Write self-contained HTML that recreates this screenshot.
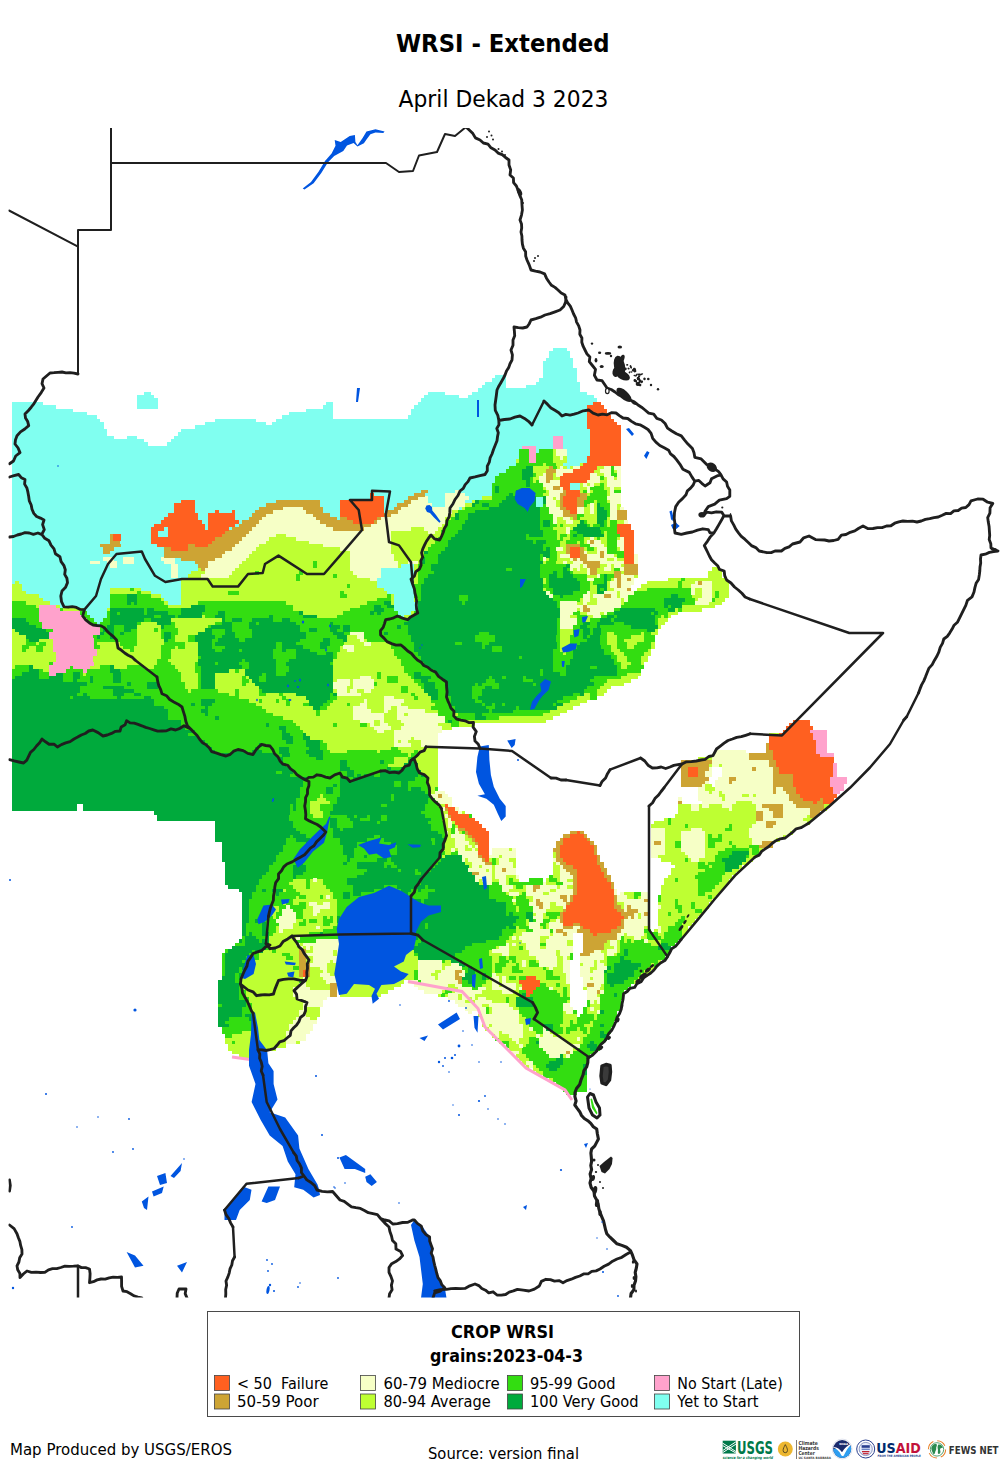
<!DOCTYPE html>
<html><head><meta charset="utf-8"><title>WRSI - Extended</title>
<style>
html,body{margin:0;padding:0;background:#fff}
svg{display:block}
text{font-family:"DejaVu Sans","Liberation Sans",sans-serif}
.b{font-weight:bold}
</style></head><body>
<svg width="1007" height="1473" viewBox="0 0 1007 1473">
<rect width="1007" height="1473" fill="#fff"/>
<defs><clipPath id="mc"><rect x="8.5" y="128" width="992" height="1169.5"/></clipPath></defs>
<g clip-path="url(#mc)">
<g shape-rendering="crispEdges">
<path fill="#80FFF0" d="M552.8 347.7h13.8v3.7h-13.8zM549.4 351.1h20.6v3.7h-20.6zM549.4 354.5h20.6v3.7h-20.6zM546 357.8h27.3v3.7h-27.3zM542.7 361.2h30.7v3.7h-30.7zM542.7 364.6h30.7v3.7h-30.7zM542.7 368h34.1v3.7h-34.1zM542.7 371.4h34.1v3.7h-34.1zM495.3 374.7h10.4v3.7h-10.4zM542.7 374.7h34.1v3.7h-34.1zM492 378.1h13.8v3.7h-13.8zM539.3 378.1h37.5v3.7h-37.5zM485.2 381.5h20.6v3.7h-20.6zM535.9 381.5h44.2v3.7h-44.2zM481.8 384.9h24v3.7h-24zM525.8 384.9h54.4v3.7h-54.4zM478.4 388.3h101.7v3.7h-101.7zM143.8 391.6h7.1v3.7h-7.1zM427.7 391.6h17.2v3.7h-17.2zM471.7 391.6h115.2v3.7h-115.2zM137.1 395h17.2v3.7h-17.2zM424.4 395h34.1v3.7h-34.1zM468.3 395h125.4v3.7h-125.4zM137.1 398.4h20.6v3.7h-20.6zM421 398.4h176.1v3.7h-176.1zM12 401.8h30.7v3.7h-30.7zM137.1 401.8h20.6v3.7h-20.6zM326.3 401.8h7.1v3.7h-7.1zM417.6 401.8h176.1v3.7h-176.1zM12 405.2h44.2v3.7h-44.2zM137.1 405.2h20.6v3.7h-20.6zM323 405.2h10.4v3.7h-10.4zM414.2 405.2h172.7v3.7h-172.7zM12 408.5h61.1v3.7h-61.1zM306.1 408.5h27.3v3.7h-27.3zM410.8 408.5h176.1v3.7h-176.1zM12 411.9h74.7v3.7h-74.7zM289.2 411.9h44.2v3.7h-44.2zM410.8 411.9h176.1v3.7h-176.1zM12 415.3h84.8v3.7h-84.8zM282.4 415.3h51v3.7h-51zM407.5 415.3h179.4v3.7h-179.4zM12 418.7h88.2v3.7h-88.2zM214.8 418.7h40.9v3.7h-40.9zM275.6 418.7h311.3v3.7h-311.3zM12 422.1h91.6v3.7h-91.6zM204.7 422.1h61.1v3.7h-61.1zM272.3 422.1h314.6v3.7h-314.6zM12 425.4h91.6v3.7h-91.6zM194.5 425.4h392.4v3.7h-392.4zM12 428.8h94.9v3.7h-94.9zM181 428.8h409.3v3.7h-409.3zM12 432.2h94.9v3.7h-94.9zM177.6 432.2h412.7v3.7h-412.7zM12 435.6h101.7v3.7h-101.7zM126.9 435.6h10.4v3.7h-10.4zM174.2 435.6h378.9v3.7h-378.9zM562.9 435.6h27.3v3.7h-27.3zM12 439h132.1v3.7h-132.1zM170.9 439h382.2v3.7h-382.2zM562.9 439h27.3v3.7h-27.3zM12 442.3h135.5v3.7h-135.5zM167.5 442.3h385.6v3.7h-385.6zM562.9 442.3h27.3v3.7h-27.3zM12 445.7h510.7v3.7h-510.7zM535.9 445.7h17.2v3.7h-17.2zM562.9 445.7h27.3v3.7h-27.3zM12 449.1h507.3v3.7h-507.3zM535.9 449.1h3.7v3.7h-3.7zM566.3 449.1h24v3.7h-24zM12 452.5h507.3v3.7h-507.3zM566.3 452.5h24v3.7h-24zM12 455.9h507.3v3.7h-507.3zM566.3 455.9h20.6v3.7h-20.6zM12 459.2h503.9v3.7h-503.9zM566.3 459.2h20.6v3.7h-20.6zM12 462.6h503.9v3.7h-503.9zM562.9 462.6h17.2v3.7h-17.2zM12 466h497.2v3.7h-497.2zM566.3 466h3.7v3.7h-3.7zM12 469.4h493.8v3.7h-493.8zM12 472.8h487v3.7h-487zM12 476.1h483.6v3.7h-483.6zM12 479.5h483.6v3.7h-483.6zM12 482.9h480.3v3.7h-480.3zM569.7 482.9h10.4v3.7h-10.4zM12 486.3h480.3v3.7h-480.3zM569.7 486.3h10.4v3.7h-10.4zM12 489.7h409.3v3.7h-409.3zM427.7 489.7h27.3v3.7h-27.3zM458.2 489.7h34.1v3.7h-34.1zM12 493h358.6v3.7h-358.6zM373.7 493h40.9v3.7h-40.9zM424.4 493h20.6v3.7h-20.6zM464.9 493h27.3v3.7h-27.3zM12 496.4h358.6v3.7h-358.6zM383.8 496.4h24v3.7h-24zM427.7 496.4h17.2v3.7h-17.2zM468.3 496.4h13.8v3.7h-13.8zM535.9 496.4h7.1v3.7h-7.1zM12 499.8h169.3v3.7h-169.3zM194.5 499.8h81.4v3.7h-81.4zM319.6 499.8h20.6v3.7h-20.6zM383.8 499.8h20.6v3.7h-20.6zM427.7 499.8h17.2v3.7h-17.2zM464.9 499.8h7.1v3.7h-7.1zM535.9 499.8h7.1v3.7h-7.1zM12 503.2h162.5v3.7h-162.5zM194.5 503.2h71.3v3.7h-71.3zM319.6 503.2h20.6v3.7h-20.6zM383.8 503.2h13.8v3.7h-13.8zM431.1 503.2h13.8v3.7h-13.8zM535.9 503.2h7.1v3.7h-7.1zM12 506.6h162.5v3.7h-162.5zM194.5 506.6h64.5v3.7h-64.5zM323 506.6h17.2v3.7h-17.2zM383.8 506.6h10.4v3.7h-10.4zM458.2 506.6h3.7v3.7h-3.7zM12 509.9h162.5v3.7h-162.5zM194.5 509.9h20.6v3.7h-20.6zM218.2 509.9h13.8v3.7h-13.8zM235.1 509.9h20.6v3.7h-20.6zM323 509.9h17.2v3.7h-17.2zM383.8 509.9h3.7v3.7h-3.7zM12 513.3h155.8v3.7h-155.8zM197.9 513.3h10.4v3.7h-10.4zM235.1 513.3h17.2v3.7h-17.2zM329.7 513.3h10.4v3.7h-10.4zM12 516.7h152.4v3.7h-152.4zM197.9 516.7h10.4v3.7h-10.4zM235.1 516.7h13.8v3.7h-13.8zM336.5 516.7h3.7v3.7h-3.7zM12 520.1h149v3.7h-149zM201.3 520.1h7.1v3.7h-7.1zM238.5 520.1h3.7v3.7h-3.7zM12 523.5h142.3v3.7h-142.3zM204.7 523.5h3.7v3.7h-3.7zM235.1 523.5h3.7v3.7h-3.7zM12 526.8h138.9v3.7h-138.9zM164.1 526.8h3.7v3.7h-3.7zM204.7 526.8h3.7v3.7h-3.7zM228.3 526.8h3.7v3.7h-3.7zM12 530.2h138.9v3.7h-138.9zM157.3 530.2h10.4v3.7h-10.4zM12 533.6h98.3v3.7h-98.3zM120.2 533.6h30.7v3.7h-30.7zM157.3 533.6h10.4v3.7h-10.4zM12 537h98.3v3.7h-98.3zM120.2 537h30.7v3.7h-30.7zM12 540.4h98.3v3.7h-98.3zM120.2 540.4h30.7v3.7h-30.7zM12 543.7h88.2v3.7h-88.2zM120.2 543.7h37.5v3.7h-37.5zM12 547.1h91.6v3.7h-91.6zM113.4 547.1h51v3.7h-51zM12 550.5h91.6v3.7h-91.6zM110 550.5h54.4v3.7h-54.4zM12 553.9h152.4v3.7h-152.4zM12 557.3h91.6v3.7h-91.6zM113.4 557.3h10.4v3.7h-10.4zM133.7 557.3h27.3v3.7h-27.3zM174.2 557.3h7.1v3.7h-7.1zM12 560.6h78v3.7h-78zM99.9 560.6h7.1v3.7h-7.1zM116.8 560.6h7.1v3.7h-7.1zM133.7 560.6h30.7v3.7h-30.7zM174.2 560.6h20.6v3.7h-20.6zM12 564h98.3v3.7h-98.3zM116.8 564h54.4v3.7h-54.4zM177.6 564h20.6v3.7h-20.6zM400.7 564h13.8v3.7h-13.8zM12 567.4h159.2v3.7h-159.2zM177.6 567.4h20.6v3.7h-20.6zM380.4 567.4h34.1v3.7h-34.1zM12 570.8h159.2v3.7h-159.2zM177.6 570.8h13.8v3.7h-13.8zM380.4 570.8h34.1v3.7h-34.1zM12 574.2h159.2v3.7h-159.2zM177.6 574.2h10.4v3.7h-10.4zM380.4 574.2h34.1v3.7h-34.1zM12 577.5h169.3v3.7h-169.3zM377 577.5h37.5v3.7h-37.5zM12 580.9h3.7v3.7h-3.7zM18.8 580.9h162.5v3.7h-162.5zM377 580.9h37.5v3.7h-37.5zM22.1 584.3h159.2v3.7h-159.2zM377 584.3h37.5v3.7h-37.5zM22.1 587.7h88.2v3.7h-88.2zM140.4 587.7h40.9v3.7h-40.9zM383.8 587.7h30.7v3.7h-30.7zM25.5 591.1h84.8v3.7h-84.8zM150.6 591.1h30.7v3.7h-30.7zM387.2 591.1h27.3v3.7h-27.3zM39 594.4h71.3v3.7h-71.3zM160.7 594.4h20.6v3.7h-20.6zM393.9 594.4h20.6v3.7h-20.6zM42.4 597.8h67.9v3.7h-67.9zM164.1 597.8h17.2v3.7h-17.2zM393.9 597.8h20.6v3.7h-20.6zM49.2 601.2h61.1v3.7h-61.1zM167.5 601.2h13.8v3.7h-13.8zM393.9 601.2h24v3.7h-24zM59.3 604.6h51v3.7h-51zM393.9 604.6h24v3.7h-24zM83 608h24v3.7h-24zM393.9 608h24v3.7h-24zM86.4 611.3h20.6v3.7h-20.6zM397.3 611.3h13.8v3.7h-13.8zM89.7 614.7h17.2v3.7h-17.2zM400.7 614.7h3.7v3.7h-3.7zM93.1 618.1h10.4v3.7h-10.4zM96.5 621.5h3.7v3.7h-3.7z"/>
<path fill="#BEFF32" d="M552.8 449.1h3.7v3.7h-3.7zM552.8 452.5h3.7v3.7h-3.7zM552.8 455.9h7.1v3.7h-7.1zM562.9 455.9h3.7v3.7h-3.7zM515.6 459.2h3.7v3.7h-3.7zM552.8 459.2h13.8v3.7h-13.8zM542.7 462.6h3.7v3.7h-3.7zM556.2 462.6h7.1v3.7h-7.1zM579.8 462.6h3.7v3.7h-3.7zM532.5 466h17.2v3.7h-17.2zM556.2 466h3.7v3.7h-3.7zM562.9 466h3.7v3.7h-3.7zM569.7 466h3.7v3.7h-3.7zM596.7 466h7.1v3.7h-7.1zM532.5 469.4h13.8v3.7h-13.8zM593.4 469.4h7.1v3.7h-7.1zM613.6 469.4h3.7v3.7h-3.7zM535.9 472.8h7.1v3.7h-7.1zM552.8 472.8h3.7v3.7h-3.7zM596.7 472.8h7.1v3.7h-7.1zM532.5 476.1h7.1v3.7h-7.1zM552.8 476.1h7.1v3.7h-7.1zM603.5 476.1h3.7v3.7h-3.7zM613.6 476.1h3.7v3.7h-3.7zM532.5 479.5h3.7v3.7h-3.7zM600.1 479.5h7.1v3.7h-7.1zM579.8 482.9h3.7v3.7h-3.7zM586.6 482.9h3.7v3.7h-3.7zM593.4 482.9h7.1v3.7h-7.1zM603.5 482.9h3.7v3.7h-3.7zM542.7 486.3h3.7v3.7h-3.7zM579.8 486.3h7.1v3.7h-7.1zM603.5 486.3h7.1v3.7h-7.1zM613.6 486.3h7.1v3.7h-7.1zM546 489.7h3.7v3.7h-3.7zM579.8 489.7h3.7v3.7h-3.7zM590 489.7h3.7v3.7h-3.7zM606.9 489.7h3.7v3.7h-3.7zM542.7 493h7.1v3.7h-7.1zM586.6 493h3.7v3.7h-3.7zM606.9 493h3.7v3.7h-3.7zM481.8 496.4h10.4v3.7h-10.4zM552.8 496.4h3.7v3.7h-3.7zM471.7 499.8h3.7v3.7h-3.7zM556.2 499.8h3.7v3.7h-3.7zM593.4 499.8h3.7v3.7h-3.7zM606.9 499.8h3.7v3.7h-3.7zM464.9 503.2h7.1v3.7h-7.1zM556.2 503.2h3.7v3.7h-3.7zM586.6 503.2h3.7v3.7h-3.7zM593.4 503.2h3.7v3.7h-3.7zM617 503.2h3.7v3.7h-3.7zM461.5 506.6h3.7v3.7h-3.7zM583.2 506.6h7.1v3.7h-7.1zM593.4 506.6h3.7v3.7h-3.7zM617 506.6h3.7v3.7h-3.7zM451.4 509.9h7.1v3.7h-7.1zM583.2 509.9h7.1v3.7h-7.1zM593.4 509.9h3.7v3.7h-3.7zM448 513.3h7.1v3.7h-7.1zM583.2 513.3h13.8v3.7h-13.8zM444.6 516.7h7.1v3.7h-7.1zM556.2 516.7h7.1v3.7h-7.1zM569.7 516.7h3.7v3.7h-3.7zM579.8 516.7h17.2v3.7h-17.2zM606.9 516.7h3.7v3.7h-3.7zM444.6 520.1h3.7v3.7h-3.7zM556.2 520.1h10.4v3.7h-10.4zM573.1 520.1h7.1v3.7h-7.1zM586.6 520.1h10.4v3.7h-10.4zM606.9 520.1h3.7v3.7h-3.7zM617 520.1h7.1v3.7h-7.1zM441.3 523.5h3.7v3.7h-3.7zM556.2 523.5h3.7v3.7h-3.7zM562.9 523.5h13.8v3.7h-13.8zM590 523.5h3.7v3.7h-3.7zM606.9 523.5h3.7v3.7h-3.7zM410.8 526.8h13.8v3.7h-13.8zM437.9 526.8h7.1v3.7h-7.1zM552.8 526.8h13.8v3.7h-13.8zM569.7 526.8h3.7v3.7h-3.7zM390.6 530.2h37.5v3.7h-37.5zM434.5 530.2h7.1v3.7h-7.1zM556.2 530.2h10.4v3.7h-10.4zM603.5 530.2h3.7v3.7h-3.7zM275.6 533.6h10.4v3.7h-10.4zM390.6 533.6h51v3.7h-51zM556.2 533.6h3.7v3.7h-3.7zM566.3 533.6h3.7v3.7h-3.7zM603.5 533.6h3.7v3.7h-3.7zM268.9 537h27.3v3.7h-27.3zM390.6 537h47.6v3.7h-47.6zM556.2 537h3.7v3.7h-3.7zM562.9 537h7.1v3.7h-7.1zM583.2 537h7.1v3.7h-7.1zM593.4 537h3.7v3.7h-3.7zM600.1 537h7.1v3.7h-7.1zM617 537h3.7v3.7h-3.7zM265.5 540.4h44.2v3.7h-44.2zM390.6 540.4h44.2v3.7h-44.2zM559.6 540.4h7.1v3.7h-7.1zM576.5 540.4h3.7v3.7h-3.7zM583.2 540.4h3.7v3.7h-3.7zM600.1 540.4h7.1v3.7h-7.1zM258.7 543.7h64.5v3.7h-64.5zM390.6 543.7h40.9v3.7h-40.9zM559.6 543.7h7.1v3.7h-7.1zM603.5 543.7h3.7v3.7h-3.7zM255.4 547.1h84.8v3.7h-84.8zM390.6 547.1h37.5v3.7h-37.5zM562.9 547.1h3.7v3.7h-3.7zM583.2 547.1h3.7v3.7h-3.7zM593.4 547.1h3.7v3.7h-3.7zM617 547.1h3.7v3.7h-3.7zM252 550.5h98.3v3.7h-98.3zM390.6 550.5h34.1v3.7h-34.1zM556.2 550.5h10.4v3.7h-10.4zM586.6 550.5h10.4v3.7h-10.4zM248.6 553.9h101.7v3.7h-101.7zM393.9 553.9h30.7v3.7h-30.7zM556.2 553.9h3.7v3.7h-3.7zM613.6 553.9h3.7v3.7h-3.7zM245.2 557.3h105.1v3.7h-105.1zM393.9 557.3h27.3v3.7h-27.3zM546 557.3h3.7v3.7h-3.7zM556.2 557.3h13.8v3.7h-13.8zM606.9 557.3h7.1v3.7h-7.1zM617 557.3h7.1v3.7h-7.1zM241.8 560.6h71.3v3.7h-71.3zM316.2 560.6h34.1v3.7h-34.1zM397.3 560.6h10.4v3.7h-10.4zM417.6 560.6h3.7v3.7h-3.7zM542.7 560.6h3.7v3.7h-3.7zM556.2 560.6h7.1v3.7h-7.1zM566.3 560.6h7.1v3.7h-7.1zM238.5 564h74.7v3.7h-74.7zM316.2 564h34.1v3.7h-34.1zM397.3 564h3.7v3.7h-3.7zM414.2 564h3.7v3.7h-3.7zM579.8 564h3.7v3.7h-3.7zM600.1 564h7.1v3.7h-7.1zM610.3 564h3.7v3.7h-3.7zM620.4 564h3.7v3.7h-3.7zM197.9 567.4h3.7v3.7h-3.7zM235.1 567.4h115.2v3.7h-115.2zM414.2 567.4h3.7v3.7h-3.7zM573.1 567.4h3.7v3.7h-3.7zM579.8 567.4h7.1v3.7h-7.1zM596.7 567.4h7.1v3.7h-7.1zM610.3 567.4h3.7v3.7h-3.7zM711.7 567.4h7.1v3.7h-7.1zM191.1 570.8h13.8v3.7h-13.8zM231.7 570.8h24v3.7h-24zM258.7 570.8h40.9v3.7h-40.9zM302.7 570.8h51v3.7h-51zM414.2 570.8h3.7v3.7h-3.7zM573.1 570.8h13.8v3.7h-13.8zM596.7 570.8h17.2v3.7h-17.2zM620.4 570.8h3.7v3.7h-3.7zM708.3 570.8h13.8v3.7h-13.8zM187.8 574.2h13.8v3.7h-13.8zM228.3 574.2h67.9v3.7h-67.9zM299.3 574.2h34.1v3.7h-34.1zM336.5 574.2h20.6v3.7h-20.6zM414.2 574.2h3.7v3.7h-3.7zM586.6 574.2h10.4v3.7h-10.4zM633.9 574.2h3.7v3.7h-3.7zM708.3 574.2h13.8v3.7h-13.8zM181 577.5h115.2v3.7h-115.2zM299.3 577.5h71.3v3.7h-71.3zM414.2 577.5h3.7v3.7h-3.7zM542.7 577.5h3.7v3.7h-3.7zM610.3 577.5h3.7v3.7h-3.7zM667.7 577.5h13.8v3.7h-13.8zM684.6 577.5h40.9v3.7h-40.9zM15.4 580.9h3.7v3.7h-3.7zM181 580.9h196.3v3.7h-196.3zM414.2 580.9h3.7v3.7h-3.7zM542.7 580.9h3.7v3.7h-3.7zM590 580.9h3.7v3.7h-3.7zM606.9 580.9h3.7v3.7h-3.7zM647.4 580.9h30.7v3.7h-30.7zM681.2 580.9h13.8v3.7h-13.8zM711.7 580.9h17.2v3.7h-17.2zM12 584.3h10.4v3.7h-10.4zM181 584.3h165.9v3.7h-165.9zM350 584.3h27.3v3.7h-27.3zM590 584.3h7.1v3.7h-7.1zM606.9 584.3h3.7v3.7h-3.7zM640.7 584.3h37.5v3.7h-37.5zM681.2 584.3h10.4v3.7h-10.4zM711.7 584.3h17.2v3.7h-17.2zM12 587.7h10.4v3.7h-10.4zM110 587.7h20.6v3.7h-20.6zM133.7 587.7h7.1v3.7h-7.1zM181 587.7h203.1v3.7h-203.1zM542.7 587.7h3.7v3.7h-3.7zM590 587.7h7.1v3.7h-7.1zM606.9 587.7h7.1v3.7h-7.1zM637.3 587.7h10.4v3.7h-10.4zM694.8 587.7h7.1v3.7h-7.1zM711.7 587.7h17.2v3.7h-17.2zM12 591.1h13.8v3.7h-13.8zM110 591.1h27.3v3.7h-27.3zM140.4 591.1h10.4v3.7h-10.4zM181 591.1h47.6v3.7h-47.6zM238.5 591.1h101.7v3.7h-101.7zM343.2 591.1h44.2v3.7h-44.2zM590 591.1h7.1v3.7h-7.1zM617 591.1h3.7v3.7h-3.7zM694.8 591.1h7.1v3.7h-7.1zM711.7 591.1h3.7v3.7h-3.7zM718.4 591.1h10.4v3.7h-10.4zM12 594.4h27.3v3.7h-27.3zM150.6 594.4h10.4v3.7h-10.4zM181 594.4h159.2v3.7h-159.2zM346.6 594.4h40.9v3.7h-40.9zM390.6 594.4h3.7v3.7h-3.7zM590 594.4h3.7v3.7h-3.7zM617 594.4h3.7v3.7h-3.7zM691.4 594.4h10.4v3.7h-10.4zM711.7 594.4h3.7v3.7h-3.7zM718.4 594.4h10.4v3.7h-10.4zM12 597.8h30.7v3.7h-30.7zM160.7 597.8h3.7v3.7h-3.7zM181 597.8h196.3v3.7h-196.3zM390.6 597.8h3.7v3.7h-3.7zM414.2 597.8h3.7v3.7h-3.7zM579.8 597.8h3.7v3.7h-3.7zM590 597.8h7.1v3.7h-7.1zM620.4 597.8h3.7v3.7h-3.7zM694.8 597.8h3.7v3.7h-3.7zM715 597.8h10.4v3.7h-10.4zM25.5 601.2h24v3.7h-24zM164.1 601.2h3.7v3.7h-3.7zM181 601.2h17.2v3.7h-17.2zM285.8 601.2h81.4v3.7h-81.4zM390.6 601.2h3.7v3.7h-3.7zM576.5 601.2h7.1v3.7h-7.1zM586.6 601.2h10.4v3.7h-10.4zM620.4 601.2h3.7v3.7h-3.7zM708.3 601.2h13.8v3.7h-13.8zM35.7 604.6h3.7v3.7h-3.7zM55.9 604.6h3.7v3.7h-3.7zM167.5 604.6h24v3.7h-24zM292.5 604.6h67.9v3.7h-67.9zM681.2 604.6h34.1v3.7h-34.1zM62.7 608h20.6v3.7h-20.6zM106.6 608h3.7v3.7h-3.7zM292.5 608h57.8v3.7h-57.8zM576.5 608h3.7v3.7h-3.7zM674.5 608h3.7v3.7h-3.7zM681.2 608h20.6v3.7h-20.6zM302.7 611.3h40.9v3.7h-40.9zM410.8 611.3h3.7v3.7h-3.7zM579.8 611.3h7.1v3.7h-7.1zM600.1 611.3h3.7v3.7h-3.7zM667.7 611.3h10.4v3.7h-10.4zM201.3 614.7h3.7v3.7h-3.7zM316.2 614.7h20.6v3.7h-20.6zM404.1 614.7h7.1v3.7h-7.1zM569.7 614.7h7.1v3.7h-7.1zM586.6 614.7h7.1v3.7h-7.1zM661 614.7h3.7v3.7h-3.7zM667.7 614.7h3.7v3.7h-3.7zM170.9 618.1h51v3.7h-51zM583.2 618.1h7.1v3.7h-7.1zM657.6 618.1h10.4v3.7h-10.4zM140.4 621.5h17.2v3.7h-17.2zM174.2 621.5h40.9v3.7h-40.9zM657.6 621.5h7.1v3.7h-7.1zM137.1 624.9h24v3.7h-24zM174.2 624.9h34.1v3.7h-34.1zM657.6 624.9h3.7v3.7h-3.7zM12 628.2h3.7v3.7h-3.7zM137.1 628.2h17.2v3.7h-17.2zM157.3 628.2h3.7v3.7h-3.7zM177.6 628.2h27.3v3.7h-27.3zM559.6 628.2h13.8v3.7h-13.8zM654.2 628.2h3.7v3.7h-3.7zM12 631.6h7.1v3.7h-7.1zM137.1 631.6h24v3.7h-24zM177.6 631.6h20.6v3.7h-20.6zM559.6 631.6h13.8v3.7h-13.8zM606.9 631.6h7.1v3.7h-7.1zM640.7 631.6h3.7v3.7h-3.7zM650.8 631.6h7.1v3.7h-7.1zM12 635h13.8v3.7h-13.8zM137.1 635h24v3.7h-24zM174.2 635h13.8v3.7h-13.8zM346.6 635h10.4v3.7h-10.4zM559.6 635h10.4v3.7h-10.4zM606.9 635h10.4v3.7h-10.4zM630.5 635h13.8v3.7h-13.8zM12 638.4h13.8v3.7h-13.8zM39 638.4h13.8v3.7h-13.8zM137.1 638.4h27.3v3.7h-27.3zM174.2 638.4h13.8v3.7h-13.8zM346.6 638.4h13.8v3.7h-13.8zM363.5 638.4h3.7v3.7h-3.7zM559.6 638.4h10.4v3.7h-10.4zM606.9 638.4h10.4v3.7h-10.4zM623.8 638.4h20.6v3.7h-20.6zM12 641.8h13.8v3.7h-13.8zM35.7 641.8h3.7v3.7h-3.7zM45.8 641.8h7.1v3.7h-7.1zM96.5 641.8h24v3.7h-24zM137.1 641.8h27.3v3.7h-27.3zM184.4 641.8h13.8v3.7h-13.8zM343.2 641.8h20.6v3.7h-20.6zM370.3 641.8h20.6v3.7h-20.6zM559.6 641.8h10.4v3.7h-10.4zM606.9 641.8h10.4v3.7h-10.4zM627.2 641.8h10.4v3.7h-10.4zM650.8 641.8h3.7v3.7h-3.7zM12 645.1h10.4v3.7h-10.4zM28.9 645.1h7.1v3.7h-7.1zM42.4 645.1h10.4v3.7h-10.4zM99.9 645.1h24v3.7h-24zM133.7 645.1h27.3v3.7h-27.3zM174.2 645.1h3.7v3.7h-3.7zM184.4 645.1h13.8v3.7h-13.8zM339.9 645.1h3.7v3.7h-3.7zM353.4 645.1h37.5v3.7h-37.5zM559.6 645.1h10.4v3.7h-10.4zM610.3 645.1h7.1v3.7h-7.1zM627.2 645.1h7.1v3.7h-7.1zM650.8 645.1h3.7v3.7h-3.7zM12 648.5h10.4v3.7h-10.4zM25.5 648.5h10.4v3.7h-10.4zM42.4 648.5h10.4v3.7h-10.4zM96.5 648.5h34.1v3.7h-34.1zM133.7 648.5h27.3v3.7h-27.3zM170.9 648.5h27.3v3.7h-27.3zM339.9 648.5h7.1v3.7h-7.1zM353.4 648.5h40.9v3.7h-40.9zM559.6 648.5h7.1v3.7h-7.1zM610.3 648.5h10.4v3.7h-10.4zM647.4 648.5h3.7v3.7h-3.7zM12 651.9h44.2v3.7h-44.2zM96.5 651.9h64.5v3.7h-64.5zM170.9 651.9h27.3v3.7h-27.3zM336.5 651.9h57.8v3.7h-57.8zM562.9 651.9h3.7v3.7h-3.7zM613.6 651.9h10.4v3.7h-10.4zM644.1 651.9h7.1v3.7h-7.1zM12 655.3h44.2v3.7h-44.2zM93.1 655.3h67.9v3.7h-67.9zM170.9 655.3h27.3v3.7h-27.3zM336.5 655.3h61.1v3.7h-61.1zM617 655.3h10.4v3.7h-10.4zM640.7 655.3h7.1v3.7h-7.1zM12 658.7h44.2v3.7h-44.2zM93.1 658.7h64.5v3.7h-64.5zM167.5 658.7h30.7v3.7h-30.7zM333.1 658.7h67.9v3.7h-67.9zM617 658.7h10.4v3.7h-10.4zM640.7 658.7h7.1v3.7h-7.1zM12 662h37.5v3.7h-37.5zM93.1 662h64.5v3.7h-64.5zM170.9 662h24v3.7h-24zM333.1 662h67.9v3.7h-67.9zM620.4 662h10.4v3.7h-10.4zM640.7 662h3.7v3.7h-3.7zM12 665.4h3.7v3.7h-3.7zM32.3 665.4h17.2v3.7h-17.2zM89.7 665.4h10.4v3.7h-10.4zM113.4 665.4h13.8v3.7h-13.8zM143.8 665.4h10.4v3.7h-10.4zM174.2 665.4h20.6v3.7h-20.6zM333.1 665.4h71.3v3.7h-71.3zM620.4 665.4h7.1v3.7h-7.1zM42.4 668.8h7.1v3.7h-7.1zM177.6 668.8h17.2v3.7h-17.2zM228.3 668.8h7.1v3.7h-7.1zM238.5 668.8h7.1v3.7h-7.1zM333.1 668.8h71.3v3.7h-71.3zM83 672.2h3.7v3.7h-3.7zM181 672.2h17.2v3.7h-17.2zM214.8 672.2h30.7v3.7h-30.7zM333.1 672.2h44.2v3.7h-44.2zM380.4 672.2h27.3v3.7h-27.3zM627.2 672.2h13.8v3.7h-13.8zM181 675.6h17.2v3.7h-17.2zM214.8 675.6h27.3v3.7h-27.3zM245.2 675.6h3.7v3.7h-3.7zM333.1 675.6h27.3v3.7h-27.3zM370.3 675.6h7.1v3.7h-7.1zM380.4 675.6h7.1v3.7h-7.1zM397.3 675.6h13.8v3.7h-13.8zM620.4 675.6h17.2v3.7h-17.2zM181 678.9h17.2v3.7h-17.2zM214.8 678.9h27.3v3.7h-27.3zM248.6 678.9h3.7v3.7h-3.7zM333.1 678.9h3.7v3.7h-3.7zM350 678.9h3.7v3.7h-3.7zM373.7 678.9h13.8v3.7h-13.8zM397.3 678.9h17.2v3.7h-17.2zM606.9 678.9h24v3.7h-24zM184.4 682.3h13.8v3.7h-13.8zM214.8 682.3h27.3v3.7h-27.3zM245.2 682.3h10.4v3.7h-10.4zM350 682.3h3.7v3.7h-3.7zM377 682.3h40.9v3.7h-40.9zM603.5 682.3h20.6v3.7h-20.6zM184.4 685.7h13.8v3.7h-13.8zM214.8 685.7h44.2v3.7h-44.2zM346.6 685.7h7.1v3.7h-7.1zM373.7 685.7h27.3v3.7h-27.3zM407.5 685.7h13.8v3.7h-13.8zM600.1 685.7h10.4v3.7h-10.4zM187.8 689.1h3.7v3.7h-3.7zM218.2 689.1h17.2v3.7h-17.2zM238.5 689.1h20.6v3.7h-20.6zM333.1 689.1h3.7v3.7h-3.7zM346.6 689.1h3.7v3.7h-3.7zM356.8 689.1h7.1v3.7h-7.1zM370.3 689.1h30.7v3.7h-30.7zM407.5 689.1h17.2v3.7h-17.2zM596.7 689.1h10.4v3.7h-10.4zM228.3 692.5h7.1v3.7h-7.1zM238.5 692.5h20.6v3.7h-20.6zM265.5 692.5h13.8v3.7h-13.8zM282.4 692.5h13.8v3.7h-13.8zM360.1 692.5h51v3.7h-51zM414.2 692.5h13.8v3.7h-13.8zM583.2 692.5h7.1v3.7h-7.1zM596.7 692.5h7.1v3.7h-7.1zM238.5 695.8h44.2v3.7h-44.2zM285.8 695.8h20.6v3.7h-20.6zM336.5 695.8h47.6v3.7h-47.6zM393.9 695.8h20.6v3.7h-20.6zM417.6 695.8h13.8v3.7h-13.8zM576.5 695.8h13.8v3.7h-13.8zM248.6 699.2h10.4v3.7h-10.4zM262.1 699.2h13.8v3.7h-13.8zM279 699.2h7.1v3.7h-7.1zM289.2 699.2h20.6v3.7h-20.6zM333.1 699.2h30.7v3.7h-30.7zM366.9 699.2h17.2v3.7h-17.2zM404.1 699.2h27.3v3.7h-27.3zM569.7 699.2h17.2v3.7h-17.2zM255.4 702.6h30.7v3.7h-30.7zM289.2 702.6h13.8v3.7h-13.8zM329.7 702.6h17.2v3.7h-17.2zM350 702.6h10.4v3.7h-10.4zM366.9 702.6h17.2v3.7h-17.2zM400.7 702.6h34.1v3.7h-34.1zM562.9 702.6h17.2v3.7h-17.2zM262.1 706h51v3.7h-51zM326.3 706h27.3v3.7h-27.3zM366.9 706h17.2v3.7h-17.2zM390.6 706h7.1v3.7h-7.1zM407.5 706h24v3.7h-24zM556.2 706h17.2v3.7h-17.2zM265.5 709.4h51v3.7h-51zM319.6 709.4h34.1v3.7h-34.1zM370.3 709.4h13.8v3.7h-13.8zM387.2 709.4h10.4v3.7h-10.4zM424.4 709.4h13.8v3.7h-13.8zM549.4 709.4h17.2v3.7h-17.2zM272.3 712.7h44.2v3.7h-44.2zM319.6 712.7h34.1v3.7h-34.1zM383.8 712.7h13.8v3.7h-13.8zM404.1 712.7h3.7v3.7h-3.7zM454.8 712.7h3.7v3.7h-3.7zM542.7 712.7h17.2v3.7h-17.2zM282.4 716.1h71.3v3.7h-71.3zM383.8 716.1h13.8v3.7h-13.8zM498.7 716.1h54.4v3.7h-54.4zM292.5 719.5h67.9v3.7h-67.9zM373.7 719.5h7.1v3.7h-7.1zM383.8 719.5h17.2v3.7h-17.2zM458.2 719.5h88.2v3.7h-88.2zM295.9 722.9h37.5v3.7h-37.5zM336.5 722.9h24v3.7h-24zM366.9 722.9h3.7v3.7h-3.7zM373.7 722.9h7.1v3.7h-7.1zM387.2 722.9h17.2v3.7h-17.2zM437.9 722.9h13.8v3.7h-13.8zM458.2 722.9h17.2v3.7h-17.2zM299.3 726.3h74.7v3.7h-74.7zM390.6 726.3h10.4v3.7h-10.4zM441.3 726.3h10.4v3.7h-10.4zM302.7 729.6h74.7v3.7h-74.7zM383.8 729.6h10.4v3.7h-10.4zM306.1 733h88.2v3.7h-88.2zM769.1 733h10.4v3.7h-10.4zM309.4 736.4h84.8v3.7h-84.8zM410.8 736.4h3.7v3.7h-3.7zM323 739.8h71.3v3.7h-71.3zM397.3 739.8h3.7v3.7h-3.7zM407.5 739.8h13.8v3.7h-13.8zM326.3 743.2h67.9v3.7h-67.9zM410.8 743.2h10.4v3.7h-10.4zM326.3 746.5h64.5v3.7h-64.5zM397.3 746.5h40.9v3.7h-40.9zM329.7 749.9h17.2v3.7h-17.2zM377 749.9h3.7v3.7h-3.7zM400.7 749.9h13.8v3.7h-13.8zM417.6 749.9h20.6v3.7h-20.6zM407.5 753.3h3.7v3.7h-3.7zM417.6 753.3h20.6v3.7h-20.6zM393.9 756.7h13.8v3.7h-13.8zM414.2 756.7h24v3.7h-24zM698.1 756.7h13.8v3.7h-13.8zM393.9 760.1h13.8v3.7h-13.8zM414.2 760.1h24v3.7h-24zM387.2 763.4h17.2v3.7h-17.2zM417.6 763.4h20.6v3.7h-20.6zM708.3 763.4h3.7v3.7h-3.7zM718.4 763.4h3.7v3.7h-3.7zM417.6 766.8h20.6v3.7h-20.6zM421 770.2h17.2v3.7h-17.2zM424.4 773.6h13.8v3.7h-13.8zM427.7 777h10.4v3.7h-10.4zM427.7 780.3h10.4v3.7h-10.4zM427.7 783.7h10.4v3.7h-10.4zM704.9 783.7h7.1v3.7h-7.1zM431.1 787.1h3.7v3.7h-3.7zM704.9 787.1h10.4v3.7h-10.4zM431.1 790.5h3.7v3.7h-3.7zM708.3 790.5h3.7v3.7h-3.7zM718.4 790.5h3.7v3.7h-3.7zM319.6 793.9h3.7v3.7h-3.7zM718.4 793.9h7.1v3.7h-7.1zM742.1 793.9h7.1v3.7h-7.1zM752.2 793.9h3.7v3.7h-3.7zM316.2 797.2h10.4v3.7h-10.4zM721.8 797.2h3.7v3.7h-3.7zM309.4 800.6h20.6v3.7h-20.6zM735.3 800.6h17.2v3.7h-17.2zM309.4 804h10.4v3.7h-10.4zM437.9 804h7.1v3.7h-7.1zM677.9 804h13.8v3.7h-13.8zM698.1 804h3.7v3.7h-3.7zM708.3 804h13.8v3.7h-13.8zM731.9 804h24v3.7h-24zM823.2 804h7.1v3.7h-7.1zM309.4 807.4h10.4v3.7h-10.4zM677.9 807.4h13.8v3.7h-13.8zM698.1 807.4h30.7v3.7h-30.7zM731.9 807.4h24v3.7h-24zM823.2 807.4h3.7v3.7h-3.7zM309.4 810.8h13.8v3.7h-13.8zM441.3 810.8h7.1v3.7h-7.1zM461.5 810.8h3.7v3.7h-3.7zM677.9 810.8h78v3.7h-78zM312.8 814.1h10.4v3.7h-10.4zM441.3 814.1h3.7v3.7h-3.7zM674.5 814.1h81.4v3.7h-81.4zM806.3 814.1h3.7v3.7h-3.7zM441.3 817.5h7.1v3.7h-7.1zM664.3 817.5h3.7v3.7h-3.7zM671.1 817.5h84.8v3.7h-84.8zM802.9 817.5h10.4v3.7h-10.4zM444.6 820.9h3.7v3.7h-3.7zM451.4 820.9h3.7v3.7h-3.7zM654.2 820.9h13.8v3.7h-13.8zM671.1 820.9h84.8v3.7h-84.8zM806.3 820.9h3.7v3.7h-3.7zM444.6 824.3h3.7v3.7h-3.7zM454.8 824.3h3.7v3.7h-3.7zM650.8 824.3h34.1v3.7h-34.1zM688 824.3h40.9v3.7h-40.9zM731.9 824.3h20.6v3.7h-20.6zM444.6 827.7h7.1v3.7h-7.1zM664.3 827.7h27.3v3.7h-27.3zM701.5 827.7h24v3.7h-24zM731.9 827.7h17.2v3.7h-17.2zM448 831h3.7v3.7h-3.7zM458.2 831h3.7v3.7h-3.7zM664.3 831h17.2v3.7h-17.2zM704.9 831h44.2v3.7h-44.2zM789.4 831h3.7v3.7h-3.7zM444.6 834.4h7.1v3.7h-7.1zM464.9 834.4h3.7v3.7h-3.7zM664.3 834.4h17.2v3.7h-17.2zM704.9 834.4h3.7v3.7h-3.7zM711.7 834.4h7.1v3.7h-7.1zM721.8 834.4h27.3v3.7h-27.3zM782.6 834.4h3.7v3.7h-3.7zM444.6 837.8h10.4v3.7h-10.4zM464.9 837.8h7.1v3.7h-7.1zM664.3 837.8h17.2v3.7h-17.2zM704.9 837.8h3.7v3.7h-3.7zM721.8 837.8h30.7v3.7h-30.7zM775.9 837.8h3.7v3.7h-3.7zM444.6 841.2h10.4v3.7h-10.4zM468.3 841.2h7.1v3.7h-7.1zM664.3 841.2h10.4v3.7h-10.4zM704.9 841.2h3.7v3.7h-3.7zM715 841.2h13.8v3.7h-13.8zM731.9 841.2h20.6v3.7h-20.6zM444.6 844.6h10.4v3.7h-10.4zM464.9 844.6h3.7v3.7h-3.7zM471.7 844.6h3.7v3.7h-3.7zM664.3 844.6h10.4v3.7h-10.4zM704.9 844.6h3.7v3.7h-3.7zM715 844.6h17.2v3.7h-17.2zM735.3 844.6h13.8v3.7h-13.8zM441.3 847.9h10.4v3.7h-10.4zM454.8 847.9h3.7v3.7h-3.7zM464.9 847.9h7.1v3.7h-7.1zM475.1 847.9h3.7v3.7h-3.7zM508.9 847.9h3.7v3.7h-3.7zM664.3 847.9h17.2v3.7h-17.2zM704.9 847.9h20.6v3.7h-20.6zM748.8 847.9h3.7v3.7h-3.7zM759 847.9h3.7v3.7h-3.7zM444.6 851.3h7.1v3.7h-7.1zM552.8 851.3h3.7v3.7h-3.7zM664.3 851.3h20.6v3.7h-20.6zM704.9 851.3h13.8v3.7h-13.8zM748.8 851.3h3.7v3.7h-3.7zM441.3 854.7h3.7v3.7h-3.7zM498.7 854.7h3.7v3.7h-3.7zM552.8 854.7h3.7v3.7h-3.7zM657.6 854.7h30.7v3.7h-30.7zM704.9 854.7h10.4v3.7h-10.4zM748.8 854.7h7.1v3.7h-7.1zM464.9 858.1h3.7v3.7h-3.7zM488.6 858.1h3.7v3.7h-3.7zM495.3 858.1h3.7v3.7h-3.7zM508.9 858.1h7.1v3.7h-7.1zM661 858.1h24v3.7h-24zM688 858.1h3.7v3.7h-3.7zM698.1 858.1h17.2v3.7h-17.2zM745.5 858.1h7.1v3.7h-7.1zM464.9 861.5h7.1v3.7h-7.1zM495.3 861.5h3.7v3.7h-3.7zM512.2 861.5h3.7v3.7h-3.7zM552.8 861.5h3.7v3.7h-3.7zM671.1 861.5h27.3v3.7h-27.3zM704.9 861.5h3.7v3.7h-3.7zM742.1 861.5h7.1v3.7h-7.1zM468.3 864.8h3.7v3.7h-3.7zM478.4 864.8h3.7v3.7h-3.7zM492 864.8h3.7v3.7h-3.7zM512.2 864.8h3.7v3.7h-3.7zM552.8 864.8h7.1v3.7h-7.1zM674.5 864.8h24v3.7h-24zM708.3 864.8h3.7v3.7h-3.7zM738.7 864.8h3.7v3.7h-3.7zM485.2 868.2h3.7v3.7h-3.7zM492 868.2h3.7v3.7h-3.7zM552.8 868.2h7.1v3.7h-7.1zM671.1 868.2h34.1v3.7h-34.1zM731.9 868.2h7.1v3.7h-7.1zM492 871.6h3.7v3.7h-3.7zM552.8 871.6h7.1v3.7h-7.1zM671.1 871.6h27.3v3.7h-27.3zM725.2 871.6h10.4v3.7h-10.4zM492 875h3.7v3.7h-3.7zM505.5 875h10.4v3.7h-10.4zM552.8 875h7.1v3.7h-7.1zM667.7 875h27.3v3.7h-27.3zM721.8 875h10.4v3.7h-10.4zM292.5 878.4h13.8v3.7h-13.8zM309.4 878.4h3.7v3.7h-3.7zM316.2 878.4h7.1v3.7h-7.1zM478.4 878.4h3.7v3.7h-3.7zM492 878.4h7.1v3.7h-7.1zM505.5 878.4h3.7v3.7h-3.7zM512.2 878.4h7.1v3.7h-7.1zM546 878.4h3.7v3.7h-3.7zM556.2 878.4h3.7v3.7h-3.7zM566.3 878.4h7.1v3.7h-7.1zM664.3 878.4h10.4v3.7h-10.4zM677.9 878.4h20.6v3.7h-20.6zM721.8 878.4h7.1v3.7h-7.1zM289.2 881.7h17.2v3.7h-17.2zM309.4 881.7h13.8v3.7h-13.8zM478.4 881.7h7.1v3.7h-7.1zM505.5 881.7h3.7v3.7h-3.7zM546 881.7h10.4v3.7h-10.4zM664.3 881.7h34.1v3.7h-34.1zM718.4 881.7h10.4v3.7h-10.4zM292.5 885.1h13.8v3.7h-13.8zM309.4 885.1h17.2v3.7h-17.2zM512.2 885.1h3.7v3.7h-3.7zM522.4 885.1h3.7v3.7h-3.7zM556.2 885.1h3.7v3.7h-3.7zM566.3 885.1h7.1v3.7h-7.1zM661 885.1h37.5v3.7h-37.5zM715 885.1h10.4v3.7h-10.4zM282.4 888.5h3.7v3.7h-3.7zM295.9 888.5h34.1v3.7h-34.1zM508.9 888.5h17.2v3.7h-17.2zM549.4 888.5h7.1v3.7h-7.1zM661 888.5h37.5v3.7h-37.5zM711.7 888.5h10.4v3.7h-10.4zM299.3 891.9h34.1v3.7h-34.1zM505.5 891.9h3.7v3.7h-3.7zM519 891.9h3.7v3.7h-3.7zM542.7 891.9h7.1v3.7h-7.1zM623.8 891.9h10.4v3.7h-10.4zM661 891.9h37.5v3.7h-37.5zM704.9 891.9h13.8v3.7h-13.8zM295.9 895.3h3.7v3.7h-3.7zM306.1 895.3h13.8v3.7h-13.8zM323 895.3h3.7v3.7h-3.7zM329.7 895.3h3.7v3.7h-3.7zM512.2 895.3h3.7v3.7h-3.7zM525.8 895.3h7.1v3.7h-7.1zM627.2 895.3h7.1v3.7h-7.1zM637.3 895.3h3.7v3.7h-3.7zM661 895.3h47.6v3.7h-47.6zM711.7 895.3h3.7v3.7h-3.7zM292.5 898.6h44.2v3.7h-44.2zM529.1 898.6h3.7v3.7h-3.7zM661 898.6h13.8v3.7h-13.8zM677.9 898.6h34.1v3.7h-34.1zM282.4 902h3.7v3.7h-3.7zM292.5 902h7.1v3.7h-7.1zM306.1 902h3.7v3.7h-3.7zM316.2 902h7.1v3.7h-7.1zM329.7 902h7.1v3.7h-7.1zM512.2 902h3.7v3.7h-3.7zM549.4 902h7.1v3.7h-7.1zM617 902h7.1v3.7h-7.1zM657.6 902h17.2v3.7h-17.2zM677.9 902h13.8v3.7h-13.8zM694.8 902h13.8v3.7h-13.8zM272.3 905.4h7.1v3.7h-7.1zM306.1 905.4h7.1v3.7h-7.1zM329.7 905.4h7.1v3.7h-7.1zM515.6 905.4h3.7v3.7h-3.7zM549.4 905.4h13.8v3.7h-13.8zM620.4 905.4h3.7v3.7h-3.7zM661 905.4h13.8v3.7h-13.8zM681.2 905.4h10.4v3.7h-10.4zM694.8 905.4h13.8v3.7h-13.8zM268.9 908.8h10.4v3.7h-10.4zM302.7 908.8h10.4v3.7h-10.4zM319.6 908.8h17.2v3.7h-17.2zM515.6 908.8h3.7v3.7h-3.7zM546 908.8h17.2v3.7h-17.2zM657.6 908.8h20.6v3.7h-20.6zM681.2 908.8h13.8v3.7h-13.8zM701.5 908.8h3.7v3.7h-3.7zM268.9 912.2h7.1v3.7h-7.1zM302.7 912.2h10.4v3.7h-10.4zM316.2 912.2h20.6v3.7h-20.6zM532.5 912.2h3.7v3.7h-3.7zM542.7 912.2h3.7v3.7h-3.7zM637.3 912.2h3.7v3.7h-3.7zM657.6 912.2h10.4v3.7h-10.4zM671.1 912.2h30.7v3.7h-30.7zM272.3 915.5h3.7v3.7h-3.7zM302.7 915.5h20.6v3.7h-20.6zM326.3 915.5h3.7v3.7h-3.7zM333.1 915.5h3.7v3.7h-3.7zM542.7 915.5h7.1v3.7h-7.1zM556.2 915.5h3.7v3.7h-3.7zM637.3 915.5h3.7v3.7h-3.7zM657.6 915.5h24v3.7h-24zM684.6 915.5h13.8v3.7h-13.8zM295.9 918.9h7.1v3.7h-7.1zM306.1 918.9h3.7v3.7h-3.7zM316.2 918.9h7.1v3.7h-7.1zM333.1 918.9h3.7v3.7h-3.7zM525.8 918.9h3.7v3.7h-3.7zM549.4 918.9h7.1v3.7h-7.1zM657.6 918.9h20.6v3.7h-20.6zM684.6 918.9h10.4v3.7h-10.4zM292.5 922.3h7.1v3.7h-7.1zM306.1 922.3h17.2v3.7h-17.2zM329.7 922.3h7.1v3.7h-7.1zM525.8 922.3h3.7v3.7h-3.7zM546 922.3h3.7v3.7h-3.7zM657.6 922.3h17.2v3.7h-17.2zM681.2 922.3h10.4v3.7h-10.4zM275.6 925.7h3.7v3.7h-3.7zM292.5 925.7h24v3.7h-24zM319.6 925.7h13.8v3.7h-13.8zM515.6 925.7h3.7v3.7h-3.7zM539.3 925.7h3.7v3.7h-3.7zM546 925.7h3.7v3.7h-3.7zM644.1 925.7h3.7v3.7h-3.7zM661 925.7h7.1v3.7h-7.1zM681.2 925.7h7.1v3.7h-7.1zM275.6 929.1h3.7v3.7h-3.7zM282.4 929.1h40.9v3.7h-40.9zM515.6 929.1h10.4v3.7h-10.4zM654.2 929.1h3.7v3.7h-3.7zM661 929.1h7.1v3.7h-7.1zM681.2 929.1h7.1v3.7h-7.1zM272.3 932.4h37.5v3.7h-37.5zM346.6 932.4h64.5v3.7h-64.5zM512.2 932.4h10.4v3.7h-10.4zM549.4 932.4h3.7v3.7h-3.7zM623.8 932.4h3.7v3.7h-3.7zM644.1 932.4h3.7v3.7h-3.7zM657.6 932.4h7.1v3.7h-7.1zM681.2 932.4h3.7v3.7h-3.7zM268.9 935.8h27.3v3.7h-27.3zM346.6 935.8h10.4v3.7h-10.4zM363.5 935.8h47.6v3.7h-47.6zM508.9 935.8h3.7v3.7h-3.7zM515.6 935.8h3.7v3.7h-3.7zM539.3 935.8h10.4v3.7h-10.4zM623.8 935.8h10.4v3.7h-10.4zM640.7 935.8h7.1v3.7h-7.1zM661 935.8h3.7v3.7h-3.7zM268.9 939.2h27.3v3.7h-27.3zM346.6 939.2h10.4v3.7h-10.4zM363.5 939.2h3.7v3.7h-3.7zM370.3 939.2h27.3v3.7h-27.3zM400.7 939.2h10.4v3.7h-10.4zM505.5 939.2h17.2v3.7h-17.2zM539.3 939.2h7.1v3.7h-7.1zM566.3 939.2h7.1v3.7h-7.1zM606.9 939.2h3.7v3.7h-3.7zM617 939.2h3.7v3.7h-3.7zM623.8 939.2h3.7v3.7h-3.7zM630.5 939.2h3.7v3.7h-3.7zM647.4 939.2h13.8v3.7h-13.8zM268.9 942.6h27.3v3.7h-27.3zM299.3 942.6h3.7v3.7h-3.7zM343.2 942.6h24v3.7h-24zM373.7 942.6h30.7v3.7h-30.7zM508.9 942.6h3.7v3.7h-3.7zM515.6 942.6h10.4v3.7h-10.4zM566.3 942.6h7.1v3.7h-7.1zM603.5 942.6h7.1v3.7h-7.1zM617 942.6h3.7v3.7h-3.7zM650.8 942.6h10.4v3.7h-10.4zM268.9 946h30.7v3.7h-30.7zM302.7 946h3.7v3.7h-3.7zM309.4 946h3.7v3.7h-3.7zM343.2 946h61.1v3.7h-61.1zM407.5 946h3.7v3.7h-3.7zM495.3 946h3.7v3.7h-3.7zM508.9 946h10.4v3.7h-10.4zM522.4 946h3.7v3.7h-3.7zM539.3 946h7.1v3.7h-7.1zM603.5 946h10.4v3.7h-10.4zM617 946h3.7v3.7h-3.7zM262.1 949.3h10.4v3.7h-10.4zM275.6 949.3h24v3.7h-24zM306.1 949.3h7.1v3.7h-7.1zM333.1 949.3h3.7v3.7h-3.7zM339.9 949.3h74.7v3.7h-74.7zM488.6 949.3h3.7v3.7h-3.7zM508.9 949.3h20.6v3.7h-20.6zM556.2 949.3h3.7v3.7h-3.7zM600.1 949.3h7.1v3.7h-7.1zM617 949.3h3.7v3.7h-3.7zM258.7 952.7h24v3.7h-24zM289.2 952.7h10.4v3.7h-10.4zM333.1 952.7h3.7v3.7h-3.7zM339.9 952.7h74.7v3.7h-74.7zM488.6 952.7h13.8v3.7h-13.8zM508.9 952.7h20.6v3.7h-20.6zM556.2 952.7h3.7v3.7h-3.7zM603.5 952.7h3.7v3.7h-3.7zM613.6 952.7h3.7v3.7h-3.7zM258.7 956.1h27.3v3.7h-27.3zM292.5 956.1h7.1v3.7h-7.1zM306.1 956.1h7.1v3.7h-7.1zM339.9 956.1h78v3.7h-78zM492 956.1h7.1v3.7h-7.1zM505.5 956.1h3.7v3.7h-3.7zM515.6 956.1h20.6v3.7h-20.6zM556.2 956.1h7.1v3.7h-7.1zM566.3 956.1h3.7v3.7h-3.7zM603.5 956.1h3.7v3.7h-3.7zM248.6 959.5h51v3.7h-51zM306.1 959.5h7.1v3.7h-7.1zM329.7 959.5h3.7v3.7h-3.7zM339.9 959.5h78v3.7h-78zM444.6 959.5h7.1v3.7h-7.1zM492 959.5h7.1v3.7h-7.1zM508.9 959.5h3.7v3.7h-3.7zM515.6 959.5h7.1v3.7h-7.1zM525.8 959.5h3.7v3.7h-3.7zM535.9 959.5h3.7v3.7h-3.7zM556.2 959.5h7.1v3.7h-7.1zM593.4 959.5h3.7v3.7h-3.7zM600.1 959.5h7.1v3.7h-7.1zM657.6 959.5h3.7v3.7h-3.7zM248.6 962.9h51v3.7h-51zM326.3 962.9h10.4v3.7h-10.4zM339.9 962.9h24v3.7h-24zM366.9 962.9h51v3.7h-51zM441.3 962.9h10.4v3.7h-10.4zM492 962.9h3.7v3.7h-3.7zM505.5 962.9h10.4v3.7h-10.4zM519 962.9h3.7v3.7h-3.7zM525.8 962.9h3.7v3.7h-3.7zM556.2 962.9h7.1v3.7h-7.1zM579.8 962.9h3.7v3.7h-3.7zM593.4 962.9h3.7v3.7h-3.7zM603.5 962.9h3.7v3.7h-3.7zM650.8 962.9h3.7v3.7h-3.7zM245.2 966.2h47.6v3.7h-47.6zM309.4 966.2h10.4v3.7h-10.4zM326.3 966.2h13.8v3.7h-13.8zM343.2 966.2h74.7v3.7h-74.7zM441.3 966.2h3.7v3.7h-3.7zM492 966.2h3.7v3.7h-3.7zM502.1 966.2h10.4v3.7h-10.4zM519 966.2h24v3.7h-24zM546 966.2h3.7v3.7h-3.7zM552.8 966.2h10.4v3.7h-10.4zM590 966.2h7.1v3.7h-7.1zM647.4 966.2h7.1v3.7h-7.1zM245.2 969.6h54.4v3.7h-54.4zM309.4 969.6h13.8v3.7h-13.8zM326.3 969.6h13.8v3.7h-13.8zM343.2 969.6h71.3v3.7h-71.3zM434.5 969.6h7.1v3.7h-7.1zM492 969.6h3.7v3.7h-3.7zM502.1 969.6h10.4v3.7h-10.4zM522.4 969.6h24v3.7h-24zM552.8 969.6h10.4v3.7h-10.4zM590 969.6h3.7v3.7h-3.7zM644.1 969.6h7.1v3.7h-7.1zM241.8 973h57.8v3.7h-57.8zM309.4 973h10.4v3.7h-10.4zM329.7 973h84.8v3.7h-84.8zM431.1 973h7.1v3.7h-7.1zM495.3 973h51v3.7h-51zM552.8 973h13.8v3.7h-13.8zM640.7 973h7.1v3.7h-7.1zM241.8 976.4h61.1v3.7h-61.1zM306.1 976.4h17.2v3.7h-17.2zM339.9 976.4h74.7v3.7h-74.7zM434.5 976.4h3.7v3.7h-3.7zM488.6 976.4h3.7v3.7h-3.7zM498.7 976.4h3.7v3.7h-3.7zM505.5 976.4h3.7v3.7h-3.7zM515.6 976.4h3.7v3.7h-3.7zM535.9 976.4h10.4v3.7h-10.4zM559.6 976.4h7.1v3.7h-7.1zM590 976.4h3.7v3.7h-3.7zM637.3 976.4h3.7v3.7h-3.7zM241.8 979.8h57.8v3.7h-57.8zM306.1 979.8h20.6v3.7h-20.6zM339.9 979.8h64.5v3.7h-64.5zM485.2 979.8h7.1v3.7h-7.1zM498.7 979.8h3.7v3.7h-3.7zM505.5 979.8h13.8v3.7h-13.8zM539.3 979.8h27.3v3.7h-27.3zM633.9 979.8h3.7v3.7h-3.7zM241.8 983.1h57.8v3.7h-57.8zM306.1 983.1h24v3.7h-24zM339.9 983.1h61.1v3.7h-61.1zM448 983.1h7.1v3.7h-7.1zM481.8 983.1h10.4v3.7h-10.4zM498.7 983.1h3.7v3.7h-3.7zM515.6 983.1h7.1v3.7h-7.1zM546 983.1h10.4v3.7h-10.4zM559.6 983.1h10.4v3.7h-10.4zM600.1 983.1h3.7v3.7h-3.7zM241.8 986.5h51v3.7h-51zM309.4 986.5h20.6v3.7h-20.6zM339.9 986.5h54.4v3.7h-54.4zM448 986.5h10.4v3.7h-10.4zM485.2 986.5h7.1v3.7h-7.1zM515.6 986.5h3.7v3.7h-3.7zM552.8 986.5h10.4v3.7h-10.4zM566.3 986.5h3.7v3.7h-3.7zM583.2 986.5h3.7v3.7h-3.7zM600.1 986.5h3.7v3.7h-3.7zM245.2 989.9h47.6v3.7h-47.6zM339.9 989.9h47.6v3.7h-47.6zM441.3 989.9h3.7v3.7h-3.7zM451.4 989.9h3.7v3.7h-3.7zM481.8 989.9h20.6v3.7h-20.6zM512.2 989.9h7.1v3.7h-7.1zM556.2 989.9h7.1v3.7h-7.1zM566.3 989.9h3.7v3.7h-3.7zM245.2 993.3h47.6v3.7h-47.6zM339.9 993.3h40.9v3.7h-40.9zM437.9 993.3h3.7v3.7h-3.7zM444.6 993.3h3.7v3.7h-3.7zM458.2 993.3h3.7v3.7h-3.7zM475.1 993.3h44.2v3.7h-44.2zM559.6 993.3h3.7v3.7h-3.7zM566.3 993.3h3.7v3.7h-3.7zM596.7 993.3h3.7v3.7h-3.7zM248.6 996.7h47.6v3.7h-47.6zM458.2 996.7h3.7v3.7h-3.7zM468.3 996.7h3.7v3.7h-3.7zM475.1 996.7h3.7v3.7h-3.7zM485.2 996.7h20.6v3.7h-20.6zM508.9 996.7h7.1v3.7h-7.1zM248.6 1000h57.8v3.7h-57.8zM464.9 1000h10.4v3.7h-10.4zM492 1000h13.8v3.7h-13.8zM508.9 1000h7.1v3.7h-7.1zM566.3 1000h3.7v3.7h-3.7zM593.4 1000h3.7v3.7h-3.7zM252 1003.4h51v3.7h-51zM481.8 1003.4h7.1v3.7h-7.1zM508.9 1003.4h7.1v3.7h-7.1zM590 1003.4h10.4v3.7h-10.4zM252 1006.8h51v3.7h-51zM306.1 1006.8h13.8v3.7h-13.8zM488.6 1006.8h3.7v3.7h-3.7zM512.2 1006.8h7.1v3.7h-7.1zM586.6 1006.8h3.7v3.7h-3.7zM593.4 1006.8h7.1v3.7h-7.1zM252 1010.2h47.6v3.7h-47.6zM306.1 1010.2h13.8v3.7h-13.8zM488.6 1010.2h3.7v3.7h-3.7zM562.9 1010.2h3.7v3.7h-3.7zM586.6 1010.2h10.4v3.7h-10.4zM252 1013.6h47.6v3.7h-47.6zM306.1 1013.6h13.8v3.7h-13.8zM478.4 1013.6h3.7v3.7h-3.7zM519 1013.6h3.7v3.7h-3.7zM562.9 1013.6h13.8v3.7h-13.8zM593.4 1013.6h3.7v3.7h-3.7zM252 1016.9h44.2v3.7h-44.2zM309.4 1016.9h7.1v3.7h-7.1zM519 1016.9h7.1v3.7h-7.1zM562.9 1016.9h13.8v3.7h-13.8zM593.4 1016.9h3.7v3.7h-3.7zM252 1020.3h40.9v3.7h-40.9zM519 1020.3h10.4v3.7h-10.4zM562.9 1020.3h7.1v3.7h-7.1zM573.1 1020.3h3.7v3.7h-3.7zM590 1020.3h3.7v3.7h-3.7zM252 1023.7h37.5v3.7h-37.5zM481.8 1023.7h3.7v3.7h-3.7zM488.6 1023.7h3.7v3.7h-3.7zM522.4 1023.7h7.1v3.7h-7.1zM559.6 1023.7h10.4v3.7h-10.4zM583.2 1023.7h10.4v3.7h-10.4zM252 1027.1h37.5v3.7h-37.5zM485.2 1027.1h3.7v3.7h-3.7zM522.4 1027.1h7.1v3.7h-7.1zM562.9 1027.1h3.7v3.7h-3.7zM576.5 1027.1h3.7v3.7h-3.7zM586.6 1027.1h3.7v3.7h-3.7zM241.8 1030.5h44.2v3.7h-44.2zM498.7 1030.5h3.7v3.7h-3.7zM522.4 1030.5h13.8v3.7h-13.8zM549.4 1030.5h3.7v3.7h-3.7zM562.9 1030.5h3.7v3.7h-3.7zM569.7 1030.5h13.8v3.7h-13.8zM586.6 1030.5h3.7v3.7h-3.7zM231.7 1033.8h54.4v3.7h-54.4zM492 1033.8h3.7v3.7h-3.7zM498.7 1033.8h10.4v3.7h-10.4zM522.4 1033.8h13.8v3.7h-13.8zM539.3 1033.8h3.7v3.7h-3.7zM552.8 1033.8h34.1v3.7h-34.1zM224.9 1037.2h61.1v3.7h-61.1zM498.7 1037.2h13.8v3.7h-13.8zM519 1037.2h10.4v3.7h-10.4zM562.9 1037.2h13.8v3.7h-13.8zM579.8 1037.2h3.7v3.7h-3.7zM224.9 1040.6h7.1v3.7h-7.1zM235.1 1040.6h51v3.7h-51zM295.9 1040.6h3.7v3.7h-3.7zM498.7 1040.6h3.7v3.7h-3.7zM508.9 1040.6h7.1v3.7h-7.1zM519 1040.6h10.4v3.7h-10.4zM566.3 1040.6h17.2v3.7h-17.2zM228.3 1044h57.8v3.7h-57.8zM508.9 1044h10.4v3.7h-10.4zM522.4 1044h3.7v3.7h-3.7zM228.3 1047.4h47.6v3.7h-47.6zM508.9 1047.4h13.8v3.7h-13.8zM573.1 1047.4h3.7v3.7h-3.7zM231.7 1050.7h34.1v3.7h-34.1zM519 1050.7h3.7v3.7h-3.7zM238.5 1054.1h13.8v3.7h-13.8zM515.6 1054.1h10.4v3.7h-10.4zM562.9 1054.1h3.7v3.7h-3.7zM519 1057.5h10.4v3.7h-10.4zM522.4 1060.9h3.7v3.7h-3.7zM525.8 1064.3h3.7v3.7h-3.7zM532.5 1064.3h3.7v3.7h-3.7zM532.5 1067.6h7.1v3.7h-7.1zM535.9 1071h7.1v3.7h-7.1zM549.4 1077.8h3.7v3.7h-3.7z"/>
<path fill="#33DD11" d="M519 449.1h10.4v3.7h-10.4zM539.3 449.1h13.8v3.7h-13.8zM519 452.5h10.4v3.7h-10.4zM535.9 452.5h17.2v3.7h-17.2zM519 455.9h10.4v3.7h-10.4zM535.9 455.9h17.2v3.7h-17.2zM519 459.2h10.4v3.7h-10.4zM535.9 459.2h17.2v3.7h-17.2zM515.6 462.6h27.3v3.7h-27.3zM546 462.6h10.4v3.7h-10.4zM508.9 466h17.2v3.7h-17.2zM552.8 466h3.7v3.7h-3.7zM610.3 466h3.7v3.7h-3.7zM505.5 469.4h17.2v3.7h-17.2zM610.3 469.4h3.7v3.7h-3.7zM498.7 472.8h24v3.7h-24zM532.5 472.8h3.7v3.7h-3.7zM610.3 472.8h7.1v3.7h-7.1zM495.3 476.1h27.3v3.7h-27.3zM529.1 476.1h3.7v3.7h-3.7zM600.1 476.1h3.7v3.7h-3.7zM495.3 479.5h30.7v3.7h-30.7zM529.1 479.5h3.7v3.7h-3.7zM535.9 479.5h3.7v3.7h-3.7zM492 482.9h34.1v3.7h-34.1zM529.1 482.9h13.8v3.7h-13.8zM600.1 482.9h3.7v3.7h-3.7zM492 486.3h3.7v3.7h-3.7zM498.7 486.3h44.2v3.7h-44.2zM590 486.3h13.8v3.7h-13.8zM492 489.7h3.7v3.7h-3.7zM498.7 489.7h17.2v3.7h-17.2zM519 489.7h27.3v3.7h-27.3zM583.2 489.7h3.7v3.7h-3.7zM593.4 489.7h13.8v3.7h-13.8zM613.6 489.7h7.1v3.7h-7.1zM492 493h17.2v3.7h-17.2zM512.2 493h3.7v3.7h-3.7zM522.4 493h20.6v3.7h-20.6zM590 493h17.2v3.7h-17.2zM492 496.4h13.8v3.7h-13.8zM529.1 496.4h3.7v3.7h-3.7zM586.6 496.4h20.6v3.7h-20.6zM478.4 499.8h24v3.7h-24zM583.2 499.8h10.4v3.7h-10.4zM596.7 499.8h10.4v3.7h-10.4zM475.1 503.2h7.1v3.7h-7.1zM488.6 503.2h10.4v3.7h-10.4zM542.7 503.2h3.7v3.7h-3.7zM583.2 503.2h3.7v3.7h-3.7zM600.1 503.2h10.4v3.7h-10.4zM464.9 506.6h24v3.7h-24zM539.3 506.6h10.4v3.7h-10.4zM603.5 506.6h7.1v3.7h-7.1zM458.2 509.9h17.2v3.7h-17.2zM539.3 509.9h10.4v3.7h-10.4zM606.9 509.9h3.7v3.7h-3.7zM458.2 513.3h10.4v3.7h-10.4zM539.3 513.3h13.8v3.7h-13.8zM576.5 513.3h7.1v3.7h-7.1zM606.9 513.3h3.7v3.7h-3.7zM451.4 516.7h3.7v3.7h-3.7zM458.2 516.7h10.4v3.7h-10.4zM539.3 516.7h13.8v3.7h-13.8zM576.5 516.7h3.7v3.7h-3.7zM448 520.1h17.2v3.7h-17.2zM539.3 520.1h3.7v3.7h-3.7zM549.4 520.1h3.7v3.7h-3.7zM583.2 520.1h3.7v3.7h-3.7zM603.5 520.1h3.7v3.7h-3.7zM610.3 520.1h7.1v3.7h-7.1zM444.6 523.5h17.2v3.7h-17.2zM539.3 523.5h3.7v3.7h-3.7zM549.4 523.5h7.1v3.7h-7.1zM559.6 523.5h3.7v3.7h-3.7zM586.6 523.5h3.7v3.7h-3.7zM593.4 523.5h7.1v3.7h-7.1zM603.5 523.5h3.7v3.7h-3.7zM610.3 523.5h7.1v3.7h-7.1zM444.6 526.8h17.2v3.7h-17.2zM539.3 526.8h13.8v3.7h-13.8zM600.1 526.8h17.2v3.7h-17.2zM441.3 530.2h17.2v3.7h-17.2zM542.7 530.2h13.8v3.7h-13.8zM569.7 530.2h7.1v3.7h-7.1zM600.1 530.2h3.7v3.7h-3.7zM606.9 530.2h10.4v3.7h-10.4zM441.3 533.6h13.8v3.7h-13.8zM525.8 533.6h3.7v3.7h-3.7zM542.7 533.6h13.8v3.7h-13.8zM559.6 533.6h7.1v3.7h-7.1zM569.7 533.6h3.7v3.7h-3.7zM576.5 533.6h7.1v3.7h-7.1zM606.9 533.6h13.8v3.7h-13.8zM437.9 537h13.8v3.7h-13.8zM525.8 537h30.7v3.7h-30.7zM559.6 537h3.7v3.7h-3.7zM569.7 537h13.8v3.7h-13.8zM596.7 537h3.7v3.7h-3.7zM606.9 537h10.4v3.7h-10.4zM434.5 540.4h13.8v3.7h-13.8zM532.5 540.4h3.7v3.7h-3.7zM546 540.4h13.8v3.7h-13.8zM566.3 540.4h10.4v3.7h-10.4zM579.8 540.4h3.7v3.7h-3.7zM606.9 540.4h10.4v3.7h-10.4zM431.1 543.7h17.2v3.7h-17.2zM542.7 543.7h17.2v3.7h-17.2zM579.8 543.7h10.4v3.7h-10.4zM606.9 543.7h10.4v3.7h-10.4zM427.7 547.1h17.2v3.7h-17.2zM542.7 547.1h3.7v3.7h-3.7zM549.4 547.1h7.1v3.7h-7.1zM586.6 547.1h7.1v3.7h-7.1zM606.9 547.1h10.4v3.7h-10.4zM427.7 550.5h13.8v3.7h-13.8zM549.4 550.5h7.1v3.7h-7.1zM606.9 550.5h17.2v3.7h-17.2zM424.4 553.9h13.8v3.7h-13.8zM539.3 553.9h3.7v3.7h-3.7zM549.4 553.9h7.1v3.7h-7.1zM617 553.9h7.1v3.7h-7.1zM424.4 557.3h13.8v3.7h-13.8zM539.3 557.3h3.7v3.7h-3.7zM549.4 557.3h7.1v3.7h-7.1zM312.8 560.6h3.7v3.7h-3.7zM424.4 560.6h13.8v3.7h-13.8zM546 560.6h10.4v3.7h-10.4zM312.8 564h3.7v3.7h-3.7zM417.6 564h13.8v3.7h-13.8zM539.3 564h27.3v3.7h-27.3zM417.6 567.4h13.8v3.7h-13.8zM505.5 567.4h7.1v3.7h-7.1zM539.3 567.4h24v3.7h-24zM566.3 567.4h3.7v3.7h-3.7zM613.6 567.4h7.1v3.7h-7.1zM255.4 570.8h3.7v3.7h-3.7zM299.3 570.8h3.7v3.7h-3.7zM417.6 570.8h17.2v3.7h-17.2zM539.3 570.8h13.8v3.7h-13.8zM556.2 570.8h7.1v3.7h-7.1zM569.7 570.8h3.7v3.7h-3.7zM295.9 574.2h3.7v3.7h-3.7zM333.1 574.2h3.7v3.7h-3.7zM417.6 574.2h10.4v3.7h-10.4zM539.3 574.2h10.4v3.7h-10.4zM556.2 574.2h7.1v3.7h-7.1zM573.1 574.2h13.8v3.7h-13.8zM600.1 574.2h3.7v3.7h-3.7zM606.9 574.2h7.1v3.7h-7.1zM295.9 577.5h3.7v3.7h-3.7zM417.6 577.5h7.1v3.7h-7.1zM546 577.5h3.7v3.7h-3.7zM576.5 577.5h10.4v3.7h-10.4zM593.4 577.5h10.4v3.7h-10.4zM606.9 577.5h3.7v3.7h-3.7zM681.2 577.5h3.7v3.7h-3.7zM417.6 580.9h7.1v3.7h-7.1zM546 580.9h3.7v3.7h-3.7zM579.8 580.9h10.4v3.7h-10.4zM593.4 580.9h10.4v3.7h-10.4zM677.9 580.9h3.7v3.7h-3.7zM346.6 584.3h3.7v3.7h-3.7zM414.2 584.3h7.1v3.7h-7.1zM542.7 584.3h7.1v3.7h-7.1zM579.8 584.3h10.4v3.7h-10.4zM677.9 584.3h3.7v3.7h-3.7zM130.3 587.7h3.7v3.7h-3.7zM414.2 587.7h7.1v3.7h-7.1zM546 587.7h7.1v3.7h-7.1zM579.8 587.7h10.4v3.7h-10.4zM600.1 587.7h3.7v3.7h-3.7zM647.4 587.7h44.2v3.7h-44.2zM137.1 591.1h3.7v3.7h-3.7zM228.3 591.1h10.4v3.7h-10.4zM339.9 591.1h3.7v3.7h-3.7zM414.2 591.1h7.1v3.7h-7.1zM549.4 591.1h3.7v3.7h-3.7zM573.1 591.1h13.8v3.7h-13.8zM633.9 591.1h57.8v3.7h-57.8zM715 591.1h3.7v3.7h-3.7zM110 594.4h17.2v3.7h-17.2zM137.1 594.4h13.8v3.7h-13.8zM339.9 594.4h7.1v3.7h-7.1zM387.2 594.4h3.7v3.7h-3.7zM414.2 594.4h7.1v3.7h-7.1zM458.2 594.4h10.4v3.7h-10.4zM552.8 594.4h7.1v3.7h-7.1zM562.9 594.4h20.6v3.7h-20.6zM627.2 594.4h44.2v3.7h-44.2zM677.9 594.4h13.8v3.7h-13.8zM715 594.4h3.7v3.7h-3.7zM110 597.8h17.2v3.7h-17.2zM137.1 597.8h24v3.7h-24zM377 597.8h13.8v3.7h-13.8zM417.6 597.8h3.7v3.7h-3.7zM458.2 597.8h10.4v3.7h-10.4zM552.8 597.8h27.3v3.7h-27.3zM627.2 597.8h37.5v3.7h-37.5zM684.6 597.8h10.4v3.7h-10.4zM711.7 597.8h3.7v3.7h-3.7zM12 601.2h13.8v3.7h-13.8zM110 601.2h17.2v3.7h-17.2zM130.3 601.2h3.7v3.7h-3.7zM137.1 601.2h27.3v3.7h-27.3zM197.9 601.2h88.2v3.7h-88.2zM366.9 601.2h17.2v3.7h-17.2zM461.5 601.2h3.7v3.7h-3.7zM556.2 601.2h3.7v3.7h-3.7zM623.8 601.2h40.9v3.7h-40.9zM681.2 601.2h13.8v3.7h-13.8zM12 604.6h24v3.7h-24zM110 604.6h57.8v3.7h-57.8zM204.7 604.6h88.2v3.7h-88.2zM360.1 604.6h13.8v3.7h-13.8zM380.4 604.6h7.1v3.7h-7.1zM556.2 604.6h3.7v3.7h-3.7zM620.4 604.6h44.2v3.7h-44.2zM667.7 604.6h3.7v3.7h-3.7zM12 608h27.3v3.7h-27.3zM59.3 608h3.7v3.7h-3.7zM143.8 608h3.7v3.7h-3.7zM154 608h27.3v3.7h-27.3zM204.7 608h88.2v3.7h-88.2zM350 608h24v3.7h-24zM383.8 608h10.4v3.7h-10.4zM613.6 608h7.1v3.7h-7.1zM654.2 608h13.8v3.7h-13.8zM677.9 608h3.7v3.7h-3.7zM12 611.3h27.3v3.7h-27.3zM79.6 611.3h7.1v3.7h-7.1zM106.6 611.3h3.7v3.7h-3.7zM116.8 611.3h3.7v3.7h-3.7zM143.8 611.3h3.7v3.7h-3.7zM167.5 611.3h13.8v3.7h-13.8zM201.3 611.3h17.2v3.7h-17.2zM224.9 611.3h74.7v3.7h-74.7zM343.2 611.3h27.3v3.7h-27.3zM373.7 611.3h3.7v3.7h-3.7zM380.4 611.3h17.2v3.7h-17.2zM414.2 611.3h3.7v3.7h-3.7zM573.1 611.3h7.1v3.7h-7.1zM606.9 611.3h7.1v3.7h-7.1zM650.8 611.3h3.7v3.7h-3.7zM657.6 611.3h10.4v3.7h-10.4zM12 614.7h27.3v3.7h-27.3zM83 614.7h7.1v3.7h-7.1zM106.6 614.7h3.7v3.7h-3.7zM154 614.7h7.1v3.7h-7.1zM174.2 614.7h3.7v3.7h-3.7zM204.7 614.7h10.4v3.7h-10.4zM224.9 614.7h44.2v3.7h-44.2zM272.3 614.7h30.7v3.7h-30.7zM336.5 614.7h64.5v3.7h-64.5zM576.5 614.7h10.4v3.7h-10.4zM600.1 614.7h7.1v3.7h-7.1zM613.6 614.7h3.7v3.7h-3.7zM654.2 614.7h7.1v3.7h-7.1zM664.3 614.7h3.7v3.7h-3.7zM25.5 618.1h13.8v3.7h-13.8zM86.4 618.1h7.1v3.7h-7.1zM103.3 618.1h7.1v3.7h-7.1zM143.8 618.1h7.1v3.7h-7.1zM224.9 618.1h7.1v3.7h-7.1zM241.8 618.1h10.4v3.7h-10.4zM272.3 618.1h10.4v3.7h-10.4zM289.2 618.1h118.6v3.7h-118.6zM556.2 618.1h3.7v3.7h-3.7zM576.5 618.1h7.1v3.7h-7.1zM590 618.1h10.4v3.7h-10.4zM610.3 618.1h3.7v3.7h-3.7zM654.2 618.1h3.7v3.7h-3.7zM28.9 621.5h13.8v3.7h-13.8zM89.7 621.5h7.1v3.7h-7.1zM99.9 621.5h10.4v3.7h-10.4zM137.1 621.5h3.7v3.7h-3.7zM170.9 621.5h3.7v3.7h-3.7zM214.8 621.5h7.1v3.7h-7.1zM231.7 621.5h17.2v3.7h-17.2zM255.4 621.5h3.7v3.7h-3.7zM295.9 621.5h34.1v3.7h-34.1zM333.1 621.5h71.3v3.7h-71.3zM556.2 621.5h3.7v3.7h-3.7zM576.5 621.5h7.1v3.7h-7.1zM590 621.5h7.1v3.7h-7.1zM613.6 621.5h10.4v3.7h-10.4zM654.2 621.5h3.7v3.7h-3.7zM35.7 624.9h7.1v3.7h-7.1zM99.9 624.9h7.1v3.7h-7.1zM113.4 624.9h10.4v3.7h-10.4zM164.1 624.9h10.4v3.7h-10.4zM208 624.9h3.7v3.7h-3.7zM231.7 624.9h17.2v3.7h-17.2zM299.3 624.9h30.7v3.7h-30.7zM339.9 624.9h3.7v3.7h-3.7zM350 624.9h47.6v3.7h-47.6zM400.7 624.9h7.1v3.7h-7.1zM556.2 624.9h3.7v3.7h-3.7zM573.1 624.9h7.1v3.7h-7.1zM586.6 624.9h10.4v3.7h-10.4zM600.1 624.9h30.7v3.7h-30.7zM45.8 628.2h7.1v3.7h-7.1zM99.9 628.2h3.7v3.7h-3.7zM113.4 628.2h10.4v3.7h-10.4zM130.3 628.2h7.1v3.7h-7.1zM154 628.2h3.7v3.7h-3.7zM160.7 628.2h17.2v3.7h-17.2zM211.4 628.2h13.8v3.7h-13.8zM231.7 628.2h20.6v3.7h-20.6zM299.3 628.2h10.4v3.7h-10.4zM316.2 628.2h13.8v3.7h-13.8zM336.5 628.2h7.1v3.7h-7.1zM350 628.2h57.8v3.7h-57.8zM556.2 628.2h3.7v3.7h-3.7zM573.1 628.2h10.4v3.7h-10.4zM590 628.2h3.7v3.7h-3.7zM600.1 628.2h47.6v3.7h-47.6zM103.3 631.6h7.1v3.7h-7.1zM113.4 631.6h7.1v3.7h-7.1zM123.5 631.6h13.8v3.7h-13.8zM160.7 631.6h3.7v3.7h-3.7zM170.9 631.6h7.1v3.7h-7.1zM211.4 631.6h13.8v3.7h-13.8zM235.1 631.6h17.2v3.7h-17.2zM306.1 631.6h27.3v3.7h-27.3zM343.2 631.6h7.1v3.7h-7.1zM363.5 631.6h20.6v3.7h-20.6zM387.2 631.6h20.6v3.7h-20.6zM478.4 631.6h10.4v3.7h-10.4zM556.2 631.6h3.7v3.7h-3.7zM573.1 631.6h10.4v3.7h-10.4zM590 631.6h3.7v3.7h-3.7zM600.1 631.6h7.1v3.7h-7.1zM613.6 631.6h27.3v3.7h-27.3zM644.1 631.6h7.1v3.7h-7.1zM93.1 635h3.7v3.7h-3.7zM99.9 635h10.4v3.7h-10.4zM113.4 635h24v3.7h-24zM160.7 635h3.7v3.7h-3.7zM170.9 635h3.7v3.7h-3.7zM187.8 635h7.1v3.7h-7.1zM214.8 635h7.1v3.7h-7.1zM235.1 635h17.2v3.7h-17.2zM306.1 635h30.7v3.7h-30.7zM363.5 635h47.6v3.7h-47.6zM475.1 635h20.6v3.7h-20.6zM556.2 635h3.7v3.7h-3.7zM569.7 635h13.8v3.7h-13.8zM586.6 635h3.7v3.7h-3.7zM600.1 635h7.1v3.7h-7.1zM617 635h13.8v3.7h-13.8zM644.1 635h10.4v3.7h-10.4zM25.5 638.4h3.7v3.7h-3.7zM93.1 638.4h44.2v3.7h-44.2zM167.5 638.4h7.1v3.7h-7.1zM187.8 638.4h7.1v3.7h-7.1zM211.4 638.4h7.1v3.7h-7.1zM238.5 638.4h7.1v3.7h-7.1zM299.3 638.4h24v3.7h-24zM329.7 638.4h13.8v3.7h-13.8zM366.9 638.4h44.2v3.7h-44.2zM475.1 638.4h20.6v3.7h-20.6zM556.2 638.4h3.7v3.7h-3.7zM569.7 638.4h17.2v3.7h-17.2zM600.1 638.4h7.1v3.7h-7.1zM617 638.4h7.1v3.7h-7.1zM644.1 638.4h10.4v3.7h-10.4zM25.5 641.8h10.4v3.7h-10.4zM39 641.8h7.1v3.7h-7.1zM93.1 641.8h3.7v3.7h-3.7zM120.2 641.8h17.2v3.7h-17.2zM164.1 641.8h20.6v3.7h-20.6zM211.4 641.8h3.7v3.7h-3.7zM275.6 641.8h7.1v3.7h-7.1zM295.9 641.8h24v3.7h-24zM329.7 641.8h13.8v3.7h-13.8zM390.6 641.8h24v3.7h-24zM454.8 641.8h7.1v3.7h-7.1zM481.8 641.8h7.1v3.7h-7.1zM556.2 641.8h3.7v3.7h-3.7zM569.7 641.8h10.4v3.7h-10.4zM600.1 641.8h7.1v3.7h-7.1zM617 641.8h10.4v3.7h-10.4zM637.3 641.8h13.8v3.7h-13.8zM22.1 645.1h7.1v3.7h-7.1zM35.7 645.1h7.1v3.7h-7.1zM93.1 645.1h7.1v3.7h-7.1zM123.5 645.1h10.4v3.7h-10.4zM160.7 645.1h13.8v3.7h-13.8zM177.6 645.1h7.1v3.7h-7.1zM211.4 645.1h13.8v3.7h-13.8zM275.6 645.1h7.1v3.7h-7.1zM302.7 645.1h17.2v3.7h-17.2zM326.3 645.1h13.8v3.7h-13.8zM390.6 645.1h24v3.7h-24zM481.8 645.1h3.7v3.7h-3.7zM492 645.1h10.4v3.7h-10.4zM556.2 645.1h3.7v3.7h-3.7zM569.7 645.1h7.1v3.7h-7.1zM600.1 645.1h10.4v3.7h-10.4zM617 645.1h10.4v3.7h-10.4zM633.9 645.1h17.2v3.7h-17.2zM22.1 648.5h3.7v3.7h-3.7zM35.7 648.5h7.1v3.7h-7.1zM130.3 648.5h3.7v3.7h-3.7zM160.7 648.5h10.4v3.7h-10.4zM214.8 648.5h7.1v3.7h-7.1zM238.5 648.5h3.7v3.7h-3.7zM272.3 648.5h10.4v3.7h-10.4zM285.8 648.5h10.4v3.7h-10.4zM309.4 648.5h30.7v3.7h-30.7zM393.9 648.5h20.6v3.7h-20.6zM492 648.5h10.4v3.7h-10.4zM552.8 648.5h7.1v3.7h-7.1zM566.3 648.5h7.1v3.7h-7.1zM603.5 648.5h7.1v3.7h-7.1zM620.4 648.5h27.3v3.7h-27.3zM160.7 651.9h10.4v3.7h-10.4zM272.3 651.9h24v3.7h-24zM316.2 651.9h10.4v3.7h-10.4zM333.1 651.9h3.7v3.7h-3.7zM393.9 651.9h24v3.7h-24zM552.8 651.9h10.4v3.7h-10.4zM566.3 651.9h7.1v3.7h-7.1zM603.5 651.9h10.4v3.7h-10.4zM623.8 651.9h20.6v3.7h-20.6zM160.7 655.3h10.4v3.7h-10.4zM197.9 655.3h3.7v3.7h-3.7zM272.3 655.3h24v3.7h-24zM333.1 655.3h3.7v3.7h-3.7zM397.3 655.3h24v3.7h-24zM519 655.3h3.7v3.7h-3.7zM552.8 655.3h20.6v3.7h-20.6zM610.3 655.3h7.1v3.7h-7.1zM627.2 655.3h13.8v3.7h-13.8zM157.3 658.7h10.4v3.7h-10.4zM241.8 658.7h3.7v3.7h-3.7zM275.6 658.7h13.8v3.7h-13.8zM400.7 658.7h20.6v3.7h-20.6zM552.8 658.7h17.2v3.7h-17.2zM613.6 658.7h3.7v3.7h-3.7zM627.2 658.7h13.8v3.7h-13.8zM49.2 662h3.7v3.7h-3.7zM157.3 662h13.8v3.7h-13.8zM194.5 662h3.7v3.7h-3.7zM214.8 662h3.7v3.7h-3.7zM238.5 662h10.4v3.7h-10.4zM275.6 662h10.4v3.7h-10.4zM329.7 662h3.7v3.7h-3.7zM400.7 662h24v3.7h-24zM552.8 662h17.2v3.7h-17.2zM613.6 662h7.1v3.7h-7.1zM630.5 662h10.4v3.7h-10.4zM15.4 665.4h13.8v3.7h-13.8zM69.5 665.4h3.7v3.7h-3.7zM99.9 665.4h10.4v3.7h-10.4zM126.9 665.4h17.2v3.7h-17.2zM154 665.4h20.6v3.7h-20.6zM194.5 665.4h7.1v3.7h-7.1zM241.8 665.4h7.1v3.7h-7.1zM275.6 665.4h13.8v3.7h-13.8zM404.1 665.4h24v3.7h-24zM552.8 665.4h13.8v3.7h-13.8zM590 665.4h7.1v3.7h-7.1zM617 665.4h3.7v3.7h-3.7zM627.2 665.4h17.2v3.7h-17.2zM12 668.8h17.2v3.7h-17.2zM39 668.8h3.7v3.7h-3.7zM66.1 668.8h17.2v3.7h-17.2zM86.4 668.8h24v3.7h-24zM120.2 668.8h57.8v3.7h-57.8zM194.5 668.8h7.1v3.7h-7.1zM235.1 668.8h3.7v3.7h-3.7zM275.6 668.8h13.8v3.7h-13.8zM404.1 668.8h30.7v3.7h-30.7zM539.3 668.8h3.7v3.7h-3.7zM552.8 668.8h13.8v3.7h-13.8zM617 668.8h24v3.7h-24zM12 672.2h10.4v3.7h-10.4zM39 672.2h10.4v3.7h-10.4zM62.7 672.2h10.4v3.7h-10.4zM79.6 672.2h3.7v3.7h-3.7zM86.4 672.2h27.3v3.7h-27.3zM120.2 672.2h61.1v3.7h-61.1zM197.9 672.2h3.7v3.7h-3.7zM262.1 672.2h3.7v3.7h-3.7zM275.6 672.2h10.4v3.7h-10.4zM377 672.2h3.7v3.7h-3.7zM407.5 672.2h7.1v3.7h-7.1zM421 672.2h17.2v3.7h-17.2zM539.3 672.2h3.7v3.7h-3.7zM559.6 672.2h7.1v3.7h-7.1zM617 672.2h10.4v3.7h-10.4zM12 675.6h3.7v3.7h-3.7zM39 675.6h10.4v3.7h-10.4zM62.7 675.6h10.4v3.7h-10.4zM79.6 675.6h10.4v3.7h-10.4zM93.1 675.6h20.6v3.7h-20.6zM120.2 675.6h61.1v3.7h-61.1zM197.9 675.6h3.7v3.7h-3.7zM241.8 675.6h3.7v3.7h-3.7zM258.7 675.6h7.1v3.7h-7.1zM377 675.6h3.7v3.7h-3.7zM387.2 675.6h10.4v3.7h-10.4zM410.8 675.6h3.7v3.7h-3.7zM431.1 675.6h10.4v3.7h-10.4zM488.6 675.6h3.7v3.7h-3.7zM502.1 675.6h3.7v3.7h-3.7zM522.4 675.6h3.7v3.7h-3.7zM593.4 675.6h27.3v3.7h-27.3zM62.7 678.9h10.4v3.7h-10.4zM76.2 678.9h13.8v3.7h-13.8zM93.1 678.9h20.6v3.7h-20.6zM120.2 678.9h61.1v3.7h-61.1zM197.9 678.9h3.7v3.7h-3.7zM241.8 678.9h7.1v3.7h-7.1zM258.7 678.9h7.1v3.7h-7.1zM387.2 678.9h10.4v3.7h-10.4zM414.2 678.9h7.1v3.7h-7.1zM427.7 678.9h17.2v3.7h-17.2zM485.2 678.9h10.4v3.7h-10.4zM522.4 678.9h10.4v3.7h-10.4zM590 678.9h17.2v3.7h-17.2zM86.4 682.3h40.9v3.7h-40.9zM130.3 682.3h17.2v3.7h-17.2zM157.3 682.3h27.3v3.7h-27.3zM197.9 682.3h3.7v3.7h-3.7zM241.8 682.3h3.7v3.7h-3.7zM373.7 682.3h3.7v3.7h-3.7zM417.6 682.3h7.1v3.7h-7.1zM434.5 682.3h10.4v3.7h-10.4zM475.1 682.3h3.7v3.7h-3.7zM481.8 682.3h17.2v3.7h-17.2zM532.5 682.3h3.7v3.7h-3.7zM593.4 682.3h10.4v3.7h-10.4zM79.6 685.7h24v3.7h-24zM123.5 685.7h24v3.7h-24zM157.3 685.7h27.3v3.7h-27.3zM197.9 685.7h3.7v3.7h-3.7zM400.7 685.7h7.1v3.7h-7.1zM421 685.7h3.7v3.7h-3.7zM434.5 685.7h13.8v3.7h-13.8zM471.7 685.7h13.8v3.7h-13.8zM492 685.7h7.1v3.7h-7.1zM586.6 685.7h13.8v3.7h-13.8zM79.6 689.1h34.1v3.7h-34.1zM133.7 689.1h54.4v3.7h-54.4zM191.1 689.1h27.3v3.7h-27.3zM235.1 689.1h3.7v3.7h-3.7zM258.7 689.1h3.7v3.7h-3.7zM400.7 689.1h7.1v3.7h-7.1zM437.9 689.1h10.4v3.7h-10.4zM471.7 689.1h10.4v3.7h-10.4zM583.2 689.1h13.8v3.7h-13.8zM76.2 692.5h7.1v3.7h-7.1zM86.4 692.5h27.3v3.7h-27.3zM123.5 692.5h10.4v3.7h-10.4zM140.4 692.5h88.2v3.7h-88.2zM235.1 692.5h3.7v3.7h-3.7zM258.7 692.5h7.1v3.7h-7.1zM279 692.5h3.7v3.7h-3.7zM329.7 692.5h3.7v3.7h-3.7zM410.8 692.5h3.7v3.7h-3.7zM437.9 692.5h10.4v3.7h-10.4zM471.7 692.5h10.4v3.7h-10.4zM573.1 692.5h7.1v3.7h-7.1zM590 692.5h7.1v3.7h-7.1zM69.5 695.8h3.7v3.7h-3.7zM89.7 695.8h27.3v3.7h-27.3zM120.2 695.8h24v3.7h-24zM150.6 695.8h88.2v3.7h-88.2zM282.4 695.8h3.7v3.7h-3.7zM329.7 695.8h7.1v3.7h-7.1zM414.2 695.8h3.7v3.7h-3.7zM437.9 695.8h13.8v3.7h-13.8zM471.7 695.8h7.1v3.7h-7.1zM562.9 695.8h13.8v3.7h-13.8zM590 695.8h7.1v3.7h-7.1zM154 699.2h47.6v3.7h-47.6zM214.8 699.2h34.1v3.7h-34.1zM258.7 699.2h3.7v3.7h-3.7zM275.6 699.2h3.7v3.7h-3.7zM285.8 699.2h3.7v3.7h-3.7zM326.3 699.2h7.1v3.7h-7.1zM431.1 699.2h20.6v3.7h-20.6zM475.1 699.2h7.1v3.7h-7.1zM556.2 699.2h13.8v3.7h-13.8zM154 702.6h37.5v3.7h-37.5zM194.5 702.6h7.1v3.7h-7.1zM211.4 702.6h44.2v3.7h-44.2zM285.8 702.6h3.7v3.7h-3.7zM302.7 702.6h7.1v3.7h-7.1zM323 702.6h7.1v3.7h-7.1zM346.6 702.6h3.7v3.7h-3.7zM434.5 702.6h17.2v3.7h-17.2zM481.8 702.6h3.7v3.7h-3.7zM492 702.6h3.7v3.7h-3.7zM502.1 702.6h3.7v3.7h-3.7zM552.8 702.6h3.7v3.7h-3.7zM164.1 706h40.9v3.7h-40.9zM208 706h54.4v3.7h-54.4zM319.6 706h7.1v3.7h-7.1zM431.1 706h24v3.7h-24zM485.2 706h10.4v3.7h-10.4zM515.6 706h3.7v3.7h-3.7zM167.5 709.4h34.1v3.7h-34.1zM208 709.4h57.8v3.7h-57.8zM316.2 709.4h3.7v3.7h-3.7zM437.9 709.4h17.2v3.7h-17.2zM488.6 709.4h3.7v3.7h-3.7zM512.2 709.4h37.5v3.7h-37.5zM167.5 712.7h37.5v3.7h-37.5zM208 712.7h64.5v3.7h-64.5zM316.2 712.7h3.7v3.7h-3.7zM437.9 712.7h17.2v3.7h-17.2zM458.2 712.7h17.2v3.7h-17.2zM481.8 712.7h61.1v3.7h-61.1zM167.5 716.1h47.6v3.7h-47.6zM218.2 716.1h64.5v3.7h-64.5zM444.6 716.1h30.7v3.7h-30.7zM485.2 716.1h13.8v3.7h-13.8zM181 719.5h111.8v3.7h-111.8zM444.6 719.5h3.7v3.7h-3.7zM451.4 719.5h7.1v3.7h-7.1zM181 722.9h84.8v3.7h-84.8zM268.9 722.9h27.3v3.7h-27.3zM333.1 722.9h3.7v3.7h-3.7zM360.1 722.9h7.1v3.7h-7.1zM451.4 722.9h7.1v3.7h-7.1zM184.4 726.3h94.9v3.7h-94.9zM285.8 726.3h13.8v3.7h-13.8zM194.5 729.6h88.2v3.7h-88.2zM285.8 729.6h17.2v3.7h-17.2zM187.8 733h94.9v3.7h-94.9zM289.2 733h13.8v3.7h-13.8zM197.9 736.4h84.8v3.7h-84.8zM292.5 736.4h10.4v3.7h-10.4zM204.7 739.8h81.4v3.7h-81.4zM292.5 739.8h13.8v3.7h-13.8zM319.6 739.8h3.7v3.7h-3.7zM208 743.2h51v3.7h-51zM262.1 743.2h44.2v3.7h-44.2zM319.6 743.2h7.1v3.7h-7.1zM211.4 746.5h44.2v3.7h-44.2zM258.7 746.5h20.6v3.7h-20.6zM289.2 746.5h20.6v3.7h-20.6zM319.6 746.5h7.1v3.7h-7.1zM390.6 746.5h7.1v3.7h-7.1zM214.8 749.9h17.2v3.7h-17.2zM245.2 749.9h7.1v3.7h-7.1zM262.1 749.9h17.2v3.7h-17.2zM289.2 749.9h17.2v3.7h-17.2zM323 749.9h7.1v3.7h-7.1zM346.6 749.9h30.7v3.7h-30.7zM380.4 749.9h20.6v3.7h-20.6zM414.2 749.9h3.7v3.7h-3.7zM275.6 753.3h7.1v3.7h-7.1zM289.2 753.3h20.6v3.7h-20.6zM323 753.3h84.8v3.7h-84.8zM410.8 753.3h7.1v3.7h-7.1zM282.4 756.7h34.1v3.7h-34.1zM323 756.7h71.3v3.7h-71.3zM407.5 756.7h3.7v3.7h-3.7zM282.4 760.1h57.8v3.7h-57.8zM346.6 760.1h34.1v3.7h-34.1zM383.8 760.1h10.4v3.7h-10.4zM285.8 763.4h54.4v3.7h-54.4zM346.6 763.4h40.9v3.7h-40.9zM289.2 766.8h51v3.7h-51zM350 766.8h37.5v3.7h-37.5zM390.6 766.8h10.4v3.7h-10.4zM275.6 770.2h7.1v3.7h-7.1zM292.5 770.2h54.4v3.7h-54.4zM353.4 770.2h27.3v3.7h-27.3zM289.2 773.6h57.8v3.7h-57.8zM353.4 773.6h3.7v3.7h-3.7zM360.1 773.6h3.7v3.7h-3.7zM373.7 773.6h7.1v3.7h-7.1zM417.6 773.6h3.7v3.7h-3.7zM306.1 777h34.1v3.7h-34.1zM346.6 777h7.1v3.7h-7.1zM414.2 777h13.8v3.7h-13.8zM302.7 780.3h37.5v3.7h-37.5zM393.9 780.3h7.1v3.7h-7.1zM407.5 780.3h20.6v3.7h-20.6zM302.7 783.7h30.7v3.7h-30.7zM336.5 783.7h3.7v3.7h-3.7zM393.9 783.7h7.1v3.7h-7.1zM407.5 783.7h20.6v3.7h-20.6zM299.3 787.1h27.3v3.7h-27.3zM333.1 787.1h7.1v3.7h-7.1zM407.5 787.1h3.7v3.7h-3.7zM421 787.1h10.4v3.7h-10.4zM434.5 787.1h3.7v3.7h-3.7zM299.3 790.5h27.3v3.7h-27.3zM333.1 790.5h7.1v3.7h-7.1zM424.4 790.5h3.7v3.7h-3.7zM299.3 793.9h20.6v3.7h-20.6zM323 793.9h17.2v3.7h-17.2zM390.6 793.9h3.7v3.7h-3.7zM295.9 797.2h20.6v3.7h-20.6zM326.3 797.2h10.4v3.7h-10.4zM390.6 797.2h3.7v3.7h-3.7zM427.7 797.2h7.1v3.7h-7.1zM295.9 800.6h13.8v3.7h-13.8zM329.7 800.6h7.1v3.7h-7.1zM427.7 800.6h10.4v3.7h-10.4zM289.2 804h3.7v3.7h-3.7zM295.9 804h13.8v3.7h-13.8zM319.6 804h13.8v3.7h-13.8zM380.4 804h7.1v3.7h-7.1zM424.4 804h13.8v3.7h-13.8zM289.2 807.4h3.7v3.7h-3.7zM295.9 807.4h13.8v3.7h-13.8zM319.6 807.4h13.8v3.7h-13.8zM424.4 807.4h17.2v3.7h-17.2zM289.2 810.8h20.6v3.7h-20.6zM323 810.8h7.1v3.7h-7.1zM421 810.8h20.6v3.7h-20.6zM289.2 814.1h24v3.7h-24zM323 814.1h24v3.7h-24zM353.4 814.1h3.7v3.7h-3.7zM366.9 814.1h3.7v3.7h-3.7zM380.4 814.1h7.1v3.7h-7.1zM424.4 814.1h17.2v3.7h-17.2zM468.3 814.1h3.7v3.7h-3.7zM289.2 817.5h40.9v3.7h-40.9zM336.5 817.5h13.8v3.7h-13.8zM360.1 817.5h10.4v3.7h-10.4zM380.4 817.5h7.1v3.7h-7.1zM431.1 817.5h10.4v3.7h-10.4zM667.7 817.5h3.7v3.7h-3.7zM292.5 820.9h37.5v3.7h-37.5zM336.5 820.9h17.2v3.7h-17.2zM377 820.9h3.7v3.7h-3.7zM427.7 820.9h17.2v3.7h-17.2zM667.7 820.9h3.7v3.7h-3.7zM292.5 824.3h37.5v3.7h-37.5zM336.5 824.3h17.2v3.7h-17.2zM431.1 824.3h13.8v3.7h-13.8zM451.4 824.3h3.7v3.7h-3.7zM684.6 824.3h3.7v3.7h-3.7zM728.6 824.3h3.7v3.7h-3.7zM295.9 827.7h37.5v3.7h-37.5zM339.9 827.7h3.7v3.7h-3.7zM431.1 827.7h13.8v3.7h-13.8zM451.4 827.7h3.7v3.7h-3.7zM725.2 827.7h7.1v3.7h-7.1zM299.3 831h34.1v3.7h-34.1zM437.9 831h7.1v3.7h-7.1zM451.4 831h3.7v3.7h-3.7zM461.5 831h3.7v3.7h-3.7zM289.2 834.4h3.7v3.7h-3.7zM306.1 834.4h27.3v3.7h-27.3zM373.7 834.4h7.1v3.7h-7.1zM441.3 834.4h3.7v3.7h-3.7zM708.3 834.4h3.7v3.7h-3.7zM718.4 834.4h3.7v3.7h-3.7zM285.8 837.8h10.4v3.7h-10.4zM309.4 837.8h30.7v3.7h-30.7zM366.9 837.8h17.2v3.7h-17.2zM431.1 837.8h3.7v3.7h-3.7zM708.3 837.8h13.8v3.7h-13.8zM285.8 841.2h20.6v3.7h-20.6zM309.4 841.2h30.7v3.7h-30.7zM356.8 841.2h34.1v3.7h-34.1zM431.1 841.2h3.7v3.7h-3.7zM674.5 841.2h7.1v3.7h-7.1zM708.3 841.2h7.1v3.7h-7.1zM728.6 841.2h3.7v3.7h-3.7zM282.4 844.6h61.1v3.7h-61.1zM356.8 844.6h40.9v3.7h-40.9zM674.5 844.6h7.1v3.7h-7.1zM708.3 844.6h7.1v3.7h-7.1zM731.9 844.6h3.7v3.7h-3.7zM748.8 844.6h10.4v3.7h-10.4zM282.4 847.9h61.1v3.7h-61.1zM353.4 847.9h44.2v3.7h-44.2zM725.2 847.9h24v3.7h-24zM752.2 847.9h7.1v3.7h-7.1zM279 851.3h64.5v3.7h-64.5zM353.4 851.3h44.2v3.7h-44.2zM441.3 851.3h3.7v3.7h-3.7zM451.4 851.3h7.1v3.7h-7.1zM718.4 851.3h13.8v3.7h-13.8zM752.2 851.3h7.1v3.7h-7.1zM275.6 854.7h71.3v3.7h-71.3zM353.4 854.7h10.4v3.7h-10.4zM366.9 854.7h24v3.7h-24zM715 854.7h13.8v3.7h-13.8zM745.5 854.7h3.7v3.7h-3.7zM275.6 858.1h71.3v3.7h-71.3zM350 858.1h27.3v3.7h-27.3zM387.2 858.1h3.7v3.7h-3.7zM437.9 858.1h3.7v3.7h-3.7zM492 858.1h3.7v3.7h-3.7zM684.6 858.1h3.7v3.7h-3.7zM715 858.1h7.1v3.7h-7.1zM272.3 861.5h24v3.7h-24zM302.7 861.5h40.9v3.7h-40.9zM346.6 861.5h10.4v3.7h-10.4zM383.8 861.5h10.4v3.7h-10.4zM434.5 861.5h3.7v3.7h-3.7zM492 861.5h3.7v3.7h-3.7zM698.1 861.5h7.1v3.7h-7.1zM708.3 861.5h17.2v3.7h-17.2zM268.9 864.8h24v3.7h-24zM306.1 864.8h51v3.7h-51zM383.8 864.8h3.7v3.7h-3.7zM390.6 864.8h7.1v3.7h-7.1zM431.1 864.8h3.7v3.7h-3.7zM698.1 864.8h10.4v3.7h-10.4zM711.7 864.8h13.8v3.7h-13.8zM268.9 868.2h24v3.7h-24zM306.1 868.2h61.1v3.7h-61.1zM397.3 868.2h3.7v3.7h-3.7zM414.2 868.2h3.7v3.7h-3.7zM427.7 868.2h3.7v3.7h-3.7zM704.9 868.2h20.6v3.7h-20.6zM265.5 871.6h27.3v3.7h-27.3zM302.7 871.6h61.1v3.7h-61.1zM414.2 871.6h7.1v3.7h-7.1zM698.1 871.6h27.3v3.7h-27.3zM262.1 875h30.7v3.7h-30.7zM295.9 875h61.1v3.7h-61.1zM549.4 875h3.7v3.7h-3.7zM694.8 875h27.3v3.7h-27.3zM258.7 878.4h34.1v3.7h-34.1zM306.1 878.4h3.7v3.7h-3.7zM323 878.4h24v3.7h-24zM508.9 878.4h3.7v3.7h-3.7zM529.1 878.4h13.8v3.7h-13.8zM549.4 878.4h7.1v3.7h-7.1zM674.5 878.4h3.7v3.7h-3.7zM698.1 878.4h24v3.7h-24zM258.7 881.7h30.7v3.7h-30.7zM306.1 881.7h3.7v3.7h-3.7zM323 881.7h24v3.7h-24zM417.6 881.7h3.7v3.7h-3.7zM492 881.7h7.1v3.7h-7.1zM508.9 881.7h34.1v3.7h-34.1zM556.2 881.7h7.1v3.7h-7.1zM698.1 881.7h20.6v3.7h-20.6zM255.4 885.1h37.5v3.7h-37.5zM306.1 885.1h3.7v3.7h-3.7zM326.3 885.1h27.3v3.7h-27.3zM383.8 885.1h13.8v3.7h-13.8zM424.4 885.1h3.7v3.7h-3.7zM488.6 885.1h13.8v3.7h-13.8zM515.6 885.1h7.1v3.7h-7.1zM698.1 885.1h17.2v3.7h-17.2zM255.4 888.5h7.1v3.7h-7.1zM265.5 888.5h7.1v3.7h-7.1zM285.8 888.5h10.4v3.7h-10.4zM329.7 888.5h24v3.7h-24zM373.7 888.5h27.3v3.7h-27.3zM410.8 888.5h7.1v3.7h-7.1zM421 888.5h13.8v3.7h-13.8zM488.6 888.5h13.8v3.7h-13.8zM698.1 888.5h13.8v3.7h-13.8zM252 891.9h24v3.7h-24zM279 891.9h20.6v3.7h-20.6zM333.1 891.9h10.4v3.7h-10.4zM350 891.9h3.7v3.7h-3.7zM360.1 891.9h40.9v3.7h-40.9zM407.5 891.9h20.6v3.7h-20.6zM488.6 891.9h17.2v3.7h-17.2zM522.4 891.9h3.7v3.7h-3.7zM633.9 891.9h7.1v3.7h-7.1zM698.1 891.9h7.1v3.7h-7.1zM252 895.3h44.2v3.7h-44.2zM299.3 895.3h7.1v3.7h-7.1zM319.6 895.3h3.7v3.7h-3.7zM333.1 895.3h10.4v3.7h-10.4zM350 895.3h54.4v3.7h-54.4zM407.5 895.3h20.6v3.7h-20.6zM488.6 895.3h24v3.7h-24zM515.6 895.3h10.4v3.7h-10.4zM633.9 895.3h3.7v3.7h-3.7zM657.6 895.3h3.7v3.7h-3.7zM708.3 895.3h3.7v3.7h-3.7zM248.6 898.6h44.2v3.7h-44.2zM336.5 898.6h71.3v3.7h-71.3zM410.8 898.6h3.7v3.7h-3.7zM421 898.6h3.7v3.7h-3.7zM495.3 898.6h17.2v3.7h-17.2zM515.6 898.6h13.8v3.7h-13.8zM657.6 898.6h3.7v3.7h-3.7zM674.5 898.6h3.7v3.7h-3.7zM248.6 902h34.1v3.7h-34.1zM285.8 902h7.1v3.7h-7.1zM299.3 902h7.1v3.7h-7.1zM336.5 902h27.3v3.7h-27.3zM366.9 902h47.6v3.7h-47.6zM421 902h3.7v3.7h-3.7zM505.5 902h7.1v3.7h-7.1zM515.6 902h13.8v3.7h-13.8zM674.5 902h3.7v3.7h-3.7zM691.4 902h3.7v3.7h-3.7zM248.6 905.4h24v3.7h-24zM279 905.4h7.1v3.7h-7.1zM289.2 905.4h17.2v3.7h-17.2zM336.5 905.4h24v3.7h-24zM363.5 905.4h47.6v3.7h-47.6zM505.5 905.4h10.4v3.7h-10.4zM519 905.4h13.8v3.7h-13.8zM674.5 905.4h7.1v3.7h-7.1zM691.4 905.4h3.7v3.7h-3.7zM248.6 908.8h20.6v3.7h-20.6zM279 908.8h3.7v3.7h-3.7zM292.5 908.8h10.4v3.7h-10.4zM336.5 908.8h71.3v3.7h-71.3zM505.5 908.8h10.4v3.7h-10.4zM519 908.8h13.8v3.7h-13.8zM677.9 908.8h3.7v3.7h-3.7zM694.8 908.8h7.1v3.7h-7.1zM248.6 912.2h20.6v3.7h-20.6zM275.6 912.2h7.1v3.7h-7.1zM295.9 912.2h7.1v3.7h-7.1zM336.5 912.2h71.3v3.7h-71.3zM505.5 912.2h3.7v3.7h-3.7zM512.2 912.2h13.8v3.7h-13.8zM546 912.2h13.8v3.7h-13.8zM667.7 912.2h3.7v3.7h-3.7zM248.6 915.5h24v3.7h-24zM275.6 915.5h3.7v3.7h-3.7zM295.9 915.5h7.1v3.7h-7.1zM323 915.5h3.7v3.7h-3.7zM329.7 915.5h3.7v3.7h-3.7zM339.9 915.5h67.9v3.7h-67.9zM410.8 915.5h3.7v3.7h-3.7zM519 915.5h7.1v3.7h-7.1zM549.4 915.5h7.1v3.7h-7.1zM681.2 915.5h3.7v3.7h-3.7zM248.6 918.9h7.1v3.7h-7.1zM258.7 918.9h17.2v3.7h-17.2zM302.7 918.9h3.7v3.7h-3.7zM309.4 918.9h7.1v3.7h-7.1zM323 918.9h10.4v3.7h-10.4zM339.9 918.9h20.6v3.7h-20.6zM363.5 918.9h44.2v3.7h-44.2zM410.8 918.9h3.7v3.7h-3.7zM515.6 918.9h10.4v3.7h-10.4zM532.5 918.9h3.7v3.7h-3.7zM542.7 918.9h7.1v3.7h-7.1zM677.9 918.9h7.1v3.7h-7.1zM245.2 922.3h17.2v3.7h-17.2zM265.5 922.3h13.8v3.7h-13.8zM299.3 922.3h7.1v3.7h-7.1zM323 922.3h7.1v3.7h-7.1zM336.5 922.3h20.6v3.7h-20.6zM363.5 922.3h51v3.7h-51zM424.4 922.3h3.7v3.7h-3.7zM512.2 922.3h13.8v3.7h-13.8zM539.3 922.3h7.1v3.7h-7.1zM674.5 922.3h7.1v3.7h-7.1zM245.2 925.7h17.2v3.7h-17.2zM265.5 925.7h10.4v3.7h-10.4zM333.1 925.7h37.5v3.7h-37.5zM373.7 925.7h40.9v3.7h-40.9zM424.4 925.7h3.7v3.7h-3.7zM505.5 925.7h3.7v3.7h-3.7zM519 925.7h10.4v3.7h-10.4zM542.7 925.7h3.7v3.7h-3.7zM667.7 925.7h13.8v3.7h-13.8zM245.2 929.1h17.2v3.7h-17.2zM265.5 929.1h10.4v3.7h-10.4zM323 929.1h13.8v3.7h-13.8zM339.9 929.1h27.3v3.7h-27.3zM380.4 929.1h34.1v3.7h-34.1zM502.1 929.1h13.8v3.7h-13.8zM525.8 929.1h7.1v3.7h-7.1zM549.4 929.1h3.7v3.7h-3.7zM644.1 929.1h7.1v3.7h-7.1zM667.7 929.1h13.8v3.7h-13.8zM245.2 932.4h3.7v3.7h-3.7zM252 932.4h10.4v3.7h-10.4zM268.9 932.4h3.7v3.7h-3.7zM309.4 932.4h10.4v3.7h-10.4zM323 932.4h24v3.7h-24zM410.8 932.4h7.1v3.7h-7.1zM502.1 932.4h10.4v3.7h-10.4zM647.4 932.4h10.4v3.7h-10.4zM664.3 932.4h17.2v3.7h-17.2zM241.8 935.8h3.7v3.7h-3.7zM255.4 935.8h10.4v3.7h-10.4zM299.3 935.8h47.6v3.7h-47.6zM356.8 935.8h7.1v3.7h-7.1zM410.8 935.8h3.7v3.7h-3.7zM417.6 935.8h3.7v3.7h-3.7zM498.7 935.8h10.4v3.7h-10.4zM620.4 935.8h3.7v3.7h-3.7zM647.4 935.8h13.8v3.7h-13.8zM664.3 935.8h17.2v3.7h-17.2zM241.8 939.2h3.7v3.7h-3.7zM258.7 939.2h3.7v3.7h-3.7zM295.9 939.2h20.6v3.7h-20.6zM339.9 939.2h7.1v3.7h-7.1zM356.8 939.2h7.1v3.7h-7.1zM366.9 939.2h3.7v3.7h-3.7zM397.3 939.2h3.7v3.7h-3.7zM410.8 939.2h10.4v3.7h-10.4zM485.2 939.2h20.6v3.7h-20.6zM620.4 939.2h3.7v3.7h-3.7zM627.2 939.2h3.7v3.7h-3.7zM633.9 939.2h10.4v3.7h-10.4zM661 939.2h17.2v3.7h-17.2zM235.1 942.6h10.4v3.7h-10.4zM339.9 942.6h3.7v3.7h-3.7zM366.9 942.6h7.1v3.7h-7.1zM404.1 942.6h13.8v3.7h-13.8zM471.7 942.6h34.1v3.7h-34.1zM539.3 942.6h7.1v3.7h-7.1zM620.4 942.6h30.7v3.7h-30.7zM667.7 942.6h7.1v3.7h-7.1zM265.5 946h3.7v3.7h-3.7zM339.9 946h3.7v3.7h-3.7zM404.1 946h3.7v3.7h-3.7zM464.9 946h30.7v3.7h-30.7zM519 946h3.7v3.7h-3.7zM620.4 946h37.5v3.7h-37.5zM224.9 949.3h3.7v3.7h-3.7zM252 949.3h3.7v3.7h-3.7zM272.3 949.3h3.7v3.7h-3.7zM461.5 949.3h27.3v3.7h-27.3zM620.4 949.3h3.7v3.7h-3.7zM627.2 949.3h44.2v3.7h-44.2zM221.6 952.7h3.7v3.7h-3.7zM248.6 952.7h10.4v3.7h-10.4zM282.4 952.7h7.1v3.7h-7.1zM414.2 952.7h3.7v3.7h-3.7zM454.8 952.7h34.1v3.7h-34.1zM569.7 952.7h3.7v3.7h-3.7zM617 952.7h7.1v3.7h-7.1zM627.2 952.7h40.9v3.7h-40.9zM221.6 956.1h3.7v3.7h-3.7zM245.2 956.1h13.8v3.7h-13.8zM285.8 956.1h7.1v3.7h-7.1zM454.8 956.1h37.5v3.7h-37.5zM498.7 956.1h7.1v3.7h-7.1zM508.9 956.1h7.1v3.7h-7.1zM569.7 956.1h3.7v3.7h-3.7zM606.9 956.1h13.8v3.7h-13.8zM623.8 956.1h40.9v3.7h-40.9zM221.6 959.5h3.7v3.7h-3.7zM241.8 959.5h7.1v3.7h-7.1zM441.3 959.5h3.7v3.7h-3.7zM461.5 959.5h30.7v3.7h-30.7zM498.7 959.5h10.4v3.7h-10.4zM512.2 959.5h3.7v3.7h-3.7zM529.1 959.5h7.1v3.7h-7.1zM606.9 959.5h13.8v3.7h-13.8zM630.5 959.5h27.3v3.7h-27.3zM221.6 962.9h3.7v3.7h-3.7zM245.2 962.9h3.7v3.7h-3.7zM363.5 962.9h3.7v3.7h-3.7zM464.9 962.9h27.3v3.7h-27.3zM495.3 962.9h10.4v3.7h-10.4zM515.6 962.9h3.7v3.7h-3.7zM529.1 962.9h10.4v3.7h-10.4zM606.9 962.9h7.1v3.7h-7.1zM640.7 962.9h10.4v3.7h-10.4zM654.2 962.9h3.7v3.7h-3.7zM221.6 966.2h3.7v3.7h-3.7zM238.5 966.2h3.7v3.7h-3.7zM292.5 966.2h7.1v3.7h-7.1zM339.9 966.2h3.7v3.7h-3.7zM461.5 966.2h7.1v3.7h-7.1zM471.7 966.2h20.6v3.7h-20.6zM495.3 966.2h7.1v3.7h-7.1zM512.2 966.2h7.1v3.7h-7.1zM542.7 966.2h3.7v3.7h-3.7zM610.3 966.2h3.7v3.7h-3.7zM637.3 966.2h10.4v3.7h-10.4zM221.6 969.6h3.7v3.7h-3.7zM238.5 969.6h7.1v3.7h-7.1zM339.9 969.6h3.7v3.7h-3.7zM414.2 969.6h3.7v3.7h-3.7zM464.9 969.6h3.7v3.7h-3.7zM475.1 969.6h17.2v3.7h-17.2zM495.3 969.6h7.1v3.7h-7.1zM512.2 969.6h10.4v3.7h-10.4zM546 969.6h7.1v3.7h-7.1zM606.9 969.6h7.1v3.7h-7.1zM633.9 969.6h10.4v3.7h-10.4zM221.6 973h3.7v3.7h-3.7zM235.1 973h3.7v3.7h-3.7zM414.2 973h3.7v3.7h-3.7zM475.1 973h7.1v3.7h-7.1zM485.2 973h7.1v3.7h-7.1zM546 973h7.1v3.7h-7.1zM603.5 973h3.7v3.7h-3.7zM633.9 973h7.1v3.7h-7.1zM235.1 976.4h3.7v3.7h-3.7zM414.2 976.4h3.7v3.7h-3.7zM475.1 976.4h7.1v3.7h-7.1zM485.2 976.4h3.7v3.7h-3.7zM508.9 976.4h7.1v3.7h-7.1zM519 976.4h7.1v3.7h-7.1zM546 976.4h13.8v3.7h-13.8zM603.5 976.4h3.7v3.7h-3.7zM627.2 976.4h10.4v3.7h-10.4zM235.1 979.8h7.1v3.7h-7.1zM299.3 979.8h3.7v3.7h-3.7zM417.6 979.8h3.7v3.7h-3.7zM461.5 979.8h7.1v3.7h-7.1zM471.7 979.8h13.8v3.7h-13.8zM603.5 979.8h3.7v3.7h-3.7zM623.8 979.8h10.4v3.7h-10.4zM238.5 983.1h3.7v3.7h-3.7zM461.5 983.1h20.6v3.7h-20.6zM539.3 983.1h7.1v3.7h-7.1zM556.2 983.1h3.7v3.7h-3.7zM603.5 983.1h7.1v3.7h-7.1zM613.6 983.1h17.2v3.7h-17.2zM238.5 986.5h3.7v3.7h-3.7zM444.6 986.5h3.7v3.7h-3.7zM471.7 986.5h7.1v3.7h-7.1zM535.9 986.5h13.8v3.7h-13.8zM562.9 986.5h3.7v3.7h-3.7zM603.5 986.5h24v3.7h-24zM238.5 989.9h7.1v3.7h-7.1zM444.6 989.9h7.1v3.7h-7.1zM519 989.9h7.1v3.7h-7.1zM532.5 989.9h24v3.7h-24zM562.9 989.9h3.7v3.7h-3.7zM603.5 989.9h20.6v3.7h-20.6zM238.5 993.3h7.1v3.7h-7.1zM441.3 993.3h3.7v3.7h-3.7zM519 993.3h3.7v3.7h-3.7zM529.1 993.3h30.7v3.7h-30.7zM562.9 993.3h3.7v3.7h-3.7zM600.1 993.3h13.8v3.7h-13.8zM617 993.3h7.1v3.7h-7.1zM238.5 996.7h10.4v3.7h-10.4zM505.5 996.7h3.7v3.7h-3.7zM532.5 996.7h37.5v3.7h-37.5zM600.1 996.7h24v3.7h-24zM245.2 1000h3.7v3.7h-3.7zM505.5 1000h3.7v3.7h-3.7zM532.5 1000h34.1v3.7h-34.1zM586.6 1000h3.7v3.7h-3.7zM600.1 1000h20.6v3.7h-20.6zM218.2 1003.4h3.7v3.7h-3.7zM245.2 1003.4h7.1v3.7h-7.1zM532.5 1003.4h30.7v3.7h-30.7zM586.6 1003.4h3.7v3.7h-3.7zM600.1 1003.4h20.6v3.7h-20.6zM241.8 1006.8h10.4v3.7h-10.4zM485.2 1006.8h3.7v3.7h-3.7zM519 1006.8h44.2v3.7h-44.2zM583.2 1006.8h3.7v3.7h-3.7zM600.1 1006.8h20.6v3.7h-20.6zM241.8 1010.2h10.4v3.7h-10.4zM485.2 1010.2h3.7v3.7h-3.7zM519 1010.2h44.2v3.7h-44.2zM573.1 1010.2h3.7v3.7h-3.7zM583.2 1010.2h3.7v3.7h-3.7zM603.5 1010.2h13.8v3.7h-13.8zM241.8 1013.6h3.7v3.7h-3.7zM522.4 1013.6h40.9v3.7h-40.9zM579.8 1013.6h13.8v3.7h-13.8zM596.7 1013.6h20.6v3.7h-20.6zM228.3 1016.9h20.6v3.7h-20.6zM525.8 1016.9h37.5v3.7h-37.5zM576.5 1016.9h17.2v3.7h-17.2zM596.7 1016.9h20.6v3.7h-20.6zM224.9 1020.3h27.3v3.7h-27.3zM529.1 1020.3h34.1v3.7h-34.1zM569.7 1020.3h3.7v3.7h-3.7zM576.5 1020.3h13.8v3.7h-13.8zM593.4 1020.3h20.6v3.7h-20.6zM228.3 1023.7h24v3.7h-24zM529.1 1023.7h13.8v3.7h-13.8zM552.8 1023.7h7.1v3.7h-7.1zM569.7 1023.7h13.8v3.7h-13.8zM593.4 1023.7h7.1v3.7h-7.1zM603.5 1023.7h10.4v3.7h-10.4zM221.6 1027.1h30.7v3.7h-30.7zM532.5 1027.1h10.4v3.7h-10.4zM552.8 1027.1h10.4v3.7h-10.4zM566.3 1027.1h10.4v3.7h-10.4zM579.8 1027.1h7.1v3.7h-7.1zM590 1027.1h20.6v3.7h-20.6zM221.6 1030.5h20.6v3.7h-20.6zM535.9 1030.5h7.1v3.7h-7.1zM552.8 1030.5h10.4v3.7h-10.4zM566.3 1030.5h3.7v3.7h-3.7zM583.2 1030.5h3.7v3.7h-3.7zM590 1030.5h10.4v3.7h-10.4zM603.5 1030.5h7.1v3.7h-7.1zM224.9 1033.8h7.1v3.7h-7.1zM586.6 1033.8h13.8v3.7h-13.8zM495.3 1037.2h3.7v3.7h-3.7zM529.1 1037.2h10.4v3.7h-10.4zM583.2 1037.2h20.6v3.7h-20.6zM231.7 1040.6h3.7v3.7h-3.7zM502.1 1040.6h7.1v3.7h-7.1zM529.1 1040.6h7.1v3.7h-7.1zM583.2 1040.6h7.1v3.7h-7.1zM593.4 1040.6h10.4v3.7h-10.4zM505.5 1044h3.7v3.7h-3.7zM525.8 1044h13.8v3.7h-13.8zM579.8 1044h7.1v3.7h-7.1zM596.7 1044h3.7v3.7h-3.7zM522.4 1047.4h20.6v3.7h-20.6zM576.5 1047.4h13.8v3.7h-13.8zM596.7 1047.4h3.7v3.7h-3.7zM522.4 1050.7h24v3.7h-24zM573.1 1050.7h20.6v3.7h-20.6zM525.8 1054.1h24v3.7h-24zM569.7 1054.1h20.6v3.7h-20.6zM529.1 1057.5h27.3v3.7h-27.3zM562.9 1057.5h24v3.7h-24zM532.5 1060.9h17.2v3.7h-17.2zM562.9 1060.9h24v3.7h-24zM535.9 1064.3h10.4v3.7h-10.4zM559.6 1064.3h24v3.7h-24zM539.3 1067.6h10.4v3.7h-10.4zM556.2 1067.6h27.3v3.7h-27.3zM542.7 1071h40.9v3.7h-40.9zM542.7 1074.4h44.2v3.7h-44.2zM552.8 1077.8h34.1v3.7h-34.1zM556.2 1081.2h30.7v3.7h-30.7zM559.6 1084.5h27.3v3.7h-27.3zM562.9 1087.9h24v3.7h-24zM566.3 1091.3h10.4v3.7h-10.4z"/>
<path fill="#00AA3C" d="M525.8 466h7.1v3.7h-7.1zM522.4 469.4h10.4v3.7h-10.4zM522.4 472.8h10.4v3.7h-10.4zM522.4 476.1h7.1v3.7h-7.1zM525.8 479.5h3.7v3.7h-3.7zM525.8 482.9h3.7v3.7h-3.7zM495.3 486.3h3.7v3.7h-3.7zM495.3 489.7h3.7v3.7h-3.7zM515.6 489.7h3.7v3.7h-3.7zM508.9 493h3.7v3.7h-3.7zM515.6 493h7.1v3.7h-7.1zM505.5 496.4h24v3.7h-24zM532.5 496.4h3.7v3.7h-3.7zM542.7 496.4h3.7v3.7h-3.7zM475.1 499.8h3.7v3.7h-3.7zM502.1 499.8h34.1v3.7h-34.1zM542.7 499.8h3.7v3.7h-3.7zM471.7 503.2h3.7v3.7h-3.7zM481.8 503.2h7.1v3.7h-7.1zM498.7 503.2h37.5v3.7h-37.5zM596.7 503.2h3.7v3.7h-3.7zM488.6 506.6h51v3.7h-51zM596.7 506.6h7.1v3.7h-7.1zM475.1 509.9h64.5v3.7h-64.5zM596.7 509.9h10.4v3.7h-10.4zM454.8 513.3h3.7v3.7h-3.7zM468.3 513.3h71.3v3.7h-71.3zM596.7 513.3h10.4v3.7h-10.4zM454.8 516.7h3.7v3.7h-3.7zM468.3 516.7h71.3v3.7h-71.3zM596.7 516.7h10.4v3.7h-10.4zM464.9 520.1h74.7v3.7h-74.7zM542.7 520.1h7.1v3.7h-7.1zM579.8 520.1h3.7v3.7h-3.7zM596.7 520.1h7.1v3.7h-7.1zM461.5 523.5h78v3.7h-78zM542.7 523.5h7.1v3.7h-7.1zM576.5 523.5h10.4v3.7h-10.4zM600.1 523.5h3.7v3.7h-3.7zM461.5 526.8h78v3.7h-78zM573.1 526.8h27.3v3.7h-27.3zM458.2 530.2h84.8v3.7h-84.8zM576.5 530.2h24v3.7h-24zM454.8 533.6h71.3v3.7h-71.3zM529.1 533.6h13.8v3.7h-13.8zM573.1 533.6h3.7v3.7h-3.7zM583.2 533.6h20.6v3.7h-20.6zM451.4 537h74.7v3.7h-74.7zM448 540.4h84.8v3.7h-84.8zM535.9 540.4h10.4v3.7h-10.4zM448 543.7h94.9v3.7h-94.9zM444.6 547.1h98.3v3.7h-98.3zM546 547.1h3.7v3.7h-3.7zM424.4 550.5h3.7v3.7h-3.7zM441.3 550.5h108.5v3.7h-108.5zM437.9 553.9h101.7v3.7h-101.7zM542.7 553.9h7.1v3.7h-7.1zM421 557.3h3.7v3.7h-3.7zM437.9 557.3h101.7v3.7h-101.7zM421 560.6h3.7v3.7h-3.7zM437.9 560.6h105.1v3.7h-105.1zM431.1 564h108.5v3.7h-108.5zM566.3 564h3.7v3.7h-3.7zM431.1 567.4h74.7v3.7h-74.7zM512.2 567.4h27.3v3.7h-27.3zM562.9 567.4h3.7v3.7h-3.7zM434.5 570.8h105.1v3.7h-105.1zM552.8 570.8h3.7v3.7h-3.7zM562.9 570.8h7.1v3.7h-7.1zM427.7 574.2h111.8v3.7h-111.8zM549.4 574.2h7.1v3.7h-7.1zM562.9 574.2h10.4v3.7h-10.4zM603.5 574.2h3.7v3.7h-3.7zM424.4 577.5h118.6v3.7h-118.6zM549.4 577.5h27.3v3.7h-27.3zM603.5 577.5h3.7v3.7h-3.7zM424.4 580.9h118.6v3.7h-118.6zM549.4 580.9h30.7v3.7h-30.7zM603.5 580.9h3.7v3.7h-3.7zM421 584.3h122v3.7h-122zM549.4 584.3h30.7v3.7h-30.7zM596.7 584.3h10.4v3.7h-10.4zM421 587.7h122v3.7h-122zM552.8 587.7h27.3v3.7h-27.3zM596.7 587.7h3.7v3.7h-3.7zM603.5 587.7h3.7v3.7h-3.7zM421 591.1h125.4v3.7h-125.4zM552.8 591.1h20.6v3.7h-20.6zM596.7 591.1h7.1v3.7h-7.1zM126.9 594.4h10.4v3.7h-10.4zM421 594.4h37.5v3.7h-37.5zM468.3 594.4h81.4v3.7h-81.4zM559.6 594.4h3.7v3.7h-3.7zM671.1 594.4h7.1v3.7h-7.1zM126.9 597.8h10.4v3.7h-10.4zM421 597.8h37.5v3.7h-37.5zM468.3 597.8h84.8v3.7h-84.8zM664.3 597.8h20.6v3.7h-20.6zM126.9 601.2h3.7v3.7h-3.7zM133.7 601.2h3.7v3.7h-3.7zM383.8 601.2h7.1v3.7h-7.1zM417.6 601.2h44.2v3.7h-44.2zM464.9 601.2h91.6v3.7h-91.6zM664.3 601.2h17.2v3.7h-17.2zM191.1 604.6h13.8v3.7h-13.8zM373.7 604.6h7.1v3.7h-7.1zM387.2 604.6h7.1v3.7h-7.1zM417.6 604.6h138.9v3.7h-138.9zM664.3 604.6h3.7v3.7h-3.7zM671.1 604.6h10.4v3.7h-10.4zM110 608h34.1v3.7h-34.1zM147.2 608h7.1v3.7h-7.1zM181 608h24v3.7h-24zM373.7 608h10.4v3.7h-10.4zM417.6 608h142.3v3.7h-142.3zM620.4 608h34.1v3.7h-34.1zM667.7 608h7.1v3.7h-7.1zM110 611.3h7.1v3.7h-7.1zM120.2 611.3h24v3.7h-24zM147.2 611.3h20.6v3.7h-20.6zM181 611.3h20.6v3.7h-20.6zM218.2 611.3h7.1v3.7h-7.1zM299.3 611.3h3.7v3.7h-3.7zM370.3 611.3h3.7v3.7h-3.7zM377 611.3h3.7v3.7h-3.7zM417.6 611.3h142.3v3.7h-142.3zM613.6 611.3h37.5v3.7h-37.5zM654.2 611.3h3.7v3.7h-3.7zM110 614.7h44.2v3.7h-44.2zM160.7 614.7h13.8v3.7h-13.8zM177.6 614.7h24v3.7h-24zM214.8 614.7h10.4v3.7h-10.4zM268.9 614.7h3.7v3.7h-3.7zM302.7 614.7h13.8v3.7h-13.8zM410.8 614.7h149v3.7h-149zM606.9 614.7h7.1v3.7h-7.1zM617 614.7h37.5v3.7h-37.5zM12 618.1h13.8v3.7h-13.8zM110 618.1h34.1v3.7h-34.1zM150.6 618.1h20.6v3.7h-20.6zM221.6 618.1h3.7v3.7h-3.7zM231.7 618.1h10.4v3.7h-10.4zM252 618.1h20.6v3.7h-20.6zM282.4 618.1h7.1v3.7h-7.1zM407.5 618.1h149v3.7h-149zM600.1 618.1h10.4v3.7h-10.4zM613.6 618.1h40.9v3.7h-40.9zM12 621.5h17.2v3.7h-17.2zM110 621.5h27.3v3.7h-27.3zM157.3 621.5h13.8v3.7h-13.8zM221.6 621.5h10.4v3.7h-10.4zM248.6 621.5h7.1v3.7h-7.1zM258.7 621.5h37.5v3.7h-37.5zM329.7 621.5h3.7v3.7h-3.7zM404.1 621.5h152.4v3.7h-152.4zM583.2 621.5h7.1v3.7h-7.1zM596.7 621.5h17.2v3.7h-17.2zM623.8 621.5h30.7v3.7h-30.7zM12 624.9h24v3.7h-24zM106.6 624.9h7.1v3.7h-7.1zM123.5 624.9h13.8v3.7h-13.8zM160.7 624.9h3.7v3.7h-3.7zM211.4 624.9h20.6v3.7h-20.6zM248.6 624.9h51v3.7h-51zM329.7 624.9h10.4v3.7h-10.4zM343.2 624.9h7.1v3.7h-7.1zM397.3 624.9h3.7v3.7h-3.7zM407.5 624.9h149v3.7h-149zM579.8 624.9h7.1v3.7h-7.1zM596.7 624.9h3.7v3.7h-3.7zM630.5 624.9h27.3v3.7h-27.3zM15.4 628.2h30.7v3.7h-30.7zM103.3 628.2h10.4v3.7h-10.4zM123.5 628.2h7.1v3.7h-7.1zM204.7 628.2h7.1v3.7h-7.1zM224.9 628.2h7.1v3.7h-7.1zM252 628.2h47.6v3.7h-47.6zM309.4 628.2h7.1v3.7h-7.1zM329.7 628.2h7.1v3.7h-7.1zM343.2 628.2h7.1v3.7h-7.1zM407.5 628.2h149v3.7h-149zM583.2 628.2h7.1v3.7h-7.1zM593.4 628.2h7.1v3.7h-7.1zM647.4 628.2h7.1v3.7h-7.1zM18.8 631.6h30.7v3.7h-30.7zM99.9 631.6h3.7v3.7h-3.7zM110 631.6h3.7v3.7h-3.7zM120.2 631.6h3.7v3.7h-3.7zM164.1 631.6h7.1v3.7h-7.1zM197.9 631.6h13.8v3.7h-13.8zM224.9 631.6h10.4v3.7h-10.4zM252 631.6h54.4v3.7h-54.4zM333.1 631.6h10.4v3.7h-10.4zM383.8 631.6h3.7v3.7h-3.7zM407.5 631.6h71.3v3.7h-71.3zM488.6 631.6h67.9v3.7h-67.9zM583.2 631.6h7.1v3.7h-7.1zM593.4 631.6h7.1v3.7h-7.1zM25.5 635h24v3.7h-24zM96.5 635h3.7v3.7h-3.7zM110 635h3.7v3.7h-3.7zM164.1 635h7.1v3.7h-7.1zM194.5 635h20.6v3.7h-20.6zM221.6 635h13.8v3.7h-13.8zM252 635h54.4v3.7h-54.4zM336.5 635h10.4v3.7h-10.4zM410.8 635h64.5v3.7h-64.5zM495.3 635h61.1v3.7h-61.1zM583.2 635h3.7v3.7h-3.7zM590 635h10.4v3.7h-10.4zM28.9 638.4h10.4v3.7h-10.4zM164.1 638.4h3.7v3.7h-3.7zM194.5 638.4h17.2v3.7h-17.2zM218.2 638.4h20.6v3.7h-20.6zM245.2 638.4h54.4v3.7h-54.4zM323 638.4h7.1v3.7h-7.1zM343.2 638.4h3.7v3.7h-3.7zM410.8 638.4h64.5v3.7h-64.5zM495.3 638.4h61.1v3.7h-61.1zM586.6 638.4h13.8v3.7h-13.8zM197.9 641.8h13.8v3.7h-13.8zM214.8 641.8h61.1v3.7h-61.1zM282.4 641.8h13.8v3.7h-13.8zM319.6 641.8h10.4v3.7h-10.4zM414.2 641.8h40.9v3.7h-40.9zM461.5 641.8h20.6v3.7h-20.6zM488.6 641.8h67.9v3.7h-67.9zM579.8 641.8h20.6v3.7h-20.6zM197.9 645.1h13.8v3.7h-13.8zM224.9 645.1h51v3.7h-51zM282.4 645.1h20.6v3.7h-20.6zM319.6 645.1h7.1v3.7h-7.1zM414.2 645.1h67.9v3.7h-67.9zM485.2 645.1h7.1v3.7h-7.1zM502.1 645.1h54.4v3.7h-54.4zM576.5 645.1h24v3.7h-24zM197.9 648.5h17.2v3.7h-17.2zM221.6 648.5h17.2v3.7h-17.2zM241.8 648.5h30.7v3.7h-30.7zM282.4 648.5h3.7v3.7h-3.7zM295.9 648.5h13.8v3.7h-13.8zM414.2 648.5h78v3.7h-78zM502.1 648.5h51v3.7h-51zM573.1 648.5h30.7v3.7h-30.7zM197.9 651.9h74.7v3.7h-74.7zM295.9 651.9h20.6v3.7h-20.6zM326.3 651.9h7.1v3.7h-7.1zM417.6 651.9h135.5v3.7h-135.5zM573.1 651.9h30.7v3.7h-30.7zM201.3 655.3h71.3v3.7h-71.3zM295.9 655.3h37.5v3.7h-37.5zM421 655.3h98.3v3.7h-98.3zM522.4 655.3h30.7v3.7h-30.7zM573.1 655.3h37.5v3.7h-37.5zM197.9 658.7h44.2v3.7h-44.2zM245.2 658.7h30.7v3.7h-30.7zM289.2 658.7h44.2v3.7h-44.2zM421 658.7h132.1v3.7h-132.1zM569.7 658.7h44.2v3.7h-44.2zM197.9 662h17.2v3.7h-17.2zM218.2 662h20.6v3.7h-20.6zM248.6 662h27.3v3.7h-27.3zM285.8 662h44.2v3.7h-44.2zM424.4 662h128.7v3.7h-128.7zM569.7 662h44.2v3.7h-44.2zM28.9 665.4h3.7v3.7h-3.7zM110 665.4h3.7v3.7h-3.7zM201.3 665.4h40.9v3.7h-40.9zM248.6 665.4h27.3v3.7h-27.3zM289.2 665.4h44.2v3.7h-44.2zM427.7 665.4h125.4v3.7h-125.4zM566.3 665.4h24v3.7h-24zM596.7 665.4h20.6v3.7h-20.6zM28.9 668.8h10.4v3.7h-10.4zM110 668.8h10.4v3.7h-10.4zM201.3 668.8h27.3v3.7h-27.3zM245.2 668.8h30.7v3.7h-30.7zM289.2 668.8h44.2v3.7h-44.2zM434.5 668.8h105.1v3.7h-105.1zM542.7 668.8h10.4v3.7h-10.4zM566.3 668.8h51v3.7h-51zM22.1 672.2h17.2v3.7h-17.2zM55.9 672.2h7.1v3.7h-7.1zM72.8 672.2h7.1v3.7h-7.1zM113.4 672.2h7.1v3.7h-7.1zM201.3 672.2h13.8v3.7h-13.8zM245.2 672.2h17.2v3.7h-17.2zM265.5 672.2h10.4v3.7h-10.4zM285.8 672.2h47.6v3.7h-47.6zM414.2 672.2h7.1v3.7h-7.1zM437.9 672.2h101.7v3.7h-101.7zM542.7 672.2h17.2v3.7h-17.2zM566.3 672.2h51v3.7h-51zM15.4 675.6h24v3.7h-24zM49.2 675.6h13.8v3.7h-13.8zM72.8 675.6h7.1v3.7h-7.1zM89.7 675.6h3.7v3.7h-3.7zM113.4 675.6h7.1v3.7h-7.1zM201.3 675.6h13.8v3.7h-13.8zM248.6 675.6h10.4v3.7h-10.4zM265.5 675.6h67.9v3.7h-67.9zM414.2 675.6h17.2v3.7h-17.2zM441.3 675.6h47.6v3.7h-47.6zM492 675.6h10.4v3.7h-10.4zM505.5 675.6h17.2v3.7h-17.2zM525.8 675.6h67.9v3.7h-67.9zM12 678.9h51v3.7h-51zM72.8 678.9h3.7v3.7h-3.7zM89.7 678.9h3.7v3.7h-3.7zM113.4 678.9h7.1v3.7h-7.1zM201.3 678.9h13.8v3.7h-13.8zM252 678.9h7.1v3.7h-7.1zM265.5 678.9h67.9v3.7h-67.9zM421 678.9h7.1v3.7h-7.1zM444.6 678.9h40.9v3.7h-40.9zM495.3 678.9h27.3v3.7h-27.3zM532.5 678.9h57.8v3.7h-57.8zM12 682.3h74.7v3.7h-74.7zM126.9 682.3h3.7v3.7h-3.7zM147.2 682.3h10.4v3.7h-10.4zM201.3 682.3h13.8v3.7h-13.8zM255.4 682.3h78v3.7h-78zM424.4 682.3h10.4v3.7h-10.4zM444.6 682.3h30.7v3.7h-30.7zM478.4 682.3h3.7v3.7h-3.7zM498.7 682.3h34.1v3.7h-34.1zM535.9 682.3h57.8v3.7h-57.8zM12 685.7h67.9v3.7h-67.9zM103.3 685.7h20.6v3.7h-20.6zM147.2 685.7h10.4v3.7h-10.4zM201.3 685.7h13.8v3.7h-13.8zM258.7 685.7h74.7v3.7h-74.7zM424.4 685.7h10.4v3.7h-10.4zM448 685.7h24v3.7h-24zM485.2 685.7h7.1v3.7h-7.1zM498.7 685.7h88.2v3.7h-88.2zM12 689.1h67.9v3.7h-67.9zM113.4 689.1h20.6v3.7h-20.6zM262.1 689.1h71.3v3.7h-71.3zM424.4 689.1h13.8v3.7h-13.8zM448 689.1h24v3.7h-24zM481.8 689.1h101.7v3.7h-101.7zM12 692.5h64.5v3.7h-64.5zM83 692.5h3.7v3.7h-3.7zM113.4 692.5h10.4v3.7h-10.4zM133.7 692.5h7.1v3.7h-7.1zM295.9 692.5h34.1v3.7h-34.1zM333.1 692.5h3.7v3.7h-3.7zM427.7 692.5h10.4v3.7h-10.4zM448 692.5h24v3.7h-24zM481.8 692.5h91.6v3.7h-91.6zM579.8 692.5h3.7v3.7h-3.7zM12 695.8h57.8v3.7h-57.8zM72.8 695.8h17.2v3.7h-17.2zM116.8 695.8h3.7v3.7h-3.7zM143.8 695.8h7.1v3.7h-7.1zM306.1 695.8h24v3.7h-24zM431.1 695.8h7.1v3.7h-7.1zM451.4 695.8h20.6v3.7h-20.6zM478.4 695.8h84.8v3.7h-84.8zM12 699.2h142.3v3.7h-142.3zM201.3 699.2h13.8v3.7h-13.8zM309.4 699.2h17.2v3.7h-17.2zM451.4 699.2h24v3.7h-24zM481.8 699.2h74.7v3.7h-74.7zM12 702.6h142.3v3.7h-142.3zM191.1 702.6h3.7v3.7h-3.7zM201.3 702.6h10.4v3.7h-10.4zM309.4 702.6h13.8v3.7h-13.8zM451.4 702.6h30.7v3.7h-30.7zM485.2 702.6h7.1v3.7h-7.1zM495.3 702.6h7.1v3.7h-7.1zM505.5 702.6h47.6v3.7h-47.6zM556.2 702.6h7.1v3.7h-7.1zM12 706h152.4v3.7h-152.4zM204.7 706h3.7v3.7h-3.7zM312.8 706h7.1v3.7h-7.1zM454.8 706h30.7v3.7h-30.7zM495.3 706h20.6v3.7h-20.6zM519 706h37.5v3.7h-37.5zM12 709.4h155.8v3.7h-155.8zM201.3 709.4h7.1v3.7h-7.1zM454.8 709.4h34.1v3.7h-34.1zM492 709.4h20.6v3.7h-20.6zM12 712.7h155.8v3.7h-155.8zM204.7 712.7h3.7v3.7h-3.7zM475.1 712.7h7.1v3.7h-7.1zM12 716.1h155.8v3.7h-155.8zM214.8 716.1h3.7v3.7h-3.7zM475.1 716.1h10.4v3.7h-10.4zM12 719.5h169.3v3.7h-169.3zM448 719.5h3.7v3.7h-3.7zM12 722.9h169.3v3.7h-169.3zM265.5 722.9h3.7v3.7h-3.7zM12 726.3h172.7v3.7h-172.7zM279 726.3h7.1v3.7h-7.1zM12 729.6h182.8v3.7h-182.8zM282.4 729.6h3.7v3.7h-3.7zM12 733h176.1v3.7h-176.1zM282.4 733h7.1v3.7h-7.1zM302.7 733h3.7v3.7h-3.7zM12 736.4h186.2v3.7h-186.2zM282.4 736.4h10.4v3.7h-10.4zM302.7 736.4h7.1v3.7h-7.1zM12 739.8h193v3.7h-193zM285.8 739.8h7.1v3.7h-7.1zM306.1 739.8h13.8v3.7h-13.8zM12 743.2h196.3v3.7h-196.3zM258.7 743.2h3.7v3.7h-3.7zM306.1 743.2h13.8v3.7h-13.8zM12 746.5h199.7v3.7h-199.7zM255.4 746.5h3.7v3.7h-3.7zM279 746.5h10.4v3.7h-10.4zM309.4 746.5h10.4v3.7h-10.4zM12 749.9h203.1v3.7h-203.1zM231.7 749.9h13.8v3.7h-13.8zM252 749.9h10.4v3.7h-10.4zM279 749.9h10.4v3.7h-10.4zM306.1 749.9h17.2v3.7h-17.2zM12 753.3h263.9v3.7h-263.9zM282.4 753.3h7.1v3.7h-7.1zM309.4 753.3h13.8v3.7h-13.8zM12 756.7h270.7v3.7h-270.7zM316.2 756.7h7.1v3.7h-7.1zM410.8 756.7h3.7v3.7h-3.7zM12 760.1h270.7v3.7h-270.7zM339.9 760.1h7.1v3.7h-7.1zM380.4 760.1h3.7v3.7h-3.7zM407.5 760.1h7.1v3.7h-7.1zM12 763.4h274.1v3.7h-274.1zM339.9 763.4h7.1v3.7h-7.1zM404.1 763.4h13.8v3.7h-13.8zM12 766.8h277.5v3.7h-277.5zM339.9 766.8h10.4v3.7h-10.4zM387.2 766.8h3.7v3.7h-3.7zM400.7 766.8h17.2v3.7h-17.2zM12 770.2h263.9v3.7h-263.9zM282.4 770.2h10.4v3.7h-10.4zM346.6 770.2h7.1v3.7h-7.1zM380.4 770.2h40.9v3.7h-40.9zM12 773.6h277.5v3.7h-277.5zM346.6 773.6h7.1v3.7h-7.1zM356.8 773.6h3.7v3.7h-3.7zM363.5 773.6h10.4v3.7h-10.4zM380.4 773.6h37.5v3.7h-37.5zM421 773.6h3.7v3.7h-3.7zM12 777h294.4v3.7h-294.4zM339.9 777h7.1v3.7h-7.1zM353.4 777h61.1v3.7h-61.1zM12 780.3h291v3.7h-291zM339.9 780.3h54.4v3.7h-54.4zM400.7 780.3h7.1v3.7h-7.1zM12 783.7h291v3.7h-291zM333.1 783.7h3.7v3.7h-3.7zM339.9 783.7h54.4v3.7h-54.4zM400.7 783.7h7.1v3.7h-7.1zM12 787.1h287.6v3.7h-287.6zM326.3 787.1h7.1v3.7h-7.1zM339.9 787.1h67.9v3.7h-67.9zM410.8 787.1h10.4v3.7h-10.4zM12 790.5h287.6v3.7h-287.6zM326.3 790.5h7.1v3.7h-7.1zM339.9 790.5h84.8v3.7h-84.8zM427.7 790.5h3.7v3.7h-3.7zM12 793.9h287.6v3.7h-287.6zM339.9 793.9h51v3.7h-51zM393.9 793.9h37.5v3.7h-37.5zM12 797.2h284.2v3.7h-284.2zM336.5 797.2h54.4v3.7h-54.4zM393.9 797.2h34.1v3.7h-34.1zM12 800.6h284.2v3.7h-284.2zM336.5 800.6h91.6v3.7h-91.6zM12 804h64.5v3.7h-64.5zM83 804h206.5v3.7h-206.5zM292.5 804h3.7v3.7h-3.7zM333.1 804h47.6v3.7h-47.6zM387.2 804h37.5v3.7h-37.5zM12 807.4h64.5v3.7h-64.5zM83 807.4h206.5v3.7h-206.5zM292.5 807.4h3.7v3.7h-3.7zM333.1 807.4h91.6v3.7h-91.6zM154 810.8h135.5v3.7h-135.5zM329.7 810.8h91.6v3.7h-91.6zM157.3 814.1h132.1v3.7h-132.1zM346.6 814.1h7.1v3.7h-7.1zM356.8 814.1h10.4v3.7h-10.4zM370.3 814.1h10.4v3.7h-10.4zM387.2 814.1h37.5v3.7h-37.5zM157.3 817.5h132.1v3.7h-132.1zM329.7 817.5h7.1v3.7h-7.1zM350 817.5h10.4v3.7h-10.4zM370.3 817.5h10.4v3.7h-10.4zM387.2 817.5h44.2v3.7h-44.2zM214.8 820.9h78v3.7h-78zM329.7 820.9h7.1v3.7h-7.1zM353.4 820.9h24v3.7h-24zM380.4 820.9h47.6v3.7h-47.6zM214.8 824.3h78v3.7h-78zM329.7 824.3h7.1v3.7h-7.1zM353.4 824.3h78v3.7h-78zM214.8 827.7h81.4v3.7h-81.4zM333.1 827.7h7.1v3.7h-7.1zM343.2 827.7h88.2v3.7h-88.2zM214.8 831h84.8v3.7h-84.8zM333.1 831h105.1v3.7h-105.1zM214.8 834.4h74.7v3.7h-74.7zM292.5 834.4h13.8v3.7h-13.8zM333.1 834.4h40.9v3.7h-40.9zM380.4 834.4h61.1v3.7h-61.1zM214.8 837.8h71.3v3.7h-71.3zM295.9 837.8h13.8v3.7h-13.8zM339.9 837.8h27.3v3.7h-27.3zM383.8 837.8h47.6v3.7h-47.6zM434.5 837.8h10.4v3.7h-10.4zM221.6 841.2h64.5v3.7h-64.5zM306.1 841.2h3.7v3.7h-3.7zM339.9 841.2h17.2v3.7h-17.2zM390.6 841.2h40.9v3.7h-40.9zM434.5 841.2h10.4v3.7h-10.4zM221.6 844.6h61.1v3.7h-61.1zM343.2 844.6h13.8v3.7h-13.8zM397.3 844.6h47.6v3.7h-47.6zM221.6 847.9h61.1v3.7h-61.1zM343.2 847.9h10.4v3.7h-10.4zM397.3 847.9h44.2v3.7h-44.2zM221.6 851.3h57.8v3.7h-57.8zM343.2 851.3h10.4v3.7h-10.4zM397.3 851.3h44.2v3.7h-44.2zM731.9 851.3h17.2v3.7h-17.2zM221.6 854.7h54.4v3.7h-54.4zM346.6 854.7h7.1v3.7h-7.1zM363.5 854.7h3.7v3.7h-3.7zM390.6 854.7h51v3.7h-51zM444.6 854.7h17.2v3.7h-17.2zM728.6 854.7h17.2v3.7h-17.2zM221.6 858.1h54.4v3.7h-54.4zM346.6 858.1h3.7v3.7h-3.7zM377 858.1h10.4v3.7h-10.4zM390.6 858.1h47.6v3.7h-47.6zM441.3 858.1h20.6v3.7h-20.6zM721.8 858.1h24v3.7h-24zM224.9 861.5h47.6v3.7h-47.6zM295.9 861.5h7.1v3.7h-7.1zM343.2 861.5h3.7v3.7h-3.7zM356.8 861.5h27.3v3.7h-27.3zM393.9 861.5h40.9v3.7h-40.9zM437.9 861.5h27.3v3.7h-27.3zM725.2 861.5h17.2v3.7h-17.2zM224.9 864.8h44.2v3.7h-44.2zM292.5 864.8h13.8v3.7h-13.8zM356.8 864.8h27.3v3.7h-27.3zM387.2 864.8h3.7v3.7h-3.7zM397.3 864.8h34.1v3.7h-34.1zM434.5 864.8h34.1v3.7h-34.1zM725.2 864.8h13.8v3.7h-13.8zM224.9 868.2h44.2v3.7h-44.2zM292.5 868.2h13.8v3.7h-13.8zM366.9 868.2h30.7v3.7h-30.7zM400.7 868.2h13.8v3.7h-13.8zM417.6 868.2h10.4v3.7h-10.4zM431.1 868.2h37.5v3.7h-37.5zM725.2 868.2h7.1v3.7h-7.1zM224.9 871.6h40.9v3.7h-40.9zM292.5 871.6h10.4v3.7h-10.4zM363.5 871.6h51v3.7h-51zM421 871.6h51v3.7h-51zM224.9 875h37.5v3.7h-37.5zM292.5 875h3.7v3.7h-3.7zM356.8 875h118.6v3.7h-118.6zM224.9 878.4h34.1v3.7h-34.1zM346.6 878.4h128.7v3.7h-128.7zM224.9 881.7h34.1v3.7h-34.1zM346.6 881.7h71.3v3.7h-71.3zM421 881.7h57.8v3.7h-57.8zM228.3 885.1h27.3v3.7h-27.3zM353.4 885.1h30.7v3.7h-30.7zM397.3 885.1h27.3v3.7h-27.3zM427.7 885.1h61.1v3.7h-61.1zM238.5 888.5h17.2v3.7h-17.2zM262.1 888.5h3.7v3.7h-3.7zM272.3 888.5h10.4v3.7h-10.4zM353.4 888.5h20.6v3.7h-20.6zM400.7 888.5h10.4v3.7h-10.4zM417.6 888.5h3.7v3.7h-3.7zM434.5 888.5h54.4v3.7h-54.4zM241.8 891.9h10.4v3.7h-10.4zM275.6 891.9h3.7v3.7h-3.7zM343.2 891.9h7.1v3.7h-7.1zM353.4 891.9h7.1v3.7h-7.1zM400.7 891.9h7.1v3.7h-7.1zM427.7 891.9h61.1v3.7h-61.1zM241.8 895.3h10.4v3.7h-10.4zM343.2 895.3h7.1v3.7h-7.1zM404.1 895.3h3.7v3.7h-3.7zM427.7 895.3h61.1v3.7h-61.1zM241.8 898.6h7.1v3.7h-7.1zM407.5 898.6h3.7v3.7h-3.7zM414.2 898.6h7.1v3.7h-7.1zM424.4 898.6h71.3v3.7h-71.3zM241.8 902h7.1v3.7h-7.1zM363.5 902h3.7v3.7h-3.7zM414.2 902h7.1v3.7h-7.1zM424.4 902h81.4v3.7h-81.4zM241.8 905.4h7.1v3.7h-7.1zM360.1 905.4h3.7v3.7h-3.7zM410.8 905.4h94.9v3.7h-94.9zM241.8 908.8h7.1v3.7h-7.1zM407.5 908.8h98.3v3.7h-98.3zM241.8 912.2h7.1v3.7h-7.1zM407.5 912.2h98.3v3.7h-98.3zM508.9 912.2h3.7v3.7h-3.7zM525.8 912.2h7.1v3.7h-7.1zM241.8 915.5h7.1v3.7h-7.1zM336.5 915.5h3.7v3.7h-3.7zM407.5 915.5h3.7v3.7h-3.7zM414.2 915.5h105.1v3.7h-105.1zM525.8 915.5h7.1v3.7h-7.1zM241.8 918.9h7.1v3.7h-7.1zM255.4 918.9h3.7v3.7h-3.7zM336.5 918.9h3.7v3.7h-3.7zM360.1 918.9h3.7v3.7h-3.7zM407.5 918.9h3.7v3.7h-3.7zM414.2 918.9h101.7v3.7h-101.7zM529.1 918.9h3.7v3.7h-3.7zM241.8 922.3h3.7v3.7h-3.7zM262.1 922.3h3.7v3.7h-3.7zM356.8 922.3h7.1v3.7h-7.1zM414.2 922.3h10.4v3.7h-10.4zM427.7 922.3h84.8v3.7h-84.8zM241.8 925.7h3.7v3.7h-3.7zM262.1 925.7h3.7v3.7h-3.7zM370.3 925.7h3.7v3.7h-3.7zM414.2 925.7h10.4v3.7h-10.4zM427.7 925.7h78v3.7h-78zM508.9 925.7h7.1v3.7h-7.1zM241.8 929.1h3.7v3.7h-3.7zM262.1 929.1h3.7v3.7h-3.7zM336.5 929.1h3.7v3.7h-3.7zM366.9 929.1h13.8v3.7h-13.8zM414.2 929.1h88.2v3.7h-88.2zM241.8 932.4h3.7v3.7h-3.7zM248.6 932.4h3.7v3.7h-3.7zM262.1 932.4h7.1v3.7h-7.1zM319.6 932.4h3.7v3.7h-3.7zM417.6 932.4h84.8v3.7h-84.8zM245.2 935.8h10.4v3.7h-10.4zM265.5 935.8h3.7v3.7h-3.7zM414.2 935.8h3.7v3.7h-3.7zM421 935.8h78v3.7h-78zM238.5 939.2h3.7v3.7h-3.7zM245.2 939.2h13.8v3.7h-13.8zM262.1 939.2h7.1v3.7h-7.1zM421 939.2h64.5v3.7h-64.5zM245.2 942.6h24v3.7h-24zM417.6 942.6h54.4v3.7h-54.4zM661 942.6h7.1v3.7h-7.1zM231.7 946h34.1v3.7h-34.1zM410.8 946h54.4v3.7h-54.4zM657.6 946h13.8v3.7h-13.8zM228.3 949.3h24v3.7h-24zM255.4 949.3h7.1v3.7h-7.1zM414.2 949.3h47.6v3.7h-47.6zM623.8 949.3h3.7v3.7h-3.7zM224.9 952.7h24v3.7h-24zM417.6 952.7h37.5v3.7h-37.5zM623.8 952.7h3.7v3.7h-3.7zM224.9 956.1h20.6v3.7h-20.6zM417.6 956.1h37.5v3.7h-37.5zM620.4 956.1h3.7v3.7h-3.7zM224.9 959.5h17.2v3.7h-17.2zM451.4 959.5h10.4v3.7h-10.4zM620.4 959.5h10.4v3.7h-10.4zM224.9 962.9h20.6v3.7h-20.6zM458.2 962.9h7.1v3.7h-7.1zM613.6 962.9h27.3v3.7h-27.3zM224.9 966.2h13.8v3.7h-13.8zM241.8 966.2h3.7v3.7h-3.7zM468.3 966.2h3.7v3.7h-3.7zM606.9 966.2h3.7v3.7h-3.7zM613.6 966.2h24v3.7h-24zM224.9 969.6h13.8v3.7h-13.8zM468.3 969.6h7.1v3.7h-7.1zM603.5 969.6h3.7v3.7h-3.7zM613.6 969.6h20.6v3.7h-20.6zM224.9 973h10.4v3.7h-10.4zM238.5 973h3.7v3.7h-3.7zM464.9 973h10.4v3.7h-10.4zM481.8 973h3.7v3.7h-3.7zM606.9 973h27.3v3.7h-27.3zM221.6 976.4h13.8v3.7h-13.8zM238.5 976.4h3.7v3.7h-3.7zM461.5 976.4h13.8v3.7h-13.8zM481.8 976.4h3.7v3.7h-3.7zM606.9 976.4h20.6v3.7h-20.6zM218.2 979.8h17.2v3.7h-17.2zM468.3 979.8h3.7v3.7h-3.7zM606.9 979.8h17.2v3.7h-17.2zM218.2 983.1h20.6v3.7h-20.6zM610.3 983.1h3.7v3.7h-3.7zM218.2 986.5h20.6v3.7h-20.6zM218.2 989.9h20.6v3.7h-20.6zM218.2 993.3h20.6v3.7h-20.6zM522.4 993.3h3.7v3.7h-3.7zM613.6 993.3h3.7v3.7h-3.7zM218.2 996.7h20.6v3.7h-20.6zM515.6 996.7h17.2v3.7h-17.2zM218.2 1000h27.3v3.7h-27.3zM515.6 1000h17.2v3.7h-17.2zM221.6 1003.4h24v3.7h-24zM515.6 1003.4h17.2v3.7h-17.2zM218.2 1006.8h24v3.7h-24zM218.2 1010.2h24v3.7h-24zM600.1 1010.2h3.7v3.7h-3.7zM218.2 1013.6h24v3.7h-24zM245.2 1013.6h7.1v3.7h-7.1zM218.2 1016.9h10.4v3.7h-10.4zM248.6 1016.9h3.7v3.7h-3.7zM218.2 1020.3h7.1v3.7h-7.1zM218.2 1023.7h10.4v3.7h-10.4zM542.7 1023.7h10.4v3.7h-10.4zM600.1 1023.7h3.7v3.7h-3.7zM546 1027.1h7.1v3.7h-7.1zM600.1 1030.5h3.7v3.7h-3.7zM600.1 1033.8h7.1v3.7h-7.1zM603.5 1037.2h3.7v3.7h-3.7zM535.9 1040.6h3.7v3.7h-3.7zM590 1040.6h3.7v3.7h-3.7zM586.6 1044h10.4v3.7h-10.4zM590 1047.4h7.1v3.7h-7.1zM559.6 1054.1h3.7v3.7h-3.7zM556.2 1057.5h7.1v3.7h-7.1zM549.4 1060.9h13.8v3.7h-13.8zM546 1064.3h13.8v3.7h-13.8zM583.2 1064.3h3.7v3.7h-3.7zM549.4 1067.6h7.1v3.7h-7.1zM583.2 1067.6h3.7v3.7h-3.7zM583.2 1071h3.7v3.7h-3.7z"/>
<path fill="#F6FFC6" d="M556.2 449.1h10.4v3.7h-10.4zM556.2 452.5h10.4v3.7h-10.4zM559.6 455.9h3.7v3.7h-3.7zM559.6 466h3.7v3.7h-3.7zM573.1 466h7.1v3.7h-7.1zM603.5 466h7.1v3.7h-7.1zM613.6 466h7.1v3.7h-7.1zM556.2 469.4h17.2v3.7h-17.2zM600.1 469.4h10.4v3.7h-10.4zM617 469.4h3.7v3.7h-3.7zM542.7 472.8h3.7v3.7h-3.7zM556.2 472.8h7.1v3.7h-7.1zM590 472.8h7.1v3.7h-7.1zM603.5 472.8h7.1v3.7h-7.1zM617 472.8h3.7v3.7h-3.7zM539.3 476.1h7.1v3.7h-7.1zM590 476.1h10.4v3.7h-10.4zM606.9 476.1h7.1v3.7h-7.1zM617 476.1h3.7v3.7h-3.7zM539.3 479.5h7.1v3.7h-7.1zM549.4 479.5h10.4v3.7h-10.4zM586.6 479.5h13.8v3.7h-13.8zM606.9 479.5h13.8v3.7h-13.8zM542.7 482.9h17.2v3.7h-17.2zM583.2 482.9h3.7v3.7h-3.7zM590 482.9h3.7v3.7h-3.7zM606.9 482.9h13.8v3.7h-13.8zM546 486.3h7.1v3.7h-7.1zM559.6 486.3h3.7v3.7h-3.7zM586.6 486.3h3.7v3.7h-3.7zM610.3 486.3h3.7v3.7h-3.7zM454.8 489.7h3.7v3.7h-3.7zM549.4 489.7h13.8v3.7h-13.8zM586.6 489.7h3.7v3.7h-3.7zM610.3 489.7h3.7v3.7h-3.7zM444.6 493h20.6v3.7h-20.6zM549.4 493h10.4v3.7h-10.4zM610.3 493h10.4v3.7h-10.4zM417.6 496.4h10.4v3.7h-10.4zM444.6 496.4h24v3.7h-24zM546 496.4h7.1v3.7h-7.1zM556.2 496.4h3.7v3.7h-3.7zM606.9 496.4h13.8v3.7h-13.8zM410.8 499.8h17.2v3.7h-17.2zM444.6 499.8h20.6v3.7h-20.6zM546 499.8h10.4v3.7h-10.4zM610.3 499.8h10.4v3.7h-10.4zM407.5 503.2h24v3.7h-24zM444.6 503.2h20.6v3.7h-20.6zM546 503.2h10.4v3.7h-10.4zM590 503.2h3.7v3.7h-3.7zM610.3 503.2h7.1v3.7h-7.1zM282.4 506.6h20.6v3.7h-20.6zM400.7 506.6h57.8v3.7h-57.8zM549.4 506.6h10.4v3.7h-10.4zM576.5 506.6h7.1v3.7h-7.1zM590 506.6h3.7v3.7h-3.7zM610.3 506.6h7.1v3.7h-7.1zM620.4 506.6h3.7v3.7h-3.7zM272.3 509.9h34.1v3.7h-34.1zM397.3 509.9h54.4v3.7h-54.4zM549.4 509.9h13.8v3.7h-13.8zM576.5 509.9h7.1v3.7h-7.1zM590 509.9h3.7v3.7h-3.7zM610.3 509.9h7.1v3.7h-7.1zM265.5 513.3h47.6v3.7h-47.6zM390.6 513.3h57.8v3.7h-57.8zM552.8 513.3h10.4v3.7h-10.4zM610.3 513.3h7.1v3.7h-7.1zM262.1 516.7h54.4v3.7h-54.4zM380.4 516.7h64.5v3.7h-64.5zM552.8 516.7h3.7v3.7h-3.7zM562.9 516.7h7.1v3.7h-7.1zM610.3 516.7h7.1v3.7h-7.1zM258.7 520.1h61.1v3.7h-61.1zM377 520.1h67.9v3.7h-67.9zM552.8 520.1h3.7v3.7h-3.7zM566.3 520.1h7.1v3.7h-7.1zM623.8 520.1h3.7v3.7h-3.7zM255.4 523.5h71.3v3.7h-71.3zM370.3 523.5h71.3v3.7h-71.3zM252 526.8h81.4v3.7h-81.4zM363.5 526.8h47.6v3.7h-47.6zM424.4 526.8h13.8v3.7h-13.8zM566.3 526.8h3.7v3.7h-3.7zM248.6 530.2h142.3v3.7h-142.3zM427.7 530.2h7.1v3.7h-7.1zM566.3 530.2h3.7v3.7h-3.7zM245.2 533.6h30.7v3.7h-30.7zM285.8 533.6h105.1v3.7h-105.1zM241.8 537h27.3v3.7h-27.3zM295.9 537h94.9v3.7h-94.9zM590 537h3.7v3.7h-3.7zM620.4 537h3.7v3.7h-3.7zM238.5 540.4h27.3v3.7h-27.3zM309.4 540.4h81.4v3.7h-81.4zM586.6 540.4h3.7v3.7h-3.7zM593.4 540.4h7.1v3.7h-7.1zM617 540.4h7.1v3.7h-7.1zM235.1 543.7h24v3.7h-24zM323 543.7h67.9v3.7h-67.9zM590 543.7h13.8v3.7h-13.8zM617 543.7h7.1v3.7h-7.1zM231.7 547.1h24v3.7h-24zM339.9 547.1h51v3.7h-51zM556.2 547.1h7.1v3.7h-7.1zM596.7 547.1h10.4v3.7h-10.4zM620.4 547.1h3.7v3.7h-3.7zM224.9 550.5h27.3v3.7h-27.3zM350 550.5h40.9v3.7h-40.9zM583.2 550.5h3.7v3.7h-3.7zM596.7 550.5h3.7v3.7h-3.7zM603.5 550.5h3.7v3.7h-3.7zM221.6 553.9h27.3v3.7h-27.3zM350 553.9h44.2v3.7h-44.2zM559.6 553.9h10.4v3.7h-10.4zM586.6 553.9h13.8v3.7h-13.8zM603.5 553.9h10.4v3.7h-10.4zM633.9 553.9h3.7v3.7h-3.7zM103.3 557.3h10.4v3.7h-10.4zM123.5 557.3h10.4v3.7h-10.4zM160.7 557.3h13.8v3.7h-13.8zM214.8 557.3h30.7v3.7h-30.7zM350 557.3h44.2v3.7h-44.2zM542.7 557.3h3.7v3.7h-3.7zM569.7 557.3h3.7v3.7h-3.7zM576.5 557.3h3.7v3.7h-3.7zM586.6 557.3h20.6v3.7h-20.6zM613.6 557.3h3.7v3.7h-3.7zM633.9 557.3h3.7v3.7h-3.7zM89.7 560.6h10.4v3.7h-10.4zM106.6 560.6h10.4v3.7h-10.4zM123.5 560.6h10.4v3.7h-10.4zM164.1 560.6h10.4v3.7h-10.4zM208 560.6h34.1v3.7h-34.1zM350 560.6h47.6v3.7h-47.6zM407.5 560.6h10.4v3.7h-10.4zM562.9 560.6h3.7v3.7h-3.7zM573.1 560.6h10.4v3.7h-10.4zM600.1 560.6h24v3.7h-24zM633.9 560.6h3.7v3.7h-3.7zM110 564h7.1v3.7h-7.1zM170.9 564h7.1v3.7h-7.1zM208 564h30.7v3.7h-30.7zM350 564h47.6v3.7h-47.6zM569.7 564h10.4v3.7h-10.4zM583.2 564h3.7v3.7h-3.7zM606.9 564h3.7v3.7h-3.7zM613.6 564h7.1v3.7h-7.1zM170.9 567.4h7.1v3.7h-7.1zM204.7 567.4h30.7v3.7h-30.7zM350 567.4h30.7v3.7h-30.7zM569.7 567.4h3.7v3.7h-3.7zM576.5 567.4h3.7v3.7h-3.7zM586.6 567.4h3.7v3.7h-3.7zM603.5 567.4h7.1v3.7h-7.1zM620.4 567.4h3.7v3.7h-3.7zM170.9 570.8h7.1v3.7h-7.1zM204.7 570.8h27.3v3.7h-27.3zM353.4 570.8h27.3v3.7h-27.3zM586.6 570.8h3.7v3.7h-3.7zM170.9 574.2h7.1v3.7h-7.1zM201.3 574.2h27.3v3.7h-27.3zM356.8 574.2h24v3.7h-24zM596.7 574.2h3.7v3.7h-3.7zM620.4 574.2h13.8v3.7h-13.8zM370.3 577.5h7.1v3.7h-7.1zM586.6 577.5h7.1v3.7h-7.1zM613.6 577.5h3.7v3.7h-3.7zM620.4 577.5h7.1v3.7h-7.1zM630.5 577.5h3.7v3.7h-3.7zM610.3 580.9h7.1v3.7h-7.1zM620.4 580.9h13.8v3.7h-13.8zM694.8 580.9h3.7v3.7h-3.7zM701.5 580.9h10.4v3.7h-10.4zM610.3 584.3h7.1v3.7h-7.1zM620.4 584.3h10.4v3.7h-10.4zM691.4 584.3h20.6v3.7h-20.6zM613.6 587.7h13.8v3.7h-13.8zM691.4 587.7h3.7v3.7h-3.7zM701.5 587.7h10.4v3.7h-10.4zM546 591.1h3.7v3.7h-3.7zM586.6 591.1h3.7v3.7h-3.7zM603.5 591.1h13.8v3.7h-13.8zM620.4 591.1h13.8v3.7h-13.8zM691.4 591.1h3.7v3.7h-3.7zM701.5 591.1h10.4v3.7h-10.4zM549.4 594.4h3.7v3.7h-3.7zM583.2 594.4h7.1v3.7h-7.1zM593.4 594.4h10.4v3.7h-10.4zM610.3 594.4h7.1v3.7h-7.1zM620.4 594.4h7.1v3.7h-7.1zM701.5 594.4h10.4v3.7h-10.4zM583.2 597.8h7.1v3.7h-7.1zM596.7 597.8h24v3.7h-24zM623.8 597.8h3.7v3.7h-3.7zM698.1 597.8h13.8v3.7h-13.8zM559.6 601.2h17.2v3.7h-17.2zM583.2 601.2h3.7v3.7h-3.7zM596.7 601.2h24v3.7h-24zM694.8 601.2h13.8v3.7h-13.8zM559.6 604.6h24v3.7h-24zM586.6 604.6h34.1v3.7h-34.1zM559.6 608h17.2v3.7h-17.2zM579.8 608h3.7v3.7h-3.7zM590 608h24v3.7h-24zM559.6 611.3h13.8v3.7h-13.8zM586.6 611.3h13.8v3.7h-13.8zM603.5 611.3h3.7v3.7h-3.7zM559.6 614.7h10.4v3.7h-10.4zM593.4 614.7h7.1v3.7h-7.1zM559.6 618.1h17.2v3.7h-17.2zM559.6 621.5h17.2v3.7h-17.2zM559.6 624.9h13.8v3.7h-13.8zM350 631.6h13.8v3.7h-13.8zM356.8 635h7.1v3.7h-7.1zM360.1 638.4h3.7v3.7h-3.7zM363.5 641.8h7.1v3.7h-7.1zM343.2 645.1h10.4v3.7h-10.4zM346.6 648.5h7.1v3.7h-7.1zM360.1 675.6h10.4v3.7h-10.4zM336.5 678.9h13.8v3.7h-13.8zM353.4 678.9h20.6v3.7h-20.6zM333.1 682.3h17.2v3.7h-17.2zM353.4 682.3h20.6v3.7h-20.6zM333.1 685.7h13.8v3.7h-13.8zM353.4 685.7h20.6v3.7h-20.6zM336.5 689.1h10.4v3.7h-10.4zM350 689.1h7.1v3.7h-7.1zM363.5 689.1h7.1v3.7h-7.1zM336.5 692.5h24v3.7h-24zM383.8 695.8h10.4v3.7h-10.4zM363.5 699.2h3.7v3.7h-3.7zM383.8 699.2h20.6v3.7h-20.6zM360.1 702.6h7.1v3.7h-7.1zM383.8 702.6h17.2v3.7h-17.2zM353.4 706h13.8v3.7h-13.8zM383.8 706h7.1v3.7h-7.1zM397.3 706h10.4v3.7h-10.4zM353.4 709.4h17.2v3.7h-17.2zM383.8 709.4h3.7v3.7h-3.7zM397.3 709.4h27.3v3.7h-27.3zM353.4 712.7h30.7v3.7h-30.7zM397.3 712.7h7.1v3.7h-7.1zM407.5 712.7h30.7v3.7h-30.7zM353.4 716.1h30.7v3.7h-30.7zM397.3 716.1h47.6v3.7h-47.6zM360.1 719.5h13.8v3.7h-13.8zM380.4 719.5h3.7v3.7h-3.7zM400.7 719.5h44.2v3.7h-44.2zM370.3 722.9h3.7v3.7h-3.7zM380.4 722.9h7.1v3.7h-7.1zM404.1 722.9h34.1v3.7h-34.1zM373.7 726.3h17.2v3.7h-17.2zM400.7 726.3h40.9v3.7h-40.9zM377 729.6h7.1v3.7h-7.1zM393.9 729.6h47.6v3.7h-47.6zM393.9 733h44.2v3.7h-44.2zM393.9 736.4h17.2v3.7h-17.2zM414.2 736.4h24v3.7h-24zM393.9 739.8h3.7v3.7h-3.7zM400.7 739.8h7.1v3.7h-7.1zM421 739.8h17.2v3.7h-17.2zM393.9 743.2h17.2v3.7h-17.2zM421 743.2h17.2v3.7h-17.2zM715 749.9h30.7v3.7h-30.7zM711.7 753.3h37.5v3.7h-37.5zM711.7 756.7h37.5v3.7h-37.5zM711.7 760.1h57.8v3.7h-57.8zM711.7 763.4h7.1v3.7h-7.1zM721.8 763.4h47.6v3.7h-47.6zM708.3 766.8h3.7v3.7h-3.7zM721.8 766.8h30.7v3.7h-30.7zM755.6 766.8h17.2v3.7h-17.2zM704.9 770.2h7.1v3.7h-7.1zM721.8 770.2h51v3.7h-51zM704.9 773.6h7.1v3.7h-7.1zM721.8 773.6h51v3.7h-51zM718.4 777h10.4v3.7h-10.4zM735.3 777h37.5v3.7h-37.5zM704.9 780.3h3.7v3.7h-3.7zM715 780.3h13.8v3.7h-13.8zM731.9 780.3h40.9v3.7h-40.9zM701.5 783.7h3.7v3.7h-3.7zM715 783.7h57.8v3.7h-57.8zM698.1 787.1h7.1v3.7h-7.1zM715 787.1h57.8v3.7h-57.8zM775.9 787.1h7.1v3.7h-7.1zM434.5 790.5h10.4v3.7h-10.4zM698.1 790.5h10.4v3.7h-10.4zM711.7 790.5h7.1v3.7h-7.1zM721.8 790.5h51v3.7h-51zM775.9 790.5h10.4v3.7h-10.4zM431.1 793.9h7.1v3.7h-7.1zM441.3 793.9h7.1v3.7h-7.1zM698.1 793.9h20.6v3.7h-20.6zM725.2 793.9h17.2v3.7h-17.2zM748.8 793.9h3.7v3.7h-3.7zM755.6 793.9h34.1v3.7h-34.1zM434.5 797.2h17.2v3.7h-17.2zM677.9 797.2h3.7v3.7h-3.7zM698.1 797.2h24v3.7h-24zM725.2 797.2h64.5v3.7h-64.5zM437.9 800.6h13.8v3.7h-13.8zM701.5 800.6h34.1v3.7h-34.1zM752.2 800.6h40.9v3.7h-40.9zM448 804h3.7v3.7h-3.7zM691.4 804h7.1v3.7h-7.1zM701.5 804h7.1v3.7h-7.1zM721.8 804h10.4v3.7h-10.4zM755.6 804h7.1v3.7h-7.1zM782.6 804h13.8v3.7h-13.8zM441.3 807.4h3.7v3.7h-3.7zM454.8 807.4h3.7v3.7h-3.7zM691.4 807.4h7.1v3.7h-7.1zM728.6 807.4h3.7v3.7h-3.7zM755.6 807.4h13.8v3.7h-13.8zM782.6 807.4h27.3v3.7h-27.3zM458.2 810.8h3.7v3.7h-3.7zM762.4 810.8h10.4v3.7h-10.4zM782.6 810.8h27.3v3.7h-27.3zM444.6 814.1h3.7v3.7h-3.7zM762.4 814.1h10.4v3.7h-10.4zM782.6 814.1h24v3.7h-24zM448 817.5h3.7v3.7h-3.7zM762.4 817.5h40.9v3.7h-40.9zM448 820.9h3.7v3.7h-3.7zM755.6 820.9h10.4v3.7h-10.4zM775.9 820.9h30.7v3.7h-30.7zM448 824.3h3.7v3.7h-3.7zM752.2 824.3h13.8v3.7h-13.8zM772.5 824.3h30.7v3.7h-30.7zM454.8 827.7h3.7v3.7h-3.7zM650.8 827.7h13.8v3.7h-13.8zM691.4 827.7h10.4v3.7h-10.4zM748.8 827.7h47.6v3.7h-47.6zM444.6 831h3.7v3.7h-3.7zM454.8 831h3.7v3.7h-3.7zM650.8 831h13.8v3.7h-13.8zM681.2 831h24v3.7h-24zM748.8 831h40.9v3.7h-40.9zM451.4 834.4h13.8v3.7h-13.8zM650.8 834.4h13.8v3.7h-13.8zM681.2 834.4h24v3.7h-24zM748.8 834.4h34.1v3.7h-34.1zM454.8 837.8h10.4v3.7h-10.4zM650.8 837.8h13.8v3.7h-13.8zM681.2 837.8h24v3.7h-24zM752.2 837.8h24v3.7h-24zM454.8 841.2h13.8v3.7h-13.8zM650.8 841.2h3.7v3.7h-3.7zM661 841.2h3.7v3.7h-3.7zM681.2 841.2h24v3.7h-24zM752.2 841.2h10.4v3.7h-10.4zM454.8 844.6h10.4v3.7h-10.4zM468.3 844.6h3.7v3.7h-3.7zM475.1 844.6h3.7v3.7h-3.7zM650.8 844.6h13.8v3.7h-13.8zM681.2 844.6h24v3.7h-24zM451.4 847.9h3.7v3.7h-3.7zM458.2 847.9h7.1v3.7h-7.1zM471.7 847.9h3.7v3.7h-3.7zM492 847.9h17.2v3.7h-17.2zM512.2 847.9h3.7v3.7h-3.7zM650.8 847.9h13.8v3.7h-13.8zM681.2 847.9h24v3.7h-24zM458.2 851.3h20.6v3.7h-20.6zM492 851.3h24v3.7h-24zM650.8 851.3h13.8v3.7h-13.8zM684.6 851.3h20.6v3.7h-20.6zM461.5 854.7h17.2v3.7h-17.2zM488.6 854.7h10.4v3.7h-10.4zM502.1 854.7h13.8v3.7h-13.8zM650.8 854.7h7.1v3.7h-7.1zM688 854.7h17.2v3.7h-17.2zM461.5 858.1h3.7v3.7h-3.7zM468.3 858.1h13.8v3.7h-13.8zM498.7 858.1h10.4v3.7h-10.4zM552.8 858.1h3.7v3.7h-3.7zM691.4 858.1h7.1v3.7h-7.1zM471.7 861.5h13.8v3.7h-13.8zM498.7 861.5h13.8v3.7h-13.8zM556.2 861.5h3.7v3.7h-3.7zM471.7 864.8h7.1v3.7h-7.1zM481.8 864.8h10.4v3.7h-10.4zM495.3 864.8h17.2v3.7h-17.2zM559.6 864.8h3.7v3.7h-3.7zM468.3 868.2h17.2v3.7h-17.2zM488.6 868.2h3.7v3.7h-3.7zM495.3 868.2h7.1v3.7h-7.1zM505.5 868.2h10.4v3.7h-10.4zM559.6 868.2h7.1v3.7h-7.1zM478.4 871.6h13.8v3.7h-13.8zM495.3 871.6h20.6v3.7h-20.6zM559.6 871.6h10.4v3.7h-10.4zM475.1 875h17.2v3.7h-17.2zM495.3 875h10.4v3.7h-10.4zM515.6 875h3.7v3.7h-3.7zM559.6 875h13.8v3.7h-13.8zM312.8 878.4h3.7v3.7h-3.7zM475.1 878.4h3.7v3.7h-3.7zM481.8 878.4h10.4v3.7h-10.4zM498.7 878.4h7.1v3.7h-7.1zM559.6 878.4h7.1v3.7h-7.1zM485.2 881.7h7.1v3.7h-7.1zM498.7 881.7h7.1v3.7h-7.1zM542.7 881.7h3.7v3.7h-3.7zM562.9 881.7h10.4v3.7h-10.4zM502.1 885.1h10.4v3.7h-10.4zM525.8 885.1h7.1v3.7h-7.1zM539.3 885.1h17.2v3.7h-17.2zM559.6 885.1h7.1v3.7h-7.1zM502.1 888.5h7.1v3.7h-7.1zM525.8 888.5h7.1v3.7h-7.1zM535.9 888.5h13.8v3.7h-13.8zM556.2 888.5h17.2v3.7h-17.2zM613.6 888.5h3.7v3.7h-3.7zM508.9 891.9h10.4v3.7h-10.4zM525.8 891.9h17.2v3.7h-17.2zM549.4 891.9h24v3.7h-24zM613.6 891.9h3.7v3.7h-3.7zM620.4 891.9h3.7v3.7h-3.7zM640.7 891.9h7.1v3.7h-7.1zM326.3 895.3h3.7v3.7h-3.7zM532.5 895.3h27.3v3.7h-27.3zM566.3 895.3h3.7v3.7h-3.7zM617 895.3h10.4v3.7h-10.4zM640.7 895.3h7.1v3.7h-7.1zM512.2 898.6h3.7v3.7h-3.7zM532.5 898.6h3.7v3.7h-3.7zM539.3 898.6h24v3.7h-24zM566.3 898.6h3.7v3.7h-3.7zM617 898.6h27.3v3.7h-27.3zM309.4 902h7.1v3.7h-7.1zM323 902h7.1v3.7h-7.1zM529.1 902h7.1v3.7h-7.1zM542.7 902h7.1v3.7h-7.1zM556.2 902h10.4v3.7h-10.4zM623.8 902h24v3.7h-24zM285.8 905.4h3.7v3.7h-3.7zM312.8 905.4h17.2v3.7h-17.2zM532.5 905.4h7.1v3.7h-7.1zM542.7 905.4h7.1v3.7h-7.1zM562.9 905.4h3.7v3.7h-3.7zM623.8 905.4h3.7v3.7h-3.7zM630.5 905.4h17.2v3.7h-17.2zM657.6 905.4h3.7v3.7h-3.7zM282.4 908.8h10.4v3.7h-10.4zM312.8 908.8h7.1v3.7h-7.1zM532.5 908.8h13.8v3.7h-13.8zM623.8 908.8h3.7v3.7h-3.7zM637.3 908.8h10.4v3.7h-10.4zM282.4 912.2h13.8v3.7h-13.8zM312.8 912.2h3.7v3.7h-3.7zM535.9 912.2h7.1v3.7h-7.1zM633.9 912.2h3.7v3.7h-3.7zM640.7 912.2h3.7v3.7h-3.7zM279 915.5h17.2v3.7h-17.2zM532.5 915.5h10.4v3.7h-10.4zM627.2 915.5h3.7v3.7h-3.7zM633.9 915.5h3.7v3.7h-3.7zM640.7 915.5h7.1v3.7h-7.1zM275.6 918.9h20.6v3.7h-20.6zM535.9 918.9h7.1v3.7h-7.1zM556.2 918.9h3.7v3.7h-3.7zM623.8 918.9h24v3.7h-24zM279 922.3h13.8v3.7h-13.8zM529.1 922.3h10.4v3.7h-10.4zM549.4 922.3h13.8v3.7h-13.8zM623.8 922.3h24v3.7h-24zM279 925.7h13.8v3.7h-13.8zM316.2 925.7h3.7v3.7h-3.7zM529.1 925.7h10.4v3.7h-10.4zM549.4 925.7h13.8v3.7h-13.8zM573.1 925.7h7.1v3.7h-7.1zM623.8 925.7h20.6v3.7h-20.6zM657.6 925.7h3.7v3.7h-3.7zM279 929.1h3.7v3.7h-3.7zM532.5 929.1h17.2v3.7h-17.2zM552.8 929.1h3.7v3.7h-3.7zM562.9 929.1h13.8v3.7h-13.8zM620.4 929.1h24v3.7h-24zM657.6 929.1h3.7v3.7h-3.7zM522.4 932.4h27.3v3.7h-27.3zM552.8 932.4h10.4v3.7h-10.4zM566.3 932.4h7.1v3.7h-7.1zM617 932.4h7.1v3.7h-7.1zM627.2 932.4h17.2v3.7h-17.2zM295.9 935.8h3.7v3.7h-3.7zM512.2 935.8h3.7v3.7h-3.7zM519 935.8h20.6v3.7h-20.6zM549.4 935.8h24v3.7h-24zM617 935.8h3.7v3.7h-3.7zM633.9 935.8h7.1v3.7h-7.1zM316.2 939.2h24v3.7h-24zM522.4 939.2h17.2v3.7h-17.2zM546 939.2h20.6v3.7h-20.6zM610.3 939.2h7.1v3.7h-7.1zM644.1 939.2h3.7v3.7h-3.7zM295.9 942.6h3.7v3.7h-3.7zM302.7 942.6h37.5v3.7h-37.5zM505.5 942.6h3.7v3.7h-3.7zM512.2 942.6h3.7v3.7h-3.7zM525.8 942.6h13.8v3.7h-13.8zM546 942.6h20.6v3.7h-20.6zM610.3 942.6h7.1v3.7h-7.1zM299.3 946h3.7v3.7h-3.7zM306.1 946h3.7v3.7h-3.7zM312.8 946h27.3v3.7h-27.3zM498.7 946h10.4v3.7h-10.4zM525.8 946h13.8v3.7h-13.8zM546 946h27.3v3.7h-27.3zM613.6 946h3.7v3.7h-3.7zM312.8 949.3h20.6v3.7h-20.6zM336.5 949.3h3.7v3.7h-3.7zM492 949.3h17.2v3.7h-17.2zM529.1 949.3h27.3v3.7h-27.3zM559.6 949.3h13.8v3.7h-13.8zM593.4 949.3h7.1v3.7h-7.1zM606.9 949.3h10.4v3.7h-10.4zM306.1 952.7h27.3v3.7h-27.3zM336.5 952.7h3.7v3.7h-3.7zM502.1 952.7h7.1v3.7h-7.1zM529.1 952.7h27.3v3.7h-27.3zM559.6 952.7h10.4v3.7h-10.4zM590 952.7h13.8v3.7h-13.8zM606.9 952.7h7.1v3.7h-7.1zM312.8 956.1h27.3v3.7h-27.3zM535.9 956.1h20.6v3.7h-20.6zM562.9 956.1h3.7v3.7h-3.7zM579.8 956.1h24v3.7h-24zM312.8 959.5h17.2v3.7h-17.2zM333.1 959.5h7.1v3.7h-7.1zM417.6 959.5h24v3.7h-24zM522.4 959.5h3.7v3.7h-3.7zM539.3 959.5h17.2v3.7h-17.2zM562.9 959.5h7.1v3.7h-7.1zM579.8 959.5h13.8v3.7h-13.8zM596.7 959.5h3.7v3.7h-3.7zM309.4 962.9h17.2v3.7h-17.2zM336.5 962.9h3.7v3.7h-3.7zM417.6 962.9h24v3.7h-24zM451.4 962.9h7.1v3.7h-7.1zM522.4 962.9h3.7v3.7h-3.7zM539.3 962.9h17.2v3.7h-17.2zM562.9 962.9h7.1v3.7h-7.1zM583.2 962.9h10.4v3.7h-10.4zM596.7 962.9h7.1v3.7h-7.1zM319.6 966.2h7.1v3.7h-7.1zM417.6 966.2h24v3.7h-24zM444.6 966.2h17.2v3.7h-17.2zM549.4 966.2h3.7v3.7h-3.7zM562.9 966.2h7.1v3.7h-7.1zM579.8 966.2h10.4v3.7h-10.4zM596.7 966.2h10.4v3.7h-10.4zM323 969.6h3.7v3.7h-3.7zM417.6 969.6h17.2v3.7h-17.2zM441.3 969.6h13.8v3.7h-13.8zM461.5 969.6h3.7v3.7h-3.7zM562.9 969.6h7.1v3.7h-7.1zM579.8 969.6h10.4v3.7h-10.4zM593.4 969.6h10.4v3.7h-10.4zM319.6 973h10.4v3.7h-10.4zM417.6 973h13.8v3.7h-13.8zM437.9 973h17.2v3.7h-17.2zM458.2 973h7.1v3.7h-7.1zM492 973h3.7v3.7h-3.7zM566.3 973h3.7v3.7h-3.7zM579.8 973h24v3.7h-24zM302.7 976.4h3.7v3.7h-3.7zM323 976.4h17.2v3.7h-17.2zM417.6 976.4h17.2v3.7h-17.2zM437.9 976.4h17.2v3.7h-17.2zM492 976.4h7.1v3.7h-7.1zM502.1 976.4h3.7v3.7h-3.7zM566.3 976.4h3.7v3.7h-3.7zM583.2 976.4h7.1v3.7h-7.1zM593.4 976.4h10.4v3.7h-10.4zM302.7 979.8h3.7v3.7h-3.7zM326.3 979.8h13.8v3.7h-13.8zM407.5 979.8h10.4v3.7h-10.4zM421 979.8h37.5v3.7h-37.5zM492 979.8h7.1v3.7h-7.1zM502.1 979.8h3.7v3.7h-3.7zM566.3 979.8h3.7v3.7h-3.7zM583.2 979.8h20.6v3.7h-20.6zM299.3 983.1h7.1v3.7h-7.1zM336.5 983.1h3.7v3.7h-3.7zM414.2 983.1h34.1v3.7h-34.1zM454.8 983.1h7.1v3.7h-7.1zM492 983.1h7.1v3.7h-7.1zM502.1 983.1h13.8v3.7h-13.8zM583.2 983.1h3.7v3.7h-3.7zM593.4 983.1h7.1v3.7h-7.1zM292.5 986.5h17.2v3.7h-17.2zM336.5 986.5h3.7v3.7h-3.7zM417.6 986.5h27.3v3.7h-27.3zM458.2 986.5h13.8v3.7h-13.8zM478.4 986.5h7.1v3.7h-7.1zM492 986.5h24v3.7h-24zM519 986.5h3.7v3.7h-3.7zM549.4 986.5h3.7v3.7h-3.7zM586.6 986.5h13.8v3.7h-13.8zM292.5 989.9h37.5v3.7h-37.5zM424.4 989.9h17.2v3.7h-17.2zM454.8 989.9h27.3v3.7h-27.3zM502.1 989.9h10.4v3.7h-10.4zM586.6 989.9h10.4v3.7h-10.4zM600.1 989.9h3.7v3.7h-3.7zM292.5 993.3h37.5v3.7h-37.5zM448 993.3h10.4v3.7h-10.4zM461.5 993.3h13.8v3.7h-13.8zM586.6 993.3h10.4v3.7h-10.4zM295.9 996.7h30.7v3.7h-30.7zM448 996.7h10.4v3.7h-10.4zM461.5 996.7h7.1v3.7h-7.1zM471.7 996.7h3.7v3.7h-3.7zM478.4 996.7h7.1v3.7h-7.1zM586.6 996.7h13.8v3.7h-13.8zM306.1 1000h17.2v3.7h-17.2zM454.8 1000h10.4v3.7h-10.4zM475.1 1000h17.2v3.7h-17.2zM590 1000h3.7v3.7h-3.7zM596.7 1000h3.7v3.7h-3.7zM302.7 1003.4h20.6v3.7h-20.6zM458.2 1003.4h24v3.7h-24zM488.6 1003.4h20.6v3.7h-20.6zM562.9 1003.4h7.1v3.7h-7.1zM302.7 1006.8h3.7v3.7h-3.7zM464.9 1006.8h20.6v3.7h-20.6zM492 1006.8h20.6v3.7h-20.6zM562.9 1006.8h10.4v3.7h-10.4zM590 1006.8h3.7v3.7h-3.7zM299.3 1010.2h7.1v3.7h-7.1zM468.3 1010.2h3.7v3.7h-3.7zM478.4 1010.2h7.1v3.7h-7.1zM492 1010.2h27.3v3.7h-27.3zM566.3 1010.2h7.1v3.7h-7.1zM596.7 1010.2h3.7v3.7h-3.7zM299.3 1013.6h7.1v3.7h-7.1zM481.8 1013.6h37.5v3.7h-37.5zM295.9 1016.9h13.8v3.7h-13.8zM481.8 1016.9h37.5v3.7h-37.5zM292.5 1020.3h24v3.7h-24zM481.8 1020.3h37.5v3.7h-37.5zM289.2 1023.7h24v3.7h-24zM485.2 1023.7h3.7v3.7h-3.7zM492 1023.7h30.7v3.7h-30.7zM289.2 1027.1h24v3.7h-24zM488.6 1027.1h34.1v3.7h-34.1zM529.1 1027.1h3.7v3.7h-3.7zM542.7 1027.1h3.7v3.7h-3.7zM285.8 1030.5h24v3.7h-24zM488.6 1030.5h10.4v3.7h-10.4zM502.1 1030.5h20.6v3.7h-20.6zM542.7 1030.5h7.1v3.7h-7.1zM285.8 1033.8h20.6v3.7h-20.6zM495.3 1033.8h3.7v3.7h-3.7zM508.9 1033.8h13.8v3.7h-13.8zM535.9 1033.8h3.7v3.7h-3.7zM542.7 1033.8h10.4v3.7h-10.4zM285.8 1037.2h20.6v3.7h-20.6zM512.2 1037.2h7.1v3.7h-7.1zM539.3 1037.2h24v3.7h-24zM576.5 1037.2h3.7v3.7h-3.7zM285.8 1040.6h10.4v3.7h-10.4zM515.6 1040.6h3.7v3.7h-3.7zM539.3 1040.6h27.3v3.7h-27.3zM519 1044h3.7v3.7h-3.7zM539.3 1044h40.9v3.7h-40.9zM542.7 1047.4h30.7v3.7h-30.7zM512.2 1050.7h7.1v3.7h-7.1zM546 1050.7h20.6v3.7h-20.6zM569.7 1050.7h3.7v3.7h-3.7zM549.4 1054.1h10.4v3.7h-10.4zM566.3 1054.1h3.7v3.7h-3.7zM525.8 1060.9h7.1v3.7h-7.1zM529.1 1064.3h3.7v3.7h-3.7z"/>
<path fill="#CDA434" d="M549.4 466h3.7v3.7h-3.7zM546 469.4h10.4v3.7h-10.4zM546 472.8h7.1v3.7h-7.1zM546 476.1h7.1v3.7h-7.1zM546 479.5h3.7v3.7h-3.7zM552.8 486.3h7.1v3.7h-7.1zM421 489.7h7.1v3.7h-7.1zM562.9 489.7h3.7v3.7h-3.7zM414.2 493h10.4v3.7h-10.4zM559.6 493h7.1v3.7h-7.1zM579.8 493h7.1v3.7h-7.1zM407.5 496.4h10.4v3.7h-10.4zM559.6 496.4h3.7v3.7h-3.7zM576.5 496.4h10.4v3.7h-10.4zM275.6 499.8h44.2v3.7h-44.2zM404.1 499.8h7.1v3.7h-7.1zM559.6 499.8h3.7v3.7h-3.7zM576.5 499.8h7.1v3.7h-7.1zM265.5 503.2h54.4v3.7h-54.4zM397.3 503.2h10.4v3.7h-10.4zM559.6 503.2h3.7v3.7h-3.7zM576.5 503.2h7.1v3.7h-7.1zM258.7 506.6h24v3.7h-24zM302.7 506.6h20.6v3.7h-20.6zM393.9 506.6h7.1v3.7h-7.1zM559.6 506.6h7.1v3.7h-7.1zM255.4 509.9h17.2v3.7h-17.2zM306.1 509.9h17.2v3.7h-17.2zM387.2 509.9h10.4v3.7h-10.4zM562.9 509.9h7.1v3.7h-7.1zM617 509.9h10.4v3.7h-10.4zM252 513.3h13.8v3.7h-13.8zM312.8 513.3h17.2v3.7h-17.2zM383.8 513.3h7.1v3.7h-7.1zM562.9 513.3h13.8v3.7h-13.8zM617 513.3h10.4v3.7h-10.4zM248.6 516.7h13.8v3.7h-13.8zM316.2 516.7h20.6v3.7h-20.6zM339.9 516.7h7.1v3.7h-7.1zM377 516.7h3.7v3.7h-3.7zM573.1 516.7h3.7v3.7h-3.7zM617 516.7h10.4v3.7h-10.4zM241.8 520.1h17.2v3.7h-17.2zM319.6 520.1h34.1v3.7h-34.1zM373.7 520.1h3.7v3.7h-3.7zM238.5 523.5h17.2v3.7h-17.2zM326.3 523.5h44.2v3.7h-44.2zM231.7 526.8h20.6v3.7h-20.6zM333.1 526.8h30.7v3.7h-30.7zM224.9 530.2h24v3.7h-24zM110 533.6h3.7v3.7h-3.7zM221.6 533.6h24v3.7h-24zM110 537h3.7v3.7h-3.7zM214.8 537h27.3v3.7h-27.3zM110 540.4h10.4v3.7h-10.4zM211.4 540.4h27.3v3.7h-27.3zM590 540.4h3.7v3.7h-3.7zM99.9 543.7h20.6v3.7h-20.6zM187.8 543.7h7.1v3.7h-7.1zM208 543.7h27.3v3.7h-27.3zM566.3 543.7h13.8v3.7h-13.8zM103.3 547.1h10.4v3.7h-10.4zM164.1 547.1h7.1v3.7h-7.1zM187.8 547.1h44.2v3.7h-44.2zM566.3 547.1h3.7v3.7h-3.7zM579.8 547.1h3.7v3.7h-3.7zM103.3 550.5h7.1v3.7h-7.1zM164.1 550.5h61.1v3.7h-61.1zM566.3 550.5h3.7v3.7h-3.7zM579.8 550.5h3.7v3.7h-3.7zM600.1 550.5h3.7v3.7h-3.7zM164.1 553.9h57.8v3.7h-57.8zM579.8 553.9h7.1v3.7h-7.1zM600.1 553.9h3.7v3.7h-3.7zM181 557.3h34.1v3.7h-34.1zM573.1 557.3h3.7v3.7h-3.7zM579.8 557.3h7.1v3.7h-7.1zM194.5 560.6h13.8v3.7h-13.8zM583.2 560.6h17.2v3.7h-17.2zM197.9 564h10.4v3.7h-10.4zM586.6 564h13.8v3.7h-13.8zM623.8 564h13.8v3.7h-13.8zM201.3 567.4h3.7v3.7h-3.7zM590 567.4h7.1v3.7h-7.1zM623.8 567.4h13.8v3.7h-13.8zM590 570.8h7.1v3.7h-7.1zM613.6 570.8h7.1v3.7h-7.1zM623.8 570.8h13.8v3.7h-13.8zM613.6 574.2h7.1v3.7h-7.1zM617 577.5h3.7v3.7h-3.7zM627.2 577.5h3.7v3.7h-3.7zM617 580.9h3.7v3.7h-3.7zM698.1 580.9h3.7v3.7h-3.7zM617 584.3h3.7v3.7h-3.7zM627.2 587.7h3.7v3.7h-3.7zM603.5 594.4h7.1v3.7h-7.1zM583.2 604.6h3.7v3.7h-3.7zM583.2 608h7.1v3.7h-7.1zM765.7 743.2h3.7v3.7h-3.7zM765.7 746.5h3.7v3.7h-3.7zM765.7 749.9h7.1v3.7h-7.1zM748.8 753.3h24v3.7h-24zM748.8 756.7h24v3.7h-24zM681.2 760.1h30.7v3.7h-30.7zM769.1 760.1h7.1v3.7h-7.1zM681.2 763.4h27.3v3.7h-27.3zM769.1 763.4h7.1v3.7h-7.1zM681.2 766.8h7.1v3.7h-7.1zM698.1 766.8h10.4v3.7h-10.4zM752.2 766.8h3.7v3.7h-3.7zM772.5 766.8h7.1v3.7h-7.1zM681.2 770.2h7.1v3.7h-7.1zM698.1 770.2h7.1v3.7h-7.1zM772.5 770.2h7.1v3.7h-7.1zM681.2 773.6h7.1v3.7h-7.1zM698.1 773.6h7.1v3.7h-7.1zM772.5 773.6h20.6v3.7h-20.6zM681.2 777h27.3v3.7h-27.3zM728.6 777h7.1v3.7h-7.1zM772.5 777h20.6v3.7h-20.6zM681.2 780.3h24v3.7h-24zM728.6 780.3h3.7v3.7h-3.7zM772.5 780.3h20.6v3.7h-20.6zM681.2 783.7h20.6v3.7h-20.6zM772.5 783.7h20.6v3.7h-20.6zM772.5 787.1h3.7v3.7h-3.7zM782.6 787.1h13.8v3.7h-13.8zM772.5 790.5h3.7v3.7h-3.7zM786 790.5h10.4v3.7h-10.4zM437.9 793.9h3.7v3.7h-3.7zM789.4 793.9h10.4v3.7h-10.4zM789.4 797.2h13.8v3.7h-13.8zM819.8 797.2h3.7v3.7h-3.7zM677.9 800.6h3.7v3.7h-3.7zM792.8 800.6h20.6v3.7h-20.6zM816.4 800.6h7.1v3.7h-7.1zM762.4 804h20.6v3.7h-20.6zM796.2 804h27.3v3.7h-27.3zM444.6 807.4h3.7v3.7h-3.7zM769.1 807.4h13.8v3.7h-13.8zM809.7 807.4h13.8v3.7h-13.8zM755.6 810.8h7.1v3.7h-7.1zM772.5 810.8h10.4v3.7h-10.4zM809.7 810.8h10.4v3.7h-10.4zM448 814.1h3.7v3.7h-3.7zM755.6 814.1h7.1v3.7h-7.1zM772.5 814.1h10.4v3.7h-10.4zM809.7 814.1h7.1v3.7h-7.1zM755.6 817.5h7.1v3.7h-7.1zM765.7 820.9h10.4v3.7h-10.4zM765.7 824.3h7.1v3.7h-7.1zM458.2 827.7h7.1v3.7h-7.1zM464.9 831h3.7v3.7h-3.7zM569.7 831h7.1v3.7h-7.1zM579.8 831h3.7v3.7h-3.7zM468.3 834.4h3.7v3.7h-3.7zM562.9 834.4h7.1v3.7h-7.1zM583.2 834.4h3.7v3.7h-3.7zM471.7 837.8h3.7v3.7h-3.7zM559.6 837.8h3.7v3.7h-3.7zM586.6 837.8h3.7v3.7h-3.7zM475.1 841.2h3.7v3.7h-3.7zM556.2 841.2h7.1v3.7h-7.1zM590 841.2h3.7v3.7h-3.7zM654.2 841.2h7.1v3.7h-7.1zM762.4 841.2h10.4v3.7h-10.4zM556.2 844.6h3.7v3.7h-3.7zM593.4 844.6h3.7v3.7h-3.7zM759 844.6h13.8v3.7h-13.8zM552.8 847.9h7.1v3.7h-7.1zM593.4 847.9h3.7v3.7h-3.7zM556.2 851.3h3.7v3.7h-3.7zM593.4 851.3h3.7v3.7h-3.7zM478.4 854.7h3.7v3.7h-3.7zM556.2 854.7h3.7v3.7h-3.7zM596.7 854.7h3.7v3.7h-3.7zM481.8 858.1h3.7v3.7h-3.7zM556.2 858.1h7.1v3.7h-7.1zM596.7 858.1h3.7v3.7h-3.7zM485.2 861.5h7.1v3.7h-7.1zM559.6 861.5h7.1v3.7h-7.1zM596.7 861.5h7.1v3.7h-7.1zM562.9 864.8h10.4v3.7h-10.4zM600.1 864.8h3.7v3.7h-3.7zM502.1 868.2h3.7v3.7h-3.7zM566.3 868.2h10.4v3.7h-10.4zM600.1 868.2h7.1v3.7h-7.1zM471.7 871.6h7.1v3.7h-7.1zM569.7 871.6h7.1v3.7h-7.1zM603.5 871.6h3.7v3.7h-3.7zM573.1 875h3.7v3.7h-3.7zM603.5 875h7.1v3.7h-7.1zM573.1 878.4h3.7v3.7h-3.7zM606.9 878.4h3.7v3.7h-3.7zM573.1 881.7h3.7v3.7h-3.7zM610.3 881.7h3.7v3.7h-3.7zM532.5 885.1h7.1v3.7h-7.1zM573.1 885.1h3.7v3.7h-3.7zM610.3 885.1h3.7v3.7h-3.7zM532.5 888.5h3.7v3.7h-3.7zM573.1 888.5h3.7v3.7h-3.7zM573.1 891.9h3.7v3.7h-3.7zM559.6 895.3h7.1v3.7h-7.1zM569.7 895.3h3.7v3.7h-3.7zM613.6 895.3h3.7v3.7h-3.7zM535.9 898.6h3.7v3.7h-3.7zM562.9 898.6h3.7v3.7h-3.7zM569.7 898.6h3.7v3.7h-3.7zM613.6 898.6h3.7v3.7h-3.7zM644.1 898.6h3.7v3.7h-3.7zM535.9 902h7.1v3.7h-7.1zM566.3 902h3.7v3.7h-3.7zM613.6 902h3.7v3.7h-3.7zM539.3 905.4h3.7v3.7h-3.7zM613.6 905.4h7.1v3.7h-7.1zM627.2 905.4h3.7v3.7h-3.7zM562.9 908.8h3.7v3.7h-3.7zM617 908.8h7.1v3.7h-7.1zM627.2 908.8h10.4v3.7h-10.4zM559.6 912.2h3.7v3.7h-3.7zM620.4 912.2h13.8v3.7h-13.8zM644.1 912.2h3.7v3.7h-3.7zM559.6 915.5h3.7v3.7h-3.7zM623.8 915.5h3.7v3.7h-3.7zM630.5 915.5h3.7v3.7h-3.7zM559.6 918.9h3.7v3.7h-3.7zM620.4 918.9h3.7v3.7h-3.7zM573.1 922.3h7.1v3.7h-7.1zM620.4 922.3h3.7v3.7h-3.7zM562.9 925.7h10.4v3.7h-10.4zM579.8 925.7h3.7v3.7h-3.7zM617 925.7h7.1v3.7h-7.1zM556.2 929.1h7.1v3.7h-7.1zM576.5 929.1h13.8v3.7h-13.8zM610.3 929.1h10.4v3.7h-10.4zM562.9 932.4h3.7v3.7h-3.7zM583.2 932.4h10.4v3.7h-10.4zM596.7 932.4h20.6v3.7h-20.6zM583.2 935.8h34.1v3.7h-34.1zM583.2 939.2h24v3.7h-24zM583.2 942.6h20.6v3.7h-20.6zM583.2 946h20.6v3.7h-20.6zM299.3 949.3h7.1v3.7h-7.1zM583.2 949.3h10.4v3.7h-10.4zM299.3 952.7h7.1v3.7h-7.1zM579.8 952.7h10.4v3.7h-10.4zM299.3 956.1h7.1v3.7h-7.1zM299.3 959.5h7.1v3.7h-7.1zM299.3 962.9h10.4v3.7h-10.4zM299.3 966.2h10.4v3.7h-10.4zM299.3 969.6h3.7v3.7h-3.7zM306.1 969.6h3.7v3.7h-3.7zM454.8 969.6h7.1v3.7h-7.1zM299.3 973h3.7v3.7h-3.7zM306.1 973h3.7v3.7h-3.7zM454.8 973h3.7v3.7h-3.7zM454.8 976.4h7.1v3.7h-7.1zM458.2 979.8h3.7v3.7h-3.7zM329.7 983.1h7.1v3.7h-7.1zM586.6 983.1h7.1v3.7h-7.1zM329.7 986.5h7.1v3.7h-7.1zM329.7 989.9h7.1v3.7h-7.1zM596.7 989.9h3.7v3.7h-3.7zM329.7 993.3h7.1v3.7h-7.1zM566.3 1050.7h3.7v3.7h-3.7z"/>
<path fill="#FF6020" d="M593.4 401.8h7.1v3.7h-7.1zM586.6 405.2h17.2v3.7h-17.2zM586.6 408.5h20.6v3.7h-20.6zM586.6 411.9h20.6v3.7h-20.6zM586.6 415.3h24v3.7h-24zM586.6 418.7h27.3v3.7h-27.3zM586.6 422.1h30.7v3.7h-30.7zM586.6 425.4h34.1v3.7h-34.1zM590 428.8h30.7v3.7h-30.7zM590 432.2h30.7v3.7h-30.7zM590 435.6h30.7v3.7h-30.7zM590 439h30.7v3.7h-30.7zM590 442.3h30.7v3.7h-30.7zM590 445.7h30.7v3.7h-30.7zM590 449.1h30.7v3.7h-30.7zM590 452.5h30.7v3.7h-30.7zM586.6 455.9h34.1v3.7h-34.1zM586.6 459.2h34.1v3.7h-34.1zM583.2 462.6h37.5v3.7h-37.5zM579.8 466h17.2v3.7h-17.2zM573.1 469.4h20.6v3.7h-20.6zM562.9 472.8h27.3v3.7h-27.3zM559.6 476.1h30.7v3.7h-30.7zM559.6 479.5h27.3v3.7h-27.3zM559.6 482.9h10.4v3.7h-10.4zM562.9 486.3h7.1v3.7h-7.1zM566.3 489.7h13.8v3.7h-13.8zM370.3 493h3.7v3.7h-3.7zM566.3 493h13.8v3.7h-13.8zM370.3 496.4h13.8v3.7h-13.8zM562.9 496.4h13.8v3.7h-13.8zM181 499.8h13.8v3.7h-13.8zM339.9 499.8h44.2v3.7h-44.2zM562.9 499.8h13.8v3.7h-13.8zM174.2 503.2h20.6v3.7h-20.6zM339.9 503.2h44.2v3.7h-44.2zM562.9 503.2h13.8v3.7h-13.8zM174.2 506.6h20.6v3.7h-20.6zM339.9 506.6h44.2v3.7h-44.2zM566.3 506.6h10.4v3.7h-10.4zM174.2 509.9h20.6v3.7h-20.6zM214.8 509.9h3.7v3.7h-3.7zM231.7 509.9h3.7v3.7h-3.7zM339.9 509.9h44.2v3.7h-44.2zM569.7 509.9h7.1v3.7h-7.1zM167.5 513.3h30.7v3.7h-30.7zM208 513.3h27.3v3.7h-27.3zM339.9 513.3h44.2v3.7h-44.2zM164.1 516.7h34.1v3.7h-34.1zM208 516.7h27.3v3.7h-27.3zM346.6 516.7h30.7v3.7h-30.7zM160.7 520.1h40.9v3.7h-40.9zM208 520.1h30.7v3.7h-30.7zM353.4 520.1h20.6v3.7h-20.6zM154 523.5h51v3.7h-51zM208 523.5h27.3v3.7h-27.3zM617 523.5h13.8v3.7h-13.8zM150.6 526.8h13.8v3.7h-13.8zM167.5 526.8h37.5v3.7h-37.5zM208 526.8h20.6v3.7h-20.6zM617 526.8h13.8v3.7h-13.8zM150.6 530.2h7.1v3.7h-7.1zM167.5 530.2h57.8v3.7h-57.8zM617 530.2h17.2v3.7h-17.2zM113.4 533.6h7.1v3.7h-7.1zM150.6 533.6h7.1v3.7h-7.1zM167.5 533.6h54.4v3.7h-54.4zM620.4 533.6h13.8v3.7h-13.8zM113.4 537h7.1v3.7h-7.1zM150.6 537h64.5v3.7h-64.5zM623.8 537h10.4v3.7h-10.4zM150.6 540.4h61.1v3.7h-61.1zM623.8 540.4h10.4v3.7h-10.4zM157.3 543.7h30.7v3.7h-30.7zM194.5 543.7h13.8v3.7h-13.8zM623.8 543.7h10.4v3.7h-10.4zM170.9 547.1h17.2v3.7h-17.2zM569.7 547.1h10.4v3.7h-10.4zM623.8 547.1h10.4v3.7h-10.4zM569.7 550.5h10.4v3.7h-10.4zM623.8 550.5h10.4v3.7h-10.4zM569.7 553.9h10.4v3.7h-10.4zM623.8 553.9h10.4v3.7h-10.4zM623.8 557.3h10.4v3.7h-10.4zM623.8 560.6h10.4v3.7h-10.4zM792.8 719.5h17.2v3.7h-17.2zM789.4 722.9h20.6v3.7h-20.6zM786 726.3h27.3v3.7h-27.3zM782.6 729.6h27.3v3.7h-27.3zM779.3 733h34.1v3.7h-34.1zM769.1 736.4h44.2v3.7h-44.2zM769.1 739.8h47.6v3.7h-47.6zM769.1 743.2h47.6v3.7h-47.6zM769.1 746.5h47.6v3.7h-47.6zM772.5 749.9h44.2v3.7h-44.2zM772.5 753.3h47.6v3.7h-47.6zM772.5 756.7h61.1v3.7h-61.1zM775.9 760.1h57.8v3.7h-57.8zM775.9 763.4h57.8v3.7h-57.8zM688 766.8h10.4v3.7h-10.4zM779.3 766.8h54.4v3.7h-54.4zM688 770.2h10.4v3.7h-10.4zM779.3 770.2h54.4v3.7h-54.4zM688 773.6h10.4v3.7h-10.4zM792.8 773.6h40.9v3.7h-40.9zM792.8 777h37.5v3.7h-37.5zM792.8 780.3h37.5v3.7h-37.5zM792.8 783.7h37.5v3.7h-37.5zM796.2 787.1h37.5v3.7h-37.5zM796.2 790.5h37.5v3.7h-37.5zM799.5 793.9h37.5v3.7h-37.5zM802.9 797.2h17.2v3.7h-17.2zM823.2 797.2h10.4v3.7h-10.4zM813.1 800.6h3.7v3.7h-3.7zM823.2 800.6h10.4v3.7h-10.4zM444.6 804h3.7v3.7h-3.7zM448 807.4h7.1v3.7h-7.1zM448 810.8h10.4v3.7h-10.4zM451.4 814.1h17.2v3.7h-17.2zM451.4 817.5h24v3.7h-24zM454.8 820.9h24v3.7h-24zM458.2 824.3h24v3.7h-24zM464.9 827.7h20.6v3.7h-20.6zM468.3 831h20.6v3.7h-20.6zM576.5 831h3.7v3.7h-3.7zM471.7 834.4h17.2v3.7h-17.2zM569.7 834.4h13.8v3.7h-13.8zM475.1 837.8h13.8v3.7h-13.8zM562.9 837.8h24v3.7h-24zM478.4 841.2h10.4v3.7h-10.4zM562.9 841.2h27.3v3.7h-27.3zM478.4 844.6h10.4v3.7h-10.4zM559.6 844.6h34.1v3.7h-34.1zM478.4 847.9h10.4v3.7h-10.4zM559.6 847.9h34.1v3.7h-34.1zM478.4 851.3h10.4v3.7h-10.4zM559.6 851.3h34.1v3.7h-34.1zM481.8 854.7h7.1v3.7h-7.1zM559.6 854.7h37.5v3.7h-37.5zM485.2 858.1h3.7v3.7h-3.7zM562.9 858.1h34.1v3.7h-34.1zM566.3 861.5h30.7v3.7h-30.7zM573.1 864.8h27.3v3.7h-27.3zM576.5 868.2h24v3.7h-24zM576.5 871.6h27.3v3.7h-27.3zM576.5 875h27.3v3.7h-27.3zM576.5 878.4h30.7v3.7h-30.7zM576.5 881.7h34.1v3.7h-34.1zM576.5 885.1h34.1v3.7h-34.1zM576.5 888.5h37.5v3.7h-37.5zM576.5 891.9h37.5v3.7h-37.5zM573.1 895.3h40.9v3.7h-40.9zM573.1 898.6h40.9v3.7h-40.9zM569.7 902h44.2v3.7h-44.2zM566.3 905.4h47.6v3.7h-47.6zM566.3 908.8h51v3.7h-51zM562.9 912.2h57.8v3.7h-57.8zM562.9 915.5h61.1v3.7h-61.1zM562.9 918.9h57.8v3.7h-57.8zM562.9 922.3h10.4v3.7h-10.4zM579.8 922.3h40.9v3.7h-40.9zM583.2 925.7h34.1v3.7h-34.1zM590 929.1h20.6v3.7h-20.6zM593.4 932.4h3.7v3.7h-3.7zM302.7 969.6h3.7v3.7h-3.7zM302.7 973h3.7v3.7h-3.7zM525.8 976.4h10.4v3.7h-10.4zM519 979.8h20.6v3.7h-20.6zM522.4 983.1h17.2v3.7h-17.2zM522.4 986.5h13.8v3.7h-13.8zM525.8 989.9h7.1v3.7h-7.1zM525.8 993.3h3.7v3.7h-3.7z"/>
<path fill="#FFA2CC" d="M552.8 435.6h10.4v3.7h-10.4zM552.8 439h10.4v3.7h-10.4zM552.8 442.3h10.4v3.7h-10.4zM522.4 445.7h13.8v3.7h-13.8zM552.8 445.7h10.4v3.7h-10.4zM529.1 449.1h7.1v3.7h-7.1zM529.1 452.5h7.1v3.7h-7.1zM529.1 455.9h7.1v3.7h-7.1zM529.1 459.2h7.1v3.7h-7.1zM39 604.6h17.2v3.7h-17.2zM39 608h20.6v3.7h-20.6zM39 611.3h40.9v3.7h-40.9zM39 614.7h44.2v3.7h-44.2zM39 618.1h47.6v3.7h-47.6zM42.4 621.5h47.6v3.7h-47.6zM42.4 624.9h57.8v3.7h-57.8zM52.6 628.2h47.6v3.7h-47.6zM49.2 631.6h51v3.7h-51zM49.2 635h44.2v3.7h-44.2zM52.6 638.4h40.9v3.7h-40.9zM52.6 641.8h40.9v3.7h-40.9zM52.6 645.1h40.9v3.7h-40.9zM52.6 648.5h44.2v3.7h-44.2zM55.9 651.9h40.9v3.7h-40.9zM55.9 655.3h37.5v3.7h-37.5zM55.9 658.7h37.5v3.7h-37.5zM52.6 662h40.9v3.7h-40.9zM49.2 665.4h20.6v3.7h-20.6zM72.8 665.4h17.2v3.7h-17.2zM49.2 668.8h17.2v3.7h-17.2zM83 668.8h3.7v3.7h-3.7zM49.2 672.2h7.1v3.7h-7.1zM809.7 729.6h17.2v3.7h-17.2zM813.1 733h13.8v3.7h-13.8zM813.1 736.4h13.8v3.7h-13.8zM816.4 739.8h10.4v3.7h-10.4zM816.4 743.2h10.4v3.7h-10.4zM816.4 746.5h10.4v3.7h-10.4zM816.4 749.9h10.4v3.7h-10.4zM819.8 753.3h13.8v3.7h-13.8zM833.3 763.4h3.7v3.7h-3.7zM833.3 766.8h3.7v3.7h-3.7zM833.3 770.2h3.7v3.7h-3.7zM833.3 773.6h3.7v3.7h-3.7zM830 777h17.2v3.7h-17.2zM830 780.3h17.2v3.7h-17.2zM830 783.7h13.8v3.7h-13.8zM833.3 787.1h10.4v3.7h-10.4zM833.3 790.5h7.1v3.7h-7.1z"/>
</g>
<path d="M408 981.5 L462 991.5 L478 1008.5 L485 1027 L526 1068 L565 1090 L572 1100" fill="none" stroke="#FFA2CC" stroke-width="3"/><path d="M232 1057 L250 1059.5" fill="none" stroke="#FFA2CC" stroke-width="3"/>
<path fill="#0055E0" d="M302.7 188.4 L311 182 L318.7 171.6 L325 161 L331.6 153.6 L335.5 145.8 L334.7 140 L340.7 142 L349.7 136 L354.9 135 L355.4 142 L357.5 145.3 L362.6 138 L366.5 131.6 L375.5 129.3 L384.6 131.6 L383.3 133 L375.5 132.4 L370.4 134.2 L366.5 139.4 L363.9 143.2 L357.5 146.5 L353.6 143 L347 145.5 L343.3 151 L334.2 156 L327.8 162.6 L321.3 173 L313.6 183.3 L304.5 189.6ZM515.7 491 L521.7 488 L529.6 488 L535.6 493 L534.6 501 L529.6 507 L527.7 512 L524.7 508 L517.7 504 L514.7 499ZM479.8 746.6 L488.8 745 L489.4 760 L490.9 775 L493.8 786.8 L499.8 798.7 L505.7 806 L505.7 816.6 L501.3 821 L497.7 813.6 L493.8 804.7 L486.4 798.7 L477.4 795.8 L484.9 794.3 L478.9 783.8 L476 772 L477.4 757ZM507.2 740.6 L515.6 739 L514.7 745 L511.7 748ZM540 684 L545 679 L551 681.5 L548.6 690 L542.6 695.8 L539 700.6 L534.3 709 L530 709.7 L532 701.8 L536.7 695.8 L541.4 691ZM582 617 L588 616 L585.5 622 L582.4 622.4ZM573.6 630 L579.6 629 L578.4 636 L574.3 637.5ZM561.7 648 L570 643.4 L577 643.4 L576 649 L569 651.8 L563 652.5ZM561.7 661 L564.8 661 L564 667 L562 666.8ZM520 579 L526 579 L522 587 L520 588ZM336.7 929 L339 919 L346.7 907 L359 897 L374 893 L389 885.8 L401 890.7 L411 897 L418.7 902 L428.6 905.6 L441 905.6 L441 912 L428.6 915.6 L421 921.8 L416 931.7 L416 939 L413.7 949 L406 955 L403.8 961.5 L394 966.5 L401 971.4 L408.7 974 L403.8 979 L394 984 L381.4 985 L376.5 993.8 L379 998.7 L372.7 1003.7 L371.5 996 L375 988.8 L369 985 L354 984 L346.7 993.8 L339 995 L336.7 984 L334.3 974 L336.7 959 L339 944ZM358 845 L369 841 L381.4 837.4 L379 843.6 L389 845 L396.3 842.3 L395 847.3 L389 849.8 L391.4 857 L384 858.5 L376.5 853.5 L369 854.8 L364 848.5ZM407.5 844.3 L421 844.8 L420 847.3 L412.5 847.8ZM293.4 859 L300 849.2 L313 836 L321.8 827.4 L326 824 L329 817 L330.5 816 L328.5 824.5 L327.2 831.8 L324 842.7 L313 851.4 L304.3 862.4 L297.7 867.8ZM257.3 919.3 L263.5 905.6 L272 904.4 L276 909.4 L272 915.6 L264.8 921.8 L258.5 924.3ZM281 899.4 L289.6 899 L288.3 903 L282 904.4ZM242.4 971.4 L247.4 955.3 L253.6 955.3 L256 964 L253.6 974 L245 979 L241 977.7ZM284.6 961.5 L295.8 962.7 L295 965.2 L285.9 964.5ZM287 972.7 L294.5 971.4 L293.3 977.6 L288.3 976.4ZM251.5 1012.6 L251 1034.5 L249 1050 L249 1065.8 L255.5 1083.9 L251.6 1102 L260.7 1120 L269.7 1135.5 L282.6 1145.9 L287.8 1161.4 L295.5 1174.3 L294.2 1187.2 L303.3 1189.8 L313.6 1197.5 L320 1194.9 L318.8 1188.5 L317.5 1184.6 L308.4 1169 L299.4 1148.4 L298.1 1135.5 L285.2 1117.5 L269.7 1112.3 L277.5 1099.4 L273.6 1083.9 L273.6 1071 L268.4 1063.2 L267.1 1050.3 L259.4 1040 L258 1027.8 L255 1012.6ZM224.5 1210 L243 1186.5 L251.5 1189.8 L249.8 1200 L239.7 1210 L236 1220 L224.5 1220ZM261.6 1201.6 L268.4 1186.5 L280 1186.5 L275 1200 L266.7 1203ZM339.4 1157.5 L345.9 1154.9 L354.9 1161.4 L365.2 1169 L365.2 1173 L354.9 1169 L344.6 1169ZM365.2 1176.8 L370.4 1174.3 L376.9 1182 L371.7 1185.9 L366.5 1182ZM411 1225 L414.4 1220 L422.8 1227 L429.6 1237 L433 1257 L438 1277.6 L444.8 1287.7 L446.5 1298 L421 1298 L422.8 1284 L419.5 1257 L414.4 1240.5ZM438 1024.4 L456.6 1012.6 L460 1019 L443 1029.5ZM473.5 1016 L478.5 1016 L477.5 1032.8 L474.5 1027.8ZM419.5 1038 L428 1035.5 L424.5 1041ZM170.5 1176 L182 1163 L180.6 1171 L174 1178ZM157 1176 L165.4 1173 L167 1183 L160 1185ZM152 1191.5 L163.7 1186.5 L162 1193 L153.6 1196.6ZM141.8 1201.6 L148.5 1196.6 L147 1210 L144 1208ZM126.6 1252 L135 1255.6 L143.5 1265.8 L135 1267.5ZM177 1265.8 L187 1262 L182 1272.5ZM669.4 511.4 L671.8 510.6 L673.4 517 L672.6 521 L671 519.3 L670.2 514.5ZM671 524.9 L675.7 522.5 L679.7 526 L675.7 529.6 L672.6 528.8ZM626 429 L629 428 L634 434 L632 436ZM644 455.7 L647 451 L649.5 452.6 L646.4 459ZM357 388 L360 388 L358 402 L356 402ZM477 400 L479 400 L479 417 L477 417ZM425.2 508.5 L426.5 505.6 L429.5 505 L432 507 L432.3 510.5 L436 515 L440.6 521.6 L439.4 522.8 L434 517.5 L430 513 L427 512ZM482 877 L486 876 L487 888 L484 890ZM523 1207 L527 1205 L526 1210ZM584 1144 L588 1143 L586 1148ZM525 1019 L531 1018 L530 1024 L526 1025ZM479 959 L482 958 L483 968 L480 969ZM472 975 L476 974 L475 988 L472 986Z"/>
<path fill="none" stroke="#1f1f1f" stroke-width="2.85" stroke-linejoin="round" stroke-linecap="round" d="M78 374 L74 373.1 L70 372.6 L65.9 372.9 L62 372 L58 372.3 L54 372.7 L50 373 L46.5 376 L43 379 L42 383.7 L44 388 L41.2 392.6 L38 397 L34 403.6 L31.2 407.2 L28.2 410.7 L25 414 L25.5 418.1 L27.7 421.6 L28.7 425.6 L24.8 429 L20.5 431.9 L17 435.7 L15.5 439.7 L15 444 L18.1 448 L20 452.6 L15.7 456 L13.5 461 L9.5 463.7M9.5 477 L14 475.7 L18.6 474.5 L21.3 477.7 L25 479.6 L24.6 484.1 L26.9 488 L27.9 492.2 L28.7 496.5 L29.3 500.9 L31.2 505 L32 509.3 L33.8 513.4 L36.6 516.5 L40.4 518.1 L44 520 L42.6 524.6 L44.3 529.6 L42 534M9.5 537 L13.5 536.5 L17.3 535 L21.2 534 L25 532.6 L29.3 533 L33.4 534.3 L37.9 533 L42 534.6M42 534.6 L44.8 538.3 L49 540.8 L51 545.2 L54 548.8 L55.4 553.7 L59.9 556.7 L61.1 561.7 L64 565.7 L65.3 569.8 L64.7 574.4 L66.9 578.3 L67.5 582.6 L65.6 587.3 L62 591 L60.8 596 L61.5 601.7 L64 606.9 L68.1 607.2 L72.3 606.6 L76.4 607.4 L80.3 609.4 L84.4 609.6M84.4 609.6 L82.7 616 L85.7 619.9 L89.5 623 L93.1 625 L97.1 625.5 L101.2 625.9 L104.7 628 L107.3 631.4 L110.4 634.2 L113.7 636.9 L116.5 640 L117.3 644 L118 648 L121.5 650.3 L124.7 653 L128.1 655.3 L132 657.1 L135 660M157 677 L157.7 681.4 L158.8 685.6 L160.7 689.6 L162 693.8 L166.5 695.7 L169.7 699.5 L173.8 701.9 L178.1 704.2 L182 707 L183.4 711.7 L184.9 716.4 L185.8 721.2 L187.4 725.8 L190.7 729M9.5 759.6 L14.2 760.9 L18.9 762 L23.6 763 L26.8 760.1 L28.7 756.2 L30.5 752.3 L33.8 749.5 L36.5 746 L39.6 742.7 L42 739 L45.5 741.8 L49.1 744.2 L54 744.2 L57.4 747 L61.4 744.6 L65.7 742.9 L70.1 741.6 L74 739 L77.7 737.1 L81.3 735 L85.2 733.5 L88.7 731 L92.8 730 L98.1 732.6 L103 736 L107.3 735 L111.5 733.4 L115.5 731.3 L120 731 L121.2 726.9 L125.1 724.7 L126.6 720.8 L130.1 722.9 L134.2 723.2 L138 724.4 L141.8 725.8 L145.7 727.4 L149.7 728.5 L153.7 729.8 L157.7 731.1 L162 731 L166.5 730.8 L171 728.9 L175.6 730 L180 728.3 L184 725.8 L190.7 729M190.7 729 L193.8 732.3 L197.1 735.5 L199.6 739.3 L202.6 742.7 L206.2 744.9 L209.2 747.8 L211.6 751.6 L216 752.8 L220.9 754.7 L226 756 L230.3 754.3 L233.7 751.2 L238 749.5 L243.2 750.6 L247.8 753.4 L253 754.5 L255.4 750.7 L258.2 747.3 L261.6 744.4 L265.7 745.5 L270 746 L272.8 749.6 L274.6 753.7 L278 756.9 L280 761 L283 764.2 L287.8 765.3 L290.6 768.8 L294.2 771.3 L297 774.8 L301.2 777.5 L305.5 780M305.5 780 L308.9 777.4 L313.4 777.1 L317 774.8 L321.4 775.5 L325.6 777.1 L330 778 L334.7 774.9 L340 773 L342.3 777 L347.1 778.2 L350 781.5M380.6 771 L385.3 770.6 L389.7 772.7 L394.4 772.1 L399 773 L402.2 770.1 L404.7 766.5 L409.3 765.1 L410.8 760.5 L414.4 758 L417.4 755.3 L420 752.2 L424.2 750.7 L426 746.8M305.5 780 L309 781.5 L308.9 785.7 L307.5 789.6 L307.5 793.8 L305.6 797.6 L305.5 801.8 L304.7 806 L305.4 810.2 L305.8 814.5 L305.5 818.7 L309.3 820.9 L313.2 822.7 L317.1 824.5 L320.7 827 L325.8 832 L323.1 835.6 L319.8 838.8 L316.5 841.9 L314 845.7 L310.4 848.1 L307.5 851.5 L304.6 854.7 L300.8 856.9 L297 859 L292.2 861.9 L287 864 L283.7 866.9 L281.5 870.8 L278.5 874 L278.6 878.7 L275.7 882.6 L274.8 887 L274.4 891.6 L273.5 896 L273.4 900.3 L271.8 904.3 L270.3 908.3 L269.3 912.4 L268.4 916.6M266 943.6 L270 948.7M270 948.7 L275.2 948 L280 946 L283.1 941.6 L287.7 938.9 L292 936M414.4 759.6 L416.1 764.1 L417.2 768.8 L419.5 773 L424.2 774.7 L428 778 L427.3 782.4 L429 786.5 L429.6 790.7 L429.6 795 L432.2 798.7 L435.3 801.9 L438.9 804.8 L441.4 808.5M446.5 835.5 L445.1 839.9 L443.2 844.1 L443.3 849 L440 852.8 L439.7 857.5M421 879.4 L418.5 883.6 L415.5 887.4 L414.3 892.3 L411 896M411 933.5 L417.8 935 L422.8 940M532.6 1002.5 L535.4 1007.4 L537.6 1012.6 L534 1019M498.8 420.5 L499 424.6 L496.8 428.5 L498.3 432.7 L497.5 436.8 L497 440.8 L495.2 445.2 L493.5 449.5 L492 454 L490.1 457.9 L489.3 462.2 L487.3 466.1 L487.3 470.7 L485 474.5 L480 475.6 L475 476.9 L470 478 L468 481.6 L465.2 484.6 L463.3 488.3 L460 491 L458 495.5 L455 499.5 L452.9 504 L450 508 L449.8 512.4 L449.2 516.7 L446.9 520.6 L446.5 525 L444.3 528.5 L443.2 532.5 L441.5 536.3 L439.7 540 L434.5 538.9 L431 535 L428.5 538.2 L426.3 541.5 L424.5 545.2 L422.8 548.8 L421.6 552.8 L422.7 557.1 L420.7 560.9 L421.1 565.1 L419.5 569 L415.8 571.6 L414.4 576.2 L411 579 L412.6 584 L414.4 589 L414.9 593 L416 596.9 L416.6 600.9 L416.3 605.1 L416.6 609.1 L417.8 613 L414.2 615 L410.7 616.9 L407.6 619.7 L402.5 618.1 L397.5 616 L393.7 617.8 L389.8 619 L385.7 619.7 L384.5 623.6 L383.2 627.4 L380.5 630.7 L380.6 635 L384 638.1 L387 641.6 L391.5 643.6 L396 645.1 L401 645 L404.4 647.9 L407.7 651 L411.5 653.5 L414.4 657 L417.4 660 L421.1 662.2 L423.8 665.5 L427.8 667.2 L431 670 L435.6 672.1 L438.5 676.4 L442.4 679.2 L446.5 682 L446.6 687 L447.1 692 L446.5 697 L447.9 700.8 L449.6 704.5 L451 708.3 L454 711.3 L453.7 715.9 L456.6 719 L460.8 720.1 L465 720.8 L469.1 722.6 L473.5 722.5 L473.1 727.2 L476.3 731.6 L474.4 736.4 L475 741 L478.3 744.2 L480 748.5M551 778 L556.1 778.2 L560.9 780 L566 780M600 785.6 L602.1 781.4 L605.6 778 L607.5 773.7 L610 769.7M640.6 758 L644.8 761 L648 765.2 L652.4 768 L656.8 767.8 L661.2 767 L665.7 768.5 L670 767 L673.8 765.4 L677.9 764.7 L682 764M664 787.8 L661.1 791.5 L658.3 795.3 L654.9 798.6 L652.6 802.8 L649 806M682 764 L686.5 761.8 L691.4 761.7 L696.3 761 L701 760 L705.2 759.3 L708.8 756.5 L713 755.7 L716.5 749 L720.3 746.1 L724.1 743.2 L728 740.5 L732.4 739 L736.7 737.4 L741.3 736.7 L745.6 735.3 L750 733.8M749.7 599 L745.1 597 L741.9 593.3 L738.3 590 L734.5 587 L731 583 L726.6 580 L724.7 575.7 L724.2 571 L719.4 569.3 L717.9 566 L714.7 563 L711.5 559.8 L709.4 556 L707.5 552 L704.3 545.5 L707.4 541.3 L710.3 536.9 L713.9 533 L716.5 528.8 L718.9 524.6 L721.4 520.3 L723.7 516M694.8 481.2 L693.2 485 L690.6 488.1 L687.4 490.8 L686 494.7 L682.5 498.6 L678.6 502.2 L675.7 506.6 L674.5 512.5 L674.2 518.5 L674.9 523.3 L674.4 528.2 L675 533 L681.3 534.4 L686.8 533 L692.4 532 L697.5 530.2 L702.8 528.8 L708.3 529.6 L710 532.8 L713.9 533M498.8 420.5 L504.4 419.5 L510 419 L514.9 417.1 L520 416 L524.5 418.4 L528.5 421.3 L532 425M544 401 L547.6 404.4 L551 408 L554.9 410.3 L558.8 412.7 L562 416 L565.8 414.4 L570.1 415.1 L574.1 414.2 L578 413 L583.3 410.8 L589 410 L593.1 413.2 L598 415 L602.5 414.2 L607.1 414.8 L611.4 412.7 L616 413 L619.4 415.6 L623 418 L627.7 418.5 L631.5 421.4 L635.5 423.8 L640 424.8 L644 427.1 L648 429.5 L651.1 433.4 L652.7 438.3 L655.9 442.2 L659.8 445.5 L664.2 447.8 L668.6 450.2 L670.5 453.9 L673.9 456.5 L676.5 459.7 L680 464.3 L682.9 469.3 L689.3 472.4 L691.9 476.9 L694.8 481.2 L698.8 480.4 L701.8 483.3 L705.1 486 L710 482.8 L711.5 478.8 L717.9 475.6 L721 474.8M566 297 L565.6 302.1 L563.7 306.5 L560 310 L555 311.8 L550.1 313.6 L545 315 L540.5 317.2 L535.8 318.7 L531 320 L529.3 323.7 L527 327 L522.7 328 L518.3 327.7 L514 327 L514.4 331.4 L514.7 335.8 L513 340 L513 345.2 L511 350 L512.4 354.9 L512 360 L510 363.7 L508.7 367.6 L506.5 371.1 L505 375 L503.1 378.8 L501 382.5 L498.8 386.2 L497 390 L496.4 395 L495.7 400 L495 405 L495.3 410.4 L497.8 415.3 L498.8 420.5M466 127 L469.5 130.3 L472.9 133.6 L475.4 137.9 L480 140 L483.4 143 L488 144.2 L491 147.8 L495 150 L498.1 153.1 L502.2 154.7 L505.5 157.5 L509 160 L509 165 L510.7 169.9 L510 175 L513.4 178 L513.6 182.7 L516.4 186 L518 190 L519.6 194.9 L521.7 199.7 L522 205 L522.4 210.1 L521.5 215.1 L520 220 L521.5 223.9 L521.7 227.9 L521 232 L521.9 236 L522 240 L522.4 244.2 L523.4 248.2 L525.6 251.8 L525.7 256.1 L527 260 L529.2 264.9 L531 270 L535.5 271.2 L540 272 L544.6 273.9 L546.5 278.2 L549 282 L551.5 285.3 L555 287.4 L558 290 L561.2 293 L565 295 L565.8 299.2 L567.7 302.9 L570.3 306.2 L572 310 L573.6 314 L575.6 317.8 L576.6 322.1 L578.7 325.9 L580 330 L579.8 334.3 L581.9 338 L581.8 342.3 L583.1 346.2 L585 350 L586.8 353.7 L589.9 356.9 L589.3 361.7 L592 365 L595.5 369.4 L594.4 375.3 L597 380 L602.1 380.7 L605 385 L607 388 L611.2 389.5 L615 392 L618.4 394.7 L622.2 396.5 L626.8 397 L630 400 L634.2 401.8 L637.7 404.7 L641.5 407.2 L645 410 L648.7 413.2 L653.7 414.2 L656.8 418.4 L661.4 420 L665.1 423.5 L667.5 428.1 L671.8 431 L676.4 433.8 L681.3 435.9 L684.4 439.9 L687.7 443.8 L692.4 448.6 L694 452.8 L694.8 457.3 L701.2 458.9 L706.7 464.5 L713 467.7 L718.6 471.6 L721 474.8 L723.1 478.9 L726.6 482 L727.5 486.3 L729.8 490 L729.8 496.3 L726.6 498.6 L719.4 500.2 L714.7 504.2 L708.3 506.6 L705 511.4 L703.6 515.3 L706.7 512.2 L711.5 512.9 L716.3 511.8 L721.8 512.2 L724.2 516 L730.6 516 L731.4 520.9 L733.7 524.9 L735.8 529.1 L738.5 532.8 L741.3 536.3 L744.8 539.2 L748 542.3 L751.4 545.6 L755.8 547.6 L759.2 551 L767 552.7 L771.2 552.6 L775 551 L781.4 551 L784.9 548.4 L789.1 546.8 L792.5 544 L800 542 L803.7 537.8 L809 536 L815.5 539.6 L820 539.8 L824.6 540 L829 541 L833.7 540.5 L838.1 539.3 L841.4 535.2 L846 534.5 L850.2 532.3 L854.8 530.9 L858.8 528.2 L863 526 L867.7 528.6 L873 528.5 L877.5 527.6 L882.1 527.6 L886.5 526 L890.9 525.8 L894.7 523.2 L898.8 521.9 L903 521 L907.7 521.4 L912.4 521.1 L917 522 L921.3 521 L925.4 519.4 L929.7 518.6 L934 517.6 L938.3 517 L942.2 515.3 L946.2 513.4 L950.6 513.6 L953.9 510.9 L958.2 510.5 L961.6 508.1 L965.8 507.5 L969 504.6 L971 500.8 L977.6 499 L983.1 499.2 L987.7 502.2 L992.8 503.5 L990.1 507.8 L989.9 513.1 L987.7 517.6 L988.3 522.1 L989.1 526.5 L989.4 531 L989.7 535.3 L989.2 539.6 L990.8 543.7 L991 548 L998 551 L993.6 551.6 L989.4 552.4 L985.3 554.2 L981 555 L980.5 559 L980.7 563 L980 567 L979.8 571 L979.3 575 L978.6 579.4 L976.1 583.3 L974.9 587.6 L974 592 L972 596.9 L967.5 600.3 L965.8 605.4 L963.7 609.6 L961.6 613.8 L959.5 618.1 L957.4 622.3 L954.1 625.2 L952.1 629.1 L949.8 632.8 L947.3 636.3 L943.8 639 L942.5 643.4 L940.2 647.4 L938.9 651.8 L937 656 L934.5 660.2 L932.2 664.6 L928.8 668.4 L927 673 L925.4 677.1 L923.7 681.1 L921.6 684.9 L920 688.9 L918.5 693M906.7 716.8 L903.8 720M809 823 L805 825.4 L801 827.7 L796.2 828.8 L792.7 832.1 L789 835 L785.2 838 L780.3 838.9 L775.9 840.7 L772 843.5 L768.8 846.5 L765.2 848.9 L761.6 851.4 L759.1 855.1 L755 857M681 939.7 L678.3 943.1 L675.5 946.4 L671.6 948.8 L669.7 952.8 L667.5 956.6 L664.8 960.6 L660.5 963 L656.9 966.1 L654 970 L650.8 973 L647.2 975.4 L643.6 977.9 L641.1 981.7 L637 983.6 L634.6 987.4 L630 988.3 L627.2 991.5 L623.6 993.7 L623.1 998.9 L622 1004 L621.3 1008.9 L619.6 1013.4 L617 1017.6 L615.7 1022 L613.9 1026.2 L611.7 1030.3 L608.6 1033.8 L606.8 1038 L604.5 1041.4 L601.2 1044.1 L598.7 1047.4 L596.7 1051 L592.7 1055 L588 1058M266 943.6 L270 945 L265.6 946.9 L262 950.3 L257.5 951.9 L253 953.5 L250.6 957.5 L247.9 961.3 L247 966 L244.8 970 L242.8 974.5 L241 979.1 L240.4 984M240.4 984 L244.2 987 L248 990 L253 991.8 L256.6 995.7 L260.8 995 L265 994.7 L269.3 994.8 L273.5 994 L274.9 989.4 L276.7 984.9 L278.5 980.5 L283.5 979.4 L288.6 978.8 L293.7 978.8 L299.5 980.1 L305.5 980.5M292 936 L294.4 939.6 L297 943 L298.9 946.8 L302.2 949.5 L304.1 953.3 L306.6 956.6 L309 960 L307.3 963.9 L307.5 968.2 L306.8 972.3 L307 976.5 L305.5 980.5M240.4 984 L241.9 988.3 L242.5 992.9 L244.8 997 L247.4 1001.5 L249.5 1006.2 L251.5 1011 L253 1013M305.5 980.5 L301.5 983.7 L297.7 987.1 L294 990.6 L296.6 994.4 L297 999 L302 1000.6 L307 1002.5 L305.5 1006.6 L305.5 1011 L303.9 1014.9 L300.4 1017.5 L299 1021.5 L296.7 1024.9 L293.7 1027.8 L291 1030.9 L290.3 1035.3 L287 1038 L283.9 1040.7 L279.7 1041.9 L277 1045.3 L274.2 1048.5 L270 1049.7 L266 1050.5 L262 1049.8 L258 1049.7M258 1050 L259.8 1054 L259.6 1058.3 L261.3 1062.3 L262.2 1066.5 L261.2 1071 L263 1075M293.7 1152.7 L296.3 1156.2 L297.1 1160.5 L299.6 1164 L301.4 1167.9 L301.4 1172.5 L304 1176 L306.8 1179.9 L311 1182.5 L314.7 1185.6 L317 1190 L322.1 1191.3 L327.3 1191.8 L332.6 1191.5 L336.3 1195.8 L340 1200 L344.2 1201.4 L347.8 1204.1 L351.5 1206.9 L355.9 1207.7 L360.4 1208.4 L364.4 1210.4 L368.3 1212.7 L372.9 1213.7 L377.4 1214.7 L380.6 1218.5 L384.8 1220 L389.1 1220.9 L392.8 1224 L397.5 1223.6 L402.6 1222.5 L407.9 1222.3 L412.7 1220M304 1176 L298.8 1178M224.5 1210 L226 1214.6 L228.8 1218.5 L230.6 1222.9 L233 1227M234.6 1257 L232.5 1260.8 L231.8 1265 L230 1268.9 L229.2 1273.1 L227.8 1277.1 L226 1281 L226.6 1285.3 L225.7 1289.5 L225.8 1293.8 L225.5 1298M380.6 1218.5 L384.6 1222.9 L389 1227 L389.9 1231.6 L391.5 1236 L392.5 1240.5 L395.8 1243.8 L396 1249.1 L400.6 1251.5 L402.6 1255.6 L399.5 1258.9 L395.8 1261.6 L391.7 1263.7 L389 1267.5 L389 1272.3 L391 1276.6 L392.5 1281 L391.4 1285.2 L392.1 1289.8 L389.6 1293.7 L389 1298M412.7 1220 L414.4 1220 L417.4 1223.4 L421.3 1226.1 L422.8 1230.9 L425.7 1234.3 L429.6 1237 L429.7 1241.1 L431.1 1245 L432.5 1248.8 L431.2 1253.2 L433 1257 L433.7 1261.2 L434.7 1265.3 L435.8 1269.4 L436.8 1273.5 L438 1277.6 L440.4 1280.9 L441.8 1284.8 L444.8 1287.7 L440.2 1291.1 L434.7 1292.8 L433 1298M434.7 1291 L440.5 1289.6 L446.5 1289.4 L451.1 1288.6 L455.7 1288.5 L460.4 1288.7 L465 1288.4 L469.8 1285.8 L475 1284 L478.8 1285.6 L481.8 1288.5 L485.5 1290.2 L488.7 1292.8 L493.1 1291.8 L497 1295 L501.3 1295.2 L505.6 1294.5 L509.2 1292.1 L513.4 1290.9 L517.4 1289.4 L523.2 1290.2 L529 1291 L534.4 1289.1 L539.3 1286 L541.4 1281.4 L546 1279.3 L550.4 1279.6 L554.5 1281.1 L559 1280.6 L563 1282.7 L567 1280.6 L571.3 1279.2 L575.5 1277.4 L579.8 1276 L583.6 1273.9 L588.1 1273.9 L591.8 1271.4 L596.1 1270.9 L600 1269 L604.1 1266.3 L608.6 1264.1 L612.6 1261.2 L617 1259 L621.8 1257.3 L626.1 1254.5 L630.5 1252M9.5 1225 L14.1 1228.6 L17 1233.7 L18.4 1237.7 L19.9 1241.6 L20.7 1245.7 L21.9 1249.7 L22 1254 L19.7 1257.7 L18.9 1262 L17 1265.8 L17.7 1269.8 L19.9 1273.4 L20 1277.6 L23.3 1274 L27 1271 L31.4 1272.4 L36 1272.1 L40.5 1272.5 L44.8 1272.4 L48.5 1269.8 L52.5 1268.7 L56.8 1268.6 L60.8 1267.5 L64.9 1266.2 L69.2 1266.3 L73.5 1266.2 L77.7 1265.8 L81.4 1267.6 L85.6 1267.7 L89.5 1269 L90.1 1273.6 L89.9 1278.1 L89.5 1282.7 L93.4 1281.7 L97.1 1279.9 L101 1279 L105.2 1279.2 L109.2 1277.9 L113.2 1277.1 L117.4 1277.4 L121.5 1277 L121.6 1281.7 L121.6 1286.4 L123 1291 L127 1291.7 L130.6 1293.7 L134 1295.9 L137.9 1297.1 L141.8 1298M177 1298 L177.2 1293.3 L179 1289 L186 1289 L185.2 1293.6 L187 1298M9.5 1180 L10.3 1185.5 L9.5 1191"/><path fill="none" stroke="#1f1f1f" stroke-width="2.5" stroke-linejoin="round" stroke-linecap="round" d="M84.4 609.6 L96 596 L101 579 L108 564 L116.5 554 L141.8 551.5 L145 559 L155 575.8 L165.4 582 L182 579 L207.6 579 L212.7 586.6 L238 586.6 L248 574 L262.7 573 L265 564 L278.5 555.6 L307 574 L324 574 L340 555.6 L362 530 L358.7 510 L350 500 L372 500 L372 490.7 L390 491.4 L385.7 515 L389 542 L399 545.4 L411 562.3 L412.7 582.6M135 660 L157 677M350 781.5 L380.6 771M426 746.8 L480 748.5M268.4 916.6 L266 943.6M292 936 L340 934.5 L411 933.5M441.4 808.5 L446.5 835.5M439.7 857.5 L421 879.4M411 896 L411 933.5M422.8 940 L532.6 1002.5M534 1019 L588 1056.5M480 748.5 L512 751 L551 778M566 780 L600 785.6M610 769.7 L640.6 758M682 764 L664 787.8M649 806 L649 929.6 L667.5 956.6M750 733.8 L782 735.4 L883 633 L849.3 633 L749.7 599M532 425 L544 401M918.5 693 L906.7 716.8M903.8 720 L890 744 L870 767.5 L850 787.8 L829.6 806 L809 823M755 857 L735 875.6 L714.8 899 L698 919.4 L681 939.7M253 1013 L258 1050M263 1075 L266.7 1102 L280 1129 L293.7 1152.7M298.8 1178 L246.5 1183.8 L224.5 1210M233 1227 L234.6 1257M78 1266 L78 1298"/><path fill="none" stroke="#1f1f1f" stroke-width="2" stroke-linejoin="round" stroke-linecap="round" d="M111 127 L111 163M111 163 L386 163 L399 172 L413 171 L419 155.5 L437 152 L445 134 L455 136 L466 127M111 163 L111 230 L78 230 L78 374M9 210.5 L78 246.6"/><path fill="none" stroke="#1f1f1f" stroke-width="3.1" stroke-linejoin="round" stroke-linecap="round" d="M588 1058 L587.8 1062.6 L586.7 1066.9 L583.9 1070.7 L583 1075 L581.1 1079.6 L579.7 1084.5 L576.5 1088.5 L575 1092.5 L574.9 1096.7 L576.1 1101 L574.8 1105 L577.2 1108.4 L579.7 1111.7 L581.5 1115.5 L584.3 1118.5 L587.8 1120.7 L590.8 1123.4 L593.3 1126.7 L596.7 1129 L597.4 1134 L598.4 1139 L596.5 1142.6 L594.6 1146.2 L591.6 1149 L590.9 1153.1 L591.3 1157.2 L591.6 1161.4 L590.8 1165.5 L591.6 1169.6 L590.1 1173.9 L591.1 1178.6 L590 1183 L591.2 1187.5 L594 1191.2 L594.5 1196 L596.7 1200 L598.2 1204.1 L598.8 1208.5 L600.1 1212.7 L601.8 1216.8 L603.5 1220.9 L604.5 1225.2 L605.5 1229.5 L606.8 1233.7 L610 1237.2 L613.5 1240.5 L617 1243.8 L621.9 1245.4 L626.5 1247.3 L630.5 1250.6 L632.5 1255.2 L634.1 1259.9 L637 1264 L636.3 1268.2 L635.2 1272.4 L635.9 1276.7 L635.5 1281 L634 1285.2 L633.9 1289.8 L631.1 1293.5 L630.5 1298"/><path fill="#fff" stroke="#1f1f1f" stroke-width="3" stroke-linejoin="round" d="M587.5 1097 L590 1093.5 L593.5 1095 L596 1102 L599.5 1108 L600 1115 L597 1118 L592.5 1115 L589 1108Z"/><path fill="#3a3a3a" stroke="#1f1f1f" stroke-width="3.4" stroke-linejoin="round" d="M602 1066 L606 1064.5 L610 1065.5 L610.5 1072 L609.5 1080 L606 1084.5 L602 1083 L601 1076Z"/>
<ellipse cx="619.5" cy="366.0" rx="5.5" ry="10.5" transform="rotate(-12 619.5 366.0)" fill="#1f1f1f"/>
<ellipse cx="623.0" cy="375.5" rx="7.5" ry="4.2" transform="rotate(28 623.0 375.5)" fill="#1f1f1f"/>
<ellipse cx="616.0" cy="372.0" rx="3.5" ry="5.0" transform="rotate(10 616.0 372.0)" fill="#1f1f1f"/>
<ellipse cx="622.0" cy="359.0" rx="2.2" ry="4.5" transform="rotate(20 622.0 359.0)" fill="#1f1f1f"/>
<ellipse cx="637.3" cy="383.0" rx="1.5" ry="0.9" transform="rotate(9 637.3 383.0)" fill="#1f1f1f"/>
<ellipse cx="631.5" cy="372.0" rx="0.9" ry="0.7" transform="rotate(179 631.5 372.0)" fill="#1f1f1f"/>
<ellipse cx="634.9" cy="380.5" rx="1.4" ry="1.5" transform="rotate(161 634.9 380.5)" fill="#1f1f1f"/>
<ellipse cx="640.2" cy="380.8" rx="1.4" ry="1.2" transform="rotate(10 640.2 380.8)" fill="#1f1f1f"/>
<ellipse cx="636.4" cy="375.1" rx="1.9" ry="0.8" transform="rotate(122 636.4 375.1)" fill="#1f1f1f"/>
<ellipse cx="637.8" cy="384.7" rx="1.9" ry="1.4" transform="rotate(3 637.8 384.7)" fill="#1f1f1f"/>
<ellipse cx="638.1" cy="378.6" rx="1.5" ry="1.0" transform="rotate(36 638.1 378.6)" fill="#1f1f1f"/>
<ellipse cx="629.6" cy="372.3" rx="1.2" ry="0.8" transform="rotate(125 629.6 372.3)" fill="#1f1f1f"/>
<ellipse cx="634.9" cy="370.2" rx="1.2" ry="1.0" transform="rotate(143 634.9 370.2)" fill="#1f1f1f"/>
<ellipse cx="634.7" cy="375.5" rx="1.2" ry="0.7" transform="rotate(167 634.7 375.5)" fill="#1f1f1f"/>
<ellipse cx="625.3" cy="368.9" rx="1.3" ry="1.5" transform="rotate(71 625.3 368.9)" fill="#1f1f1f"/>
<ellipse cx="644.5" cy="378.9" rx="1.2" ry="1.3" transform="rotate(121 644.5 378.9)" fill="#1f1f1f"/>
<ellipse cx="639.1" cy="376.4" rx="1.1" ry="1.2" transform="rotate(19 639.1 376.4)" fill="#1f1f1f"/>
<ellipse cx="638.1" cy="378.0" rx="1.3" ry="1.3" transform="rotate(34 638.1 378.0)" fill="#1f1f1f"/>
<ellipse cx="633.1" cy="370.3" rx="1.3" ry="1.3" transform="rotate(110 633.1 370.3)" fill="#1f1f1f"/>
<ellipse cx="639.8" cy="384.8" rx="1.7" ry="1.3" transform="rotate(27 639.8 384.8)" fill="#1f1f1f"/>
<ellipse cx="636.1" cy="381.2" rx="1.3" ry="1.1" transform="rotate(86 636.1 381.2)" fill="#1f1f1f"/>
<ellipse cx="640.1" cy="385.0" rx="1.3" ry="0.7" transform="rotate(75 640.1 385.0)" fill="#1f1f1f"/>
<ellipse cx="639.1" cy="374.5" rx="1.9" ry="1.0" transform="rotate(177 639.1 374.5)" fill="#1f1f1f"/>
<ellipse cx="628.6" cy="368.6" rx="1.1" ry="1.0" transform="rotate(13 628.6 368.6)" fill="#1f1f1f"/>
<ellipse cx="639.7" cy="382.0" rx="1.1" ry="1.1" transform="rotate(46 639.7 382.0)" fill="#1f1f1f"/>
<ellipse cx="635.2" cy="371.3" rx="1.0" ry="1.4" transform="rotate(50 635.2 371.3)" fill="#1f1f1f"/>
<ellipse cx="635.2" cy="369.7" rx="0.9" ry="0.9" transform="rotate(61 635.2 369.7)" fill="#1f1f1f"/>
<ellipse cx="641.9" cy="381.8" rx="1.4" ry="1.1" transform="rotate(120 641.9 381.8)" fill="#1f1f1f"/>
<ellipse cx="638.4" cy="383.6" rx="1.8" ry="1.0" transform="rotate(106 638.4 383.6)" fill="#1f1f1f"/>
<ellipse cx="638.5" cy="379.1" rx="1.7" ry="1.3" transform="rotate(1 638.5 379.1)" fill="#1f1f1f"/>
<ellipse cx="627.2" cy="364.9" rx="1.1" ry="0.9" transform="rotate(8 627.2 364.9)" fill="#1f1f1f"/>
<ellipse cx="630.8" cy="366.9" rx="1.9" ry="1.0" transform="rotate(65 630.8 366.9)" fill="#1f1f1f"/>
<ellipse cx="634.5" cy="369.5" rx="1.8" ry="1.5" transform="rotate(67 634.5 369.5)" fill="#1f1f1f"/>
<ellipse cx="641.5" cy="374.3" rx="1.8" ry="0.9" transform="rotate(156 641.5 374.3)" fill="#1f1f1f"/>
<ellipse cx="592.0" cy="343.6" rx="1.2" ry="1.2" transform="rotate(0 592.0 343.6)" fill="#1f1f1f"/>
<ellipse cx="599.6" cy="352.7" rx="1.6" ry="1.3" transform="rotate(0 599.6 352.7)" fill="#1f1f1f"/>
<ellipse cx="596.0" cy="360.3" rx="1.4" ry="2.2" transform="rotate(0 596.0 360.3)" fill="#1f1f1f"/>
<ellipse cx="601.7" cy="366.6" rx="2.0" ry="1.5" transform="rotate(0 601.7 366.6)" fill="#1f1f1f"/>
<ellipse cx="608.0" cy="353.4" rx="3.2" ry="1.3" transform="rotate(0 608.0 353.4)" fill="#1f1f1f"/>
<ellipse cx="611.0" cy="356.0" rx="1.2" ry="1.2" transform="rotate(0 611.0 356.0)" fill="#1f1f1f"/>
<ellipse cx="619.8" cy="347.0" rx="2.3" ry="1.6" transform="rotate(0 619.8 347.0)" fill="#1f1f1f"/>
<ellipse cx="648.3" cy="379.0" rx="1.3" ry="1.3" transform="rotate(0 648.3 379.0)" fill="#1f1f1f"/>
<ellipse cx="651.0" cy="385.0" rx="1.2" ry="1.2" transform="rotate(0 651.0 385.0)" fill="#1f1f1f"/>
<ellipse cx="658.0" cy="389.3" rx="1.2" ry="1.2" transform="rotate(0 658.0 389.3)" fill="#1f1f1f"/>
<ellipse cx="637.0" cy="384.0" rx="1.3" ry="1.3" transform="rotate(0 637.0 384.0)" fill="#1f1f1f"/>
<ellipse cx="624.0" cy="394.8" rx="9.5" ry="4.2" transform="rotate(42 624.0 394.8)" fill="#1f1f1f"/>
<ellipse cx="607.3" cy="391" rx="1.8" ry="2.6" fill="#fff" stroke="#1f1f1f" stroke-width="1.2"/>
<ellipse cx="634.0" cy="403.0" rx="3.0" ry="1.4" transform="rotate(30 634.0 403.0)" fill="#1f1f1f"/>
<ellipse cx="711.8" cy="467.3" rx="5.6" ry="4.2" transform="rotate(35 711.8 467.3)" fill="#1f1f1f"/>
<ellipse cx="702.0" cy="514.7" rx="3.6" ry="2.8" transform="rotate(0 702.0 514.7)" fill="#1f1f1f"/>
<ellipse cx="519.5" cy="192.0" rx="2.2" ry="4.2" transform="rotate(-25 519.5 192.0)" fill="#1f1f1f"/>
<ellipse cx="489.0" cy="131.5" rx="1.0" ry="1.0" transform="rotate(0 489.0 131.5)" fill="#1f1f1f"/>
<ellipse cx="491.5" cy="135.5" rx="1.0" ry="1.0" transform="rotate(0 491.5 135.5)" fill="#1f1f1f"/>
<ellipse cx="487.0" cy="137.0" rx="1.0" ry="1.0" transform="rotate(0 487.0 137.0)" fill="#1f1f1f"/>
<ellipse cx="493.0" cy="139.5" rx="1.0" ry="1.0" transform="rotate(0 493.0 139.5)" fill="#1f1f1f"/>
<ellipse cx="498.5" cy="149.0" rx="1.0" ry="1.0" transform="rotate(0 498.5 149.0)" fill="#1f1f1f"/>
<ellipse cx="502.0" cy="151.5" rx="1.0" ry="1.0" transform="rotate(0 502.0 151.5)" fill="#1f1f1f"/>
<ellipse cx="505.0" cy="155.0" rx="1.0" ry="1.0" transform="rotate(0 505.0 155.0)" fill="#1f1f1f"/>
<ellipse cx="523.0" cy="203.0" rx="1.0" ry="1.0" transform="rotate(0 523.0 203.0)" fill="#1f1f1f"/>
<ellipse cx="535.0" cy="258.0" rx="1.0" ry="1.0" transform="rotate(0 535.0 258.0)" fill="#1f1f1f"/>
<ellipse cx="538.0" cy="256.0" rx="1.0" ry="1.0" transform="rotate(0 538.0 256.0)" fill="#1f1f1f"/>
<ellipse cx="534.0" cy="261.0" rx="1.0" ry="1.0" transform="rotate(0 534.0 261.0)" fill="#1f1f1f"/>
<ellipse cx="722.3" cy="507.5" rx="1.1" ry="1.1" transform="rotate(0 722.3 507.5)" fill="#1f1f1f"/>
<ellipse cx="730.5" cy="514.5" rx="0.8" ry="1.6" transform="rotate(0 730.5 514.5)" fill="#1f1f1f"/>
<ellipse cx="994.0" cy="549.5" rx="3.2" ry="1.6" transform="rotate(10 994.0 549.5)" fill="#1f1f1f"/>
<ellipse cx="643.0" cy="976.0" rx="4.5" ry="2.2" transform="rotate(-40 643.0 976.0)" fill="#1f1f1f"/>
<ellipse cx="648.0" cy="970.0" rx="3.5" ry="1.8" transform="rotate(-40 648.0 970.0)" fill="#1f1f1f"/>
<ellipse cx="638.0" cy="981.0" rx="3.0" ry="1.6" transform="rotate(-30 638.0 981.0)" fill="#1f1f1f"/>
<ellipse cx="652.0" cy="966.0" rx="2.5" ry="1.4" transform="rotate(-40 652.0 966.0)" fill="#1f1f1f"/>
<ellipse cx="681.0" cy="928.0" rx="3.5" ry="1.5" transform="rotate(-55 681.0 928.0)" fill="#1f1f1f"/>
<ellipse cx="685.0" cy="922.0" rx="2.5" ry="1.2" transform="rotate(-55 685.0 922.0)" fill="#1f1f1f"/>
<ellipse cx="688.0" cy="916.0" rx="2.0" ry="1.0" transform="rotate(-55 688.0 916.0)" fill="#1f1f1f"/>
<ellipse cx="641.0" cy="971.0" rx="1.5" ry="1.5" transform="rotate(0 641.0 971.0)" fill="#1f1f1f"/>
<ellipse cx="618.0" cy="1020.0" rx="1.5" ry="2.5" transform="rotate(20 618.0 1020.0)" fill="#1f1f1f"/>
<ellipse cx="609.0" cy="1038.0" rx="2.2" ry="1.5" transform="rotate(-40 609.0 1038.0)" fill="#1f1f1f"/>
<ellipse cx="601.0" cy="1048.0" rx="2.6" ry="1.6" transform="rotate(-40 601.0 1048.0)" fill="#1f1f1f"/>
<ellipse cx="622.0" cy="1006.0" rx="1.3" ry="2.0" transform="rotate(10 622.0 1006.0)" fill="#1f1f1f"/>
<ellipse cx="593.0" cy="1178.0" rx="2.0" ry="3.0" transform="rotate(10 593.0 1178.0)" fill="#1f1f1f"/>
<ellipse cx="595.0" cy="1190.0" rx="2.2" ry="4.0" transform="rotate(10 595.0 1190.0)" fill="#1f1f1f"/>
<ellipse cx="597.0" cy="1203.0" rx="2.0" ry="4.0" transform="rotate(10 597.0 1203.0)" fill="#1f1f1f"/>
<ellipse cx="600.0" cy="1213.0" rx="1.6" ry="3.0" transform="rotate(10 600.0 1213.0)" fill="#1f1f1f"/>
<ellipse cx="594.0" cy="1160.0" rx="1.5" ry="1.5" transform="rotate(0 594.0 1160.0)" fill="#1f1f1f"/>
<ellipse cx="598.0" cy="1165.0" rx="1.0" ry="1.0" transform="rotate(0 598.0 1165.0)" fill="#1f1f1f"/>
<ellipse cx="596.0" cy="1172.0" rx="1.2" ry="1.0" transform="rotate(0 596.0 1172.0)" fill="#1f1f1f"/>
<ellipse cx="600.0" cy="1182.0" rx="1.0" ry="1.0" transform="rotate(0 600.0 1182.0)" fill="#1f1f1f"/>
<ellipse cx="603.0" cy="1188.0" rx="1.0" ry="1.0" transform="rotate(0 603.0 1188.0)" fill="#1f1f1f"/>
<ellipse cx="633.0" cy="1262.0" rx="1.2" ry="1.8" transform="rotate(0 633.0 1262.0)" fill="#1f1f1f"/>
<ellipse cx="636.0" cy="1270.0" rx="1.2" ry="2.0" transform="rotate(0 636.0 1270.0)" fill="#1f1f1f"/>
<ellipse cx="634.0" cy="1278.0" rx="1.4" ry="2.0" transform="rotate(0 634.0 1278.0)" fill="#1f1f1f"/>
<ellipse cx="632.0" cy="1286.0" rx="1.2" ry="2.0" transform="rotate(0 632.0 1286.0)" fill="#1f1f1f"/>
<ellipse cx="636.0" cy="1291.0" rx="1.0" ry="1.5" transform="rotate(0 636.0 1291.0)" fill="#1f1f1f"/>
<path d="M599.5 1166 L604 1162 L611 1156.5 L612.6 1158 L612 1164 L609.5 1169 L605 1173.5 L601.5 1172Z" fill="#1f1f1f"/>
<path d="M590.5 1099 L592 1098.5 L594 1106 L597.5 1113 L596.5 1114.5 L592 1108Z" fill="#33DD11"/>
<ellipse cx="46.0" cy="1094.0" rx="1.0" ry="1.0" transform="rotate(0 46.0 1094.0)" fill="#0055E0"/>
<ellipse cx="98.0" cy="1117.0" rx="0.8" ry="0.8" transform="rotate(0 98.0 1117.0)" fill="#0055E0"/>
<ellipse cx="77.0" cy="1127.0" rx="0.8" ry="0.8" transform="rotate(0 77.0 1127.0)" fill="#0055E0"/>
<ellipse cx="129.0" cy="1119.0" rx="0.9" ry="0.9" transform="rotate(0 129.0 1119.0)" fill="#0055E0"/>
<ellipse cx="113.0" cy="1152.0" rx="0.9" ry="0.9" transform="rotate(0 113.0 1152.0)" fill="#0055E0"/>
<ellipse cx="133.0" cy="1149.0" rx="0.9" ry="0.9" transform="rotate(0 133.0 1149.0)" fill="#0055E0"/>
<ellipse cx="184.0" cy="1159.0" rx="0.8" ry="0.8" transform="rotate(0 184.0 1159.0)" fill="#0055E0"/>
<ellipse cx="72.0" cy="1227.0" rx="0.9" ry="0.9" transform="rotate(0 72.0 1227.0)" fill="#0055E0"/>
<ellipse cx="13.0" cy="1288.0" rx="1.2" ry="1.2" transform="rotate(0 13.0 1288.0)" fill="#0055E0"/>
<ellipse cx="10.0" cy="880.0" rx="1.0" ry="1.0" transform="rotate(0 10.0 880.0)" fill="#0055E0"/>
<ellipse cx="58.0" cy="466.0" rx="0.8" ry="0.8" transform="rotate(0 58.0 466.0)" fill="#0055E0"/>
<ellipse cx="135.0" cy="1010.0" rx="1.6" ry="1.6" transform="rotate(0 135.0 1010.0)" fill="#0055E0"/>
<ellipse cx="316.0" cy="1076.0" rx="1.0" ry="1.0" transform="rotate(0 316.0 1076.0)" fill="#0055E0"/>
<ellipse cx="322.0" cy="1135.0" rx="1.0" ry="1.0" transform="rotate(0 322.0 1135.0)" fill="#0055E0"/>
<ellipse cx="334.0" cy="1187.0" rx="0.8" ry="0.8" transform="rotate(0 334.0 1187.0)" fill="#0055E0"/>
<ellipse cx="338.0" cy="1158.0" rx="1.0" ry="1.0" transform="rotate(0 338.0 1158.0)" fill="#0055E0"/>
<ellipse cx="345.0" cy="1183.0" rx="0.8" ry="0.8" transform="rotate(0 345.0 1183.0)" fill="#0055E0"/>
<ellipse cx="335.0" cy="1188.0" rx="0.8" ry="0.8" transform="rotate(0 335.0 1188.0)" fill="#0055E0"/>
<ellipse cx="399.0" cy="1203.0" rx="0.8" ry="0.8" transform="rotate(0 399.0 1203.0)" fill="#0055E0"/>
<ellipse cx="338.0" cy="1278.0" rx="0.9" ry="0.9" transform="rotate(0 338.0 1278.0)" fill="#0055E0"/>
<ellipse cx="449.0" cy="1001.0" rx="0.9" ry="0.9" transform="rotate(0 449.0 1001.0)" fill="#0055E0"/>
<ellipse cx="466.0" cy="1008.0" rx="0.9" ry="0.9" transform="rotate(0 466.0 1008.0)" fill="#0055E0"/>
<ellipse cx="439.0" cy="1062.0" rx="1.2" ry="1.2" transform="rotate(0 439.0 1062.0)" fill="#0055E0"/>
<ellipse cx="445.0" cy="1058.0" rx="1.0" ry="1.0" transform="rotate(0 445.0 1058.0)" fill="#0055E0"/>
<ellipse cx="452.0" cy="1058.0" rx="1.3" ry="1.3" transform="rotate(0 452.0 1058.0)" fill="#0055E0"/>
<ellipse cx="459.0" cy="1046.0" rx="1.4" ry="1.4" transform="rotate(0 459.0 1046.0)" fill="#0055E0"/>
<ellipse cx="455.0" cy="1055.0" rx="1.0" ry="1.0" transform="rotate(0 455.0 1055.0)" fill="#0055E0"/>
<ellipse cx="472.0" cy="1045.0" rx="0.8" ry="0.8" transform="rotate(0 472.0 1045.0)" fill="#0055E0"/>
<ellipse cx="443.0" cy="1066.0" rx="0.9" ry="0.9" transform="rotate(0 443.0 1066.0)" fill="#0055E0"/>
<ellipse cx="449.0" cy="1072.0" rx="0.8" ry="0.8" transform="rotate(0 449.0 1072.0)" fill="#0055E0"/>
<ellipse cx="479.0" cy="1062.0" rx="0.8" ry="0.8" transform="rotate(0 479.0 1062.0)" fill="#0055E0"/>
<ellipse cx="501.0" cy="1062.0" rx="0.8" ry="0.8" transform="rotate(0 501.0 1062.0)" fill="#0055E0"/>
<ellipse cx="463.0" cy="1031.0" rx="0.8" ry="0.8" transform="rotate(0 463.0 1031.0)" fill="#0055E0"/>
<ellipse cx="479.0" cy="1101.0" rx="1.1" ry="1.1" transform="rotate(0 479.0 1101.0)" fill="#0055E0"/>
<ellipse cx="485.0" cy="1096.0" rx="0.9" ry="0.9" transform="rotate(0 485.0 1096.0)" fill="#0055E0"/>
<ellipse cx="453.0" cy="1105.0" rx="0.7" ry="0.7" transform="rotate(0 453.0 1105.0)" fill="#0055E0"/>
<ellipse cx="459.0" cy="1115.0" rx="1.0" ry="1.0" transform="rotate(0 459.0 1115.0)" fill="#0055E0"/>
<ellipse cx="488.0" cy="1109.0" rx="0.8" ry="0.8" transform="rotate(0 488.0 1109.0)" fill="#0055E0"/>
<ellipse cx="498.0" cy="1119.0" rx="0.8" ry="0.8" transform="rotate(0 498.0 1119.0)" fill="#0055E0"/>
<ellipse cx="505.0" cy="1124.0" rx="0.8" ry="0.8" transform="rotate(0 505.0 1124.0)" fill="#0055E0"/>
<ellipse cx="561.0" cy="1170.0" rx="1.1" ry="1.1" transform="rotate(0 561.0 1170.0)" fill="#0055E0"/>
<ellipse cx="602.0" cy="1222.0" rx="0.8" ry="0.8" transform="rotate(0 602.0 1222.0)" fill="#0055E0"/>
<ellipse cx="597.0" cy="1238.0" rx="0.7" ry="0.7" transform="rotate(0 597.0 1238.0)" fill="#0055E0"/>
<ellipse cx="607.0" cy="1249.0" rx="0.8" ry="0.8" transform="rotate(0 607.0 1249.0)" fill="#0055E0"/>
<ellipse cx="603.0" cy="1272.0" rx="1.0" ry="1.0" transform="rotate(0 603.0 1272.0)" fill="#0055E0"/>
<ellipse cx="618.0" cy="1296.0" rx="0.9" ry="0.9" transform="rotate(0 618.0 1296.0)" fill="#0055E0"/>
<ellipse cx="267.0" cy="1260.0" rx="0.9" ry="0.9" transform="rotate(0 267.0 1260.0)" fill="#0055E0"/>
<ellipse cx="272.0" cy="1264.0" rx="0.9" ry="0.9" transform="rotate(0 272.0 1264.0)" fill="#0055E0"/>
<ellipse cx="268.0" cy="1271.0" rx="0.9" ry="0.9" transform="rotate(0 268.0 1271.0)" fill="#0055E0"/>
<ellipse cx="270.0" cy="1285.0" rx="1.2" ry="1.2" transform="rotate(0 270.0 1285.0)" fill="#0055E0"/>
<ellipse cx="274.0" cy="1291.0" rx="1.0" ry="1.0" transform="rotate(0 274.0 1291.0)" fill="#0055E0"/>
<ellipse cx="298.0" cy="1287.0" rx="0.9" ry="0.9" transform="rotate(0 298.0 1287.0)" fill="#0055E0"/>
<ellipse cx="300.0" cy="1283.0" rx="0.8" ry="0.8" transform="rotate(0 300.0 1283.0)" fill="#0055E0"/>
<ellipse cx="520.0" cy="943.0" rx="0.8" ry="0.8" transform="rotate(0 520.0 943.0)" fill="#0055E0"/>
<ellipse cx="590.0" cy="1089.0" rx="0.6" ry="0.6" transform="rotate(0 590.0 1089.0)" fill="#0055E0"/>
<ellipse cx="273.0" cy="800.0" rx="1.0" ry="2.0" transform="rotate(20 273.0 800.0)" fill="#0055E0"/>
<ellipse cx="288.0" cy="686.0" rx="1.0" ry="1.4" transform="rotate(0 288.0 686.0)" fill="#0055E0"/>
<ellipse cx="295.0" cy="681.0" rx="0.8" ry="1.0" transform="rotate(0 295.0 681.0)" fill="#0055E0"/>
<ellipse cx="328.0" cy="685.0" rx="0.9" ry="1.6" transform="rotate(0 328.0 685.0)" fill="#0055E0"/>
<ellipse cx="257.0" cy="700.0" rx="0.8" ry="1.2" transform="rotate(0 257.0 700.0)" fill="#0055E0"/>
<ellipse cx="326.0" cy="650.0" rx="0.9" ry="1.5" transform="rotate(0 326.0 650.0)" fill="#0055E0"/>
<ellipse cx="303.0" cy="622.0" rx="1.2" ry="1.6" transform="rotate(0 303.0 622.0)" fill="#0055E0"/>
<ellipse cx="330.0" cy="626.0" rx="0.9" ry="1.4" transform="rotate(0 330.0 626.0)" fill="#0055E0"/>
<ellipse cx="290.0" cy="700.0" rx="1.4" ry="1.0" transform="rotate(0 290.0 700.0)" fill="#0055E0"/>
<ellipse cx="298.0" cy="687.0" rx="1.2" ry="1.0" transform="rotate(0 298.0 687.0)" fill="#0055E0"/>
<ellipse cx="518.0" cy="760.0" rx="1.0" ry="1.0" transform="rotate(0 518.0 760.0)" fill="#0055E0"/>
<ellipse cx="268.0" cy="1290.0" rx="1.5" ry="4.0" transform="rotate(10 268.0 1290.0)" fill="#0055E0"/>
<ellipse cx="300.0" cy="680.0" rx="1.0" ry="1.6" transform="rotate(0 300.0 680.0)" fill="#0055E0"/>
<ellipse cx="400.0" cy="1005.0" rx="0.8" ry="0.8" transform="rotate(0 400.0 1005.0)" fill="#0055E0"/>
<ellipse cx="422.0" cy="645.0" rx="0.8" ry="0.8" transform="rotate(0 422.0 645.0)" fill="#0055E0"/>
<ellipse cx="420.0" cy="648.0" rx="0.8" ry="0.8" transform="rotate(0 420.0 648.0)" fill="#0055E0"/>
</g>
<text class="b" x="396" y="51.8" font-size="24.6" textLength="213.6" lengthAdjust="spacingAndGlyphs">WRSI - Extended</text>
<text x="398.6" y="106.9" font-size="23" textLength="209.8" lengthAdjust="spacingAndGlyphs">April Dekad 3 2023</text>
<rect x="207.5" y="1311.5" width="592" height="105" fill="#fff" stroke="#4a4a4a" stroke-width="1"/>
<text class="b" x="451" y="1337.5" font-size="17" textLength="103" lengthAdjust="spacingAndGlyphs">CROP WRSI</text>
<text class="b" x="430" y="1362.4" font-size="17" textLength="153" lengthAdjust="spacingAndGlyphs">grains:2023-04-3</text>
<g stroke="#444" stroke-width="0.8">
<rect x="214.5" y="1375.5" width="15" height="15" fill="#FF6020"/>
<rect x="214.5" y="1394" width="15" height="15" fill="#CDA434"/>
<rect x="360.5" y="1375.5" width="15" height="15" fill="#F6FFC6"/>
<rect x="360.5" y="1394" width="15" height="15" fill="#BEFF32"/>
<rect x="507.5" y="1375.5" width="15" height="15" fill="#33DD11"/>
<rect x="507.5" y="1394" width="15" height="15" fill="#00AA3C"/>
<rect x="654.5" y="1375.5" width="15" height="15" fill="#FFA2CC"/>
<rect x="654.5" y="1394" width="15" height="15" fill="#80FFF0"/>
</g>
<g font-size="15">
<text x="237" y="1388.8" textLength="91.4" lengthAdjust="spacingAndGlyphs" xml:space="preserve">&lt; 50  Failure</text>
<text x="237" y="1406.8" textLength="81.7" lengthAdjust="spacingAndGlyphs">50-59 Poor</text>
<text x="383.5" y="1388.8" textLength="116.3" lengthAdjust="spacingAndGlyphs">60-79 Mediocre</text>
<text x="383.5" y="1406.8" textLength="107.2" lengthAdjust="spacingAndGlyphs">80-94 Average</text>
<text x="530" y="1388.8" textLength="85.5" lengthAdjust="spacingAndGlyphs">95-99 Good</text>
<text x="530" y="1406.8" textLength="108.5" lengthAdjust="spacingAndGlyphs">100 Very Good</text>
<text x="677.3" y="1388.8" textLength="105.4" lengthAdjust="spacingAndGlyphs">No Start (Late)</text>
<text x="677.3" y="1406.8" textLength="81.2" lengthAdjust="spacingAndGlyphs">Yet to Start</text>
<text x="10" y="1454.8" textLength="222" lengthAdjust="spacingAndGlyphs">Map Produced by USGS/EROS</text>
<text x="428" y="1458.5" textLength="151" lengthAdjust="spacingAndGlyphs">Source: version final</text>
</g>
<g id="logos">
<!-- USGS -->
<g fill="#00794a">
<rect x="722.7" y="1440.7" width="13.2" height="12.8"/>
<g stroke="#fff" stroke-width="1" fill="none"><path d="M722.7 1443.2 L735.9 1451.5M722.7 1445.6 L735.9 1453M722.7 1450.6 L735.9 1441.8M722.7 1452.6 L735.9 1444.2"/></g>
<text x="737" y="1453.5" font-family="'Liberation Sans',sans-serif" font-weight="bold" font-size="17.8" textLength="36" lengthAdjust="spacingAndGlyphs" fill="#00794a">USGS</text>
<text x="722.7" y="1458.6" font-family="'Liberation Sans',sans-serif" font-style="italic" font-weight="bold" font-size="3.9" textLength="50.3" lengthAdjust="spacingAndGlyphs" fill="#00794a">science for a changing world</text>
</g>
<!-- CHC -->
<circle cx="785.3" cy="1449" r="7.5" fill="#EDB730"/>
<path d="M785.3 1444.6 C786.6 1447 787.5 1448.8 787.5 1450.4 a2.2 2.3 0 0 1 -4.4 0 C783.1 1448.8 784 1447 785.3 1444.6Z" fill="none" stroke="#3a3320" stroke-width="0.8"/>
<rect x="796.2" y="1440" width="0.7" height="19" fill="#444"/>
<g font-family="'Liberation Sans',sans-serif" font-weight="bold" fill="#3c3c3c">
<text x="798.4" y="1444.6" font-size="5.4" textLength="19.4" lengthAdjust="spacingAndGlyphs">Climate</text>
<text x="798.4" y="1449.8" font-size="5.4" textLength="20.6" lengthAdjust="spacingAndGlyphs">Hazards</text>
<text x="798.4" y="1455" font-size="5.4" textLength="16.4" lengthAdjust="spacingAndGlyphs">Center</text>
<text x="798.4" y="1458.8" font-size="3.2" textLength="32.6" lengthAdjust="spacingAndGlyphs">UC SANTA BARBARA</text>
</g>
<!-- NOAA -->
<circle cx="842.2" cy="1449" r="9.9" fill="#fff" stroke="#c9cfe0" stroke-width="0.6"/>
<clipPath id="nc"><circle cx="842.2" cy="1449" r="9"/></clipPath>
<g clip-path="url(#nc)">
<rect x="832" y="1439" width="21" height="21" fill="#1a2a6c"/>
<path d="M832 1449.5 C836 1447.5 839 1449.5 842 1453 C845 1448.5 849 1445.5 853 1444.5 L853 1460 L832 1460Z" fill="#2d9df0"/>
<path d="M832.5 1447.2 C836.5 1446.6 839.8 1449.2 842 1452.2 C844.6 1447.8 848.6 1444.4 852.6 1443.4 C848.8 1446.4 846 1450.4 843.8 1455.4 C842.6 1456.6 841.8 1456.2 841.2 1455 C839.2 1451.2 836.4 1448.4 832.5 1447.2Z" fill="#fff"/>
<text x="839.2" y="1445.2" font-family="'Liberation Sans',sans-serif" font-weight="bold" font-size="2.8" fill="#fff">NOAA</text>
</g>
<!-- USAID seal -->
<circle cx="865.7" cy="1449" r="9" fill="#fff" stroke="#2a3f8f" stroke-width="1"/>
<circle cx="865.7" cy="1449" r="6.6" fill="#e9eefa" stroke="#2a3f8f" stroke-width="0.5"/>
<rect x="861.6" y="1445.2" width="8.2" height="2.6" fill="#2a3f8f"/>
<rect x="861.6" y="1448.6" width="8.2" height="1.4" fill="#6c86c8"/>
<rect x="862" y="1451" width="7.4" height="1.3" fill="#c02030"/>
<rect x="862.8" y="1453.1" width="5.8" height="1.2" fill="#c02030"/>
<text x="876.3" y="1453.1" font-family="'Liberation Sans',sans-serif" font-weight="bold" font-size="14.2" textLength="44.6" lengthAdjust="spacingAndGlyphs"><tspan fill="#002a6c">US</tspan><tspan fill="#c2113a">AID</tspan></text>
<text x="877.4" y="1456.9" font-family="'Liberation Sans',sans-serif" font-weight="bold" font-size="3.1" textLength="43.4" lengthAdjust="spacingAndGlyphs" fill="#2a3f8f">FROM THE AMERICAN PEOPLE</text>
<!-- FEWS NET -->
<circle cx="937" cy="1449.4" r="8.6" fill="none" stroke="#e8812a" stroke-width="1.1" stroke-dasharray="9.5 4"/>
<circle cx="937" cy="1449.4" r="6.7" fill="#fff" stroke="#2c8a4e" stroke-width="0.8"/>
<path d="M932.2 1446 C933.4 1444.2 935.6 1443.6 936.8 1444.4 C937.2 1446 936 1446.8 936.2 1448.2 C936.6 1449.6 935.4 1450.6 935.2 1452 C935 1453.4 934.4 1454.6 933.6 1454.2 C932.6 1452.4 931.6 1450.8 931.4 1449 C931.2 1447.8 931.6 1446.8 932.2 1446Z" fill="#2c8a4e"/>
<path d="M938.4 1444.6 C940.4 1444 942.4 1445.6 943 1447.6 C942 1448.2 940.8 1447.8 940.2 1448.8 C939.6 1450 940.8 1451 940.4 1452.4 C940 1453.6 938.8 1454.4 938 1453.6 C937.6 1452 938.2 1450.4 937.8 1449 C937.4 1447.4 937.6 1445.6 938.4 1444.6Z" fill="#2c8a4e"/>
<text x="948.8" y="1453.5" font-family="'Liberation Sans',sans-serif" font-weight="bold" font-size="11.2" textLength="49.7" lengthAdjust="spacingAndGlyphs" fill="#333">FEWS NET</text>
</g>
</svg>
</body></html>
